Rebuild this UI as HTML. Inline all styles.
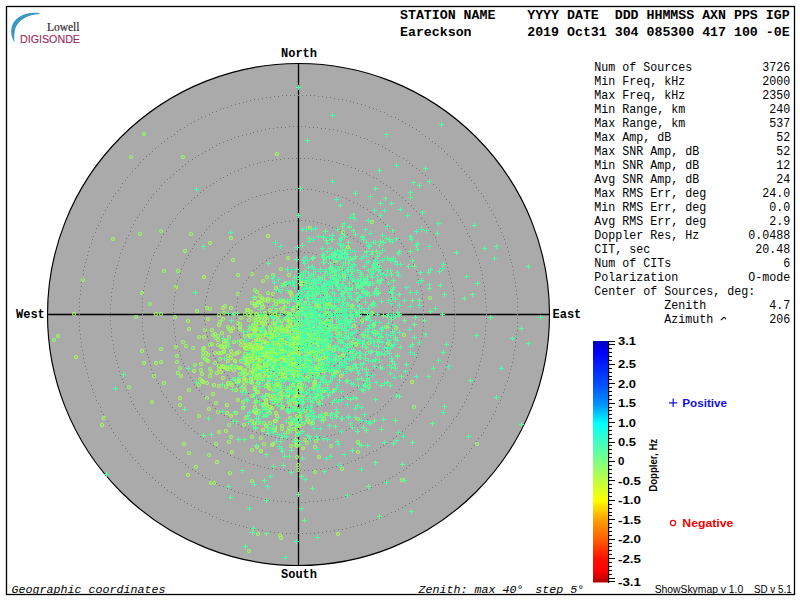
<!DOCTYPE html><html><head><meta charset="utf-8"><style>html,body{margin:0;padding:0;background:#fff;width:800px;height:600px;overflow:hidden}svg{display:block}</style></head><body><svg width="800" height="600" viewBox="0 0 800 600"><rect x="0" y="0" width="800" height="600" fill="#fff"/><rect x="6.5" y="6.5" width="788" height="588" fill="none" stroke="#000" stroke-width="1.3"/><path d="M39.5,13.2 C25,11 12,18 11.2,30 C11,35 12.5,39.5 14.5,42.5 C14,38 14.2,33 15.3,28.5 C18.5,19.5 28,14.5 39.5,13.9 Z" fill="#3a96c2"/><text x="79.5" y="30.5" text-anchor="end" font-family="Liberation Serif, serif" font-size="11.5" fill="#2a2228" stroke="#2a2228" stroke-width="0.15">Lowell</text><text x="20" y="42.6" font-family="Liberation Sans, sans-serif" font-size="10.2" fill="#9a2a62" stroke="#9a2a62" stroke-width="0.1" textLength="60" lengthAdjust="spacingAndGlyphs">DIGISONDE</text><text x="400" y="19.3" font-family="Liberation Mono, monospace" font-weight="bold" font-size="13.25" fill="#000" xml:space="preserve">STATION NAME    YYYY DATE  DDD HHMMSS AXN PPS IGP</text><text x="400" y="36.3" font-family="Liberation Mono, monospace" font-weight="bold" font-size="13.25" fill="#000" xml:space="preserve">Eareckson       2019 Oct31 304 085300 417 100 -0E</text><circle cx="298.5" cy="314.5" r="251" fill="#aaaaaa" stroke="#000" stroke-width="1.15"/><line x1="47.5" y1="314.5" x2="549.5" y2="314.5" stroke="#000" stroke-width="1.3"/><line x1="298.5" y1="63.5" x2="298.5" y2="565.5" stroke="#000" stroke-width="1.3"/><path d="M329,314h1v1h-1zM329,318h1v1h-1zM328,322h1v1h-1zM327,326h1v1h-1zM325,329h1v1h-1zM323,333h1v1h-1zM320,336h1v1h-1zM318,338h1v1h-1zM314,341h1v1h-1zM311,343h1v1h-1zM307,344h1v1h-1zM303,345h1v1h-1zM299,345h1v1h-1zM295,345h1v1h-1zM291,345h1v1h-1zM287,343h1v1h-1zM284,342h1v1h-1zM280,340h1v1h-1zM277,337h1v1h-1zM274,334h1v1h-1zM272,331h1v1h-1zM270,328h1v1h-1zM268,324h1v1h-1zM267,320h1v1h-1zM267,316h1v1h-1zM267,312h1v1h-1zM267,308h1v1h-1zM268,304h1v1h-1zM270,300h1v1h-1zM272,297h1v1h-1zM274,294h1v1h-1zM277,291h1v1h-1zM280,288h1v1h-1zM284,286h1v1h-1zM287,285h1v1h-1zM291,283h1v1h-1zM295,283h1v1h-1zM299,283h1v1h-1zM303,283h1v1h-1zM307,284h1v1h-1zM311,285h1v1h-1zM314,287h1v1h-1zM318,290h1v1h-1zM320,292h1v1h-1zM323,295h1v1h-1zM325,299h1v1h-1zM327,302h1v1h-1zM328,306h1v1h-1zM329,310h1v1h-1zM361,314h1v1h-1zM360,318h1v1h-1zM360,322h1v1h-1zM359,326h1v1h-1zM359,330h1v1h-1zM357,334h1v1h-1zM356,337h1v1h-1zM354,341h1v1h-1zM353,345h1v1h-1zM350,348h1v1h-1zM348,351h1v1h-1zM346,355h1v1h-1zM343,358h1v1h-1zM340,360h1v1h-1zM337,363h1v1h-1zM334,365h1v1h-1zM330,368h1v1h-1zM327,370h1v1h-1zM323,371h1v1h-1zM320,373h1v1h-1zM316,374h1v1h-1zM312,375h1v1h-1zM308,376h1v1h-1zM304,376h1v1h-1zM300,377h1v1h-1zM296,377h1v1h-1zM292,376h1v1h-1zM288,376h1v1h-1zM284,375h1v1h-1zM280,374h1v1h-1zM276,373h1v1h-1zM273,371h1v1h-1zM269,370h1v1h-1zM266,368h1v1h-1zM262,365h1v1h-1zM259,363h1v1h-1zM256,360h1v1h-1zM253,358h1v1h-1zM250,355h1v1h-1zM248,351h1v1h-1zM246,348h1v1h-1zM243,345h1v1h-1zM242,341h1v1h-1zM240,337h1v1h-1zM239,334h1v1h-1zM237,330h1v1h-1zM237,326h1v1h-1zM236,322h1v1h-1zM236,318h1v1h-1zM235,314h1v1h-1zM236,310h1v1h-1zM236,306h1v1h-1zM237,302h1v1h-1zM237,298h1v1h-1zM239,294h1v1h-1zM240,291h1v1h-1zM242,287h1v1h-1zM243,283h1v1h-1zM246,280h1v1h-1zM248,277h1v1h-1zM250,273h1v1h-1zM253,270h1v1h-1zM256,268h1v1h-1zM259,265h1v1h-1zM262,263h1v1h-1zM266,260h1v1h-1zM269,258h1v1h-1zM273,257h1v1h-1zM276,255h1v1h-1zM280,254h1v1h-1zM284,253h1v1h-1zM288,252h1v1h-1zM292,252h1v1h-1zM296,251h1v1h-1zM300,251h1v1h-1zM304,252h1v1h-1zM308,252h1v1h-1zM312,253h1v1h-1zM316,254h1v1h-1zM320,255h1v1h-1zM323,257h1v1h-1zM327,258h1v1h-1zM330,260h1v1h-1zM334,263h1v1h-1zM337,265h1v1h-1zM340,268h1v1h-1zM343,270h1v1h-1zM346,273h1v1h-1zM348,277h1v1h-1zM350,280h1v1h-1zM353,283h1v1h-1zM354,287h1v1h-1zM356,291h1v1h-1zM357,294h1v1h-1zM359,298h1v1h-1zM359,302h1v1h-1zM360,306h1v1h-1zM360,310h1v1h-1zM392,314h1v1h-1zM392,318h1v1h-1zM392,322h1v1h-1zM391,326h1v1h-1zM391,330h1v1h-1zM390,334h1v1h-1zM389,338h1v1h-1zM388,342h1v1h-1zM386,345h1v1h-1zM385,349h1v1h-1zM383,353h1v1h-1zM382,357h1v1h-1zM380,360h1v1h-1zM378,364h1v1h-1zM376,367h1v1h-1zM373,370h1v1h-1zM371,373h1v1h-1zM368,376h1v1h-1zM365,379h1v1h-1zM363,382h1v1h-1zM360,385h1v1h-1zM357,387h1v1h-1zM353,390h1v1h-1zM350,392h1v1h-1zM347,394h1v1h-1zM343,396h1v1h-1zM340,398h1v1h-1zM336,400h1v1h-1zM332,401h1v1h-1zM329,403h1v1h-1zM325,404h1v1h-1zM321,405h1v1h-1zM317,406h1v1h-1zM313,407h1v1h-1zM309,407h1v1h-1zM305,408h1v1h-1zM301,408h1v1h-1zM297,408h1v1h-1zM293,408h1v1h-1zM289,407h1v1h-1zM285,407h1v1h-1zM281,406h1v1h-1zM277,406h1v1h-1zM273,405h1v1h-1zM269,403h1v1h-1zM266,402h1v1h-1zM262,401h1v1h-1zM258,399h1v1h-1zM255,397h1v1h-1zM251,395h1v1h-1zM248,393h1v1h-1zM244,391h1v1h-1zM241,389h1v1h-1zM238,386h1v1h-1zM235,384h1v1h-1zM232,381h1v1h-1zM229,378h1v1h-1zM227,375h1v1h-1zM224,372h1v1h-1zM222,369h1v1h-1zM219,365h1v1h-1zM217,362h1v1h-1zM215,358h1v1h-1zM213,355h1v1h-1zM212,351h1v1h-1zM210,347h1v1h-1zM209,344h1v1h-1zM208,340h1v1h-1zM207,336h1v1h-1zM206,332h1v1h-1zM205,328h1v1h-1zM205,324h1v1h-1zM204,320h1v1h-1zM204,316h1v1h-1zM204,312h1v1h-1zM204,308h1v1h-1zM205,304h1v1h-1zM205,300h1v1h-1zM206,296h1v1h-1zM207,292h1v1h-1zM208,288h1v1h-1zM209,284h1v1h-1zM210,281h1v1h-1zM212,277h1v1h-1zM213,273h1v1h-1zM215,270h1v1h-1zM217,266h1v1h-1zM219,263h1v1h-1zM222,259h1v1h-1zM224,256h1v1h-1zM227,253h1v1h-1zM229,250h1v1h-1zM232,247h1v1h-1zM235,244h1v1h-1zM238,242h1v1h-1zM241,239h1v1h-1zM244,237h1v1h-1zM248,235h1v1h-1zM251,233h1v1h-1zM255,231h1v1h-1zM258,229h1v1h-1zM262,227h1v1h-1zM266,226h1v1h-1zM269,225h1v1h-1zM273,223h1v1h-1zM277,222h1v1h-1zM281,222h1v1h-1zM285,221h1v1h-1zM289,221h1v1h-1zM293,220h1v1h-1zM297,220h1v1h-1zM301,220h1v1h-1zM305,220h1v1h-1zM309,221h1v1h-1zM313,221h1v1h-1zM317,222h1v1h-1zM321,223h1v1h-1zM325,224h1v1h-1zM329,225h1v1h-1zM332,227h1v1h-1zM336,228h1v1h-1zM340,230h1v1h-1zM343,232h1v1h-1zM347,234h1v1h-1zM350,236h1v1h-1zM353,238h1v1h-1zM357,241h1v1h-1zM360,243h1v1h-1zM363,246h1v1h-1zM365,249h1v1h-1zM368,252h1v1h-1zM371,255h1v1h-1zM373,258h1v1h-1zM376,261h1v1h-1zM378,264h1v1h-1zM380,268h1v1h-1zM382,271h1v1h-1zM383,275h1v1h-1zM385,279h1v1h-1zM386,283h1v1h-1zM388,286h1v1h-1zM389,290h1v1h-1zM390,294h1v1h-1zM391,298h1v1h-1zM391,302h1v1h-1zM392,306h1v1h-1zM392,310h1v1h-1zM423,314h1v1h-1zM423,318h1v1h-1zM423,322h1v1h-1zM423,326h1v1h-1zM422,330h1v1h-1zM422,334h1v1h-1zM421,338h1v1h-1zM420,342h1v1h-1zM419,346h1v1h-1zM418,349h1v1h-1zM417,353h1v1h-1zM416,357h1v1h-1zM414,361h1v1h-1zM413,364h1v1h-1zM411,368h1v1h-1zM409,372h1v1h-1zM407,375h1v1h-1zM405,379h1v1h-1zM403,382h1v1h-1zM401,385h1v1h-1zM399,389h1v1h-1zM396,392h1v1h-1zM394,395h1v1h-1zM391,398h1v1h-1zM388,401h1v1h-1zM385,404h1v1h-1zM383,406h1v1h-1zM380,409h1v1h-1zM377,412h1v1h-1zM373,414h1v1h-1zM370,416h1v1h-1zM367,419h1v1h-1zM363,421h1v1h-1zM360,423h1v1h-1zM357,425h1v1h-1zM353,426h1v1h-1zM349,428h1v1h-1zM346,430h1v1h-1zM342,431h1v1h-1zM338,433h1v1h-1zM334,434h1v1h-1zM331,435h1v1h-1zM327,436h1v1h-1zM323,437h1v1h-1zM319,437h1v1h-1zM315,438h1v1h-1zM311,439h1v1h-1zM307,439h1v1h-1zM303,439h1v1h-1zM299,439h1v1h-1zM295,439h1v1h-1zM291,439h1v1h-1zM287,439h1v1h-1zM283,438h1v1h-1zM279,438h1v1h-1zM275,437h1v1h-1zM271,436h1v1h-1zM267,435h1v1h-1zM264,434h1v1h-1zM260,433h1v1h-1zM256,432h1v1h-1zM252,431h1v1h-1zM248,429h1v1h-1zM245,427h1v1h-1zM241,426h1v1h-1zM238,424h1v1h-1zM234,422h1v1h-1zM231,420h1v1h-1zM228,417h1v1h-1zM224,415h1v1h-1zM221,413h1v1h-1zM218,410h1v1h-1zM215,408h1v1h-1zM212,405h1v1h-1zM209,402h1v1h-1zM206,399h1v1h-1zM204,396h1v1h-1zM201,393h1v1h-1zM199,390h1v1h-1zM196,387h1v1h-1zM194,384h1v1h-1zM192,380h1v1h-1zM190,377h1v1h-1zM188,373h1v1h-1zM186,370h1v1h-1zM184,366h1v1h-1zM183,363h1v1h-1zM181,359h1v1h-1zM180,355h1v1h-1zM179,351h1v1h-1zM177,348h1v1h-1zM176,344h1v1h-1zM175,340h1v1h-1zM175,336h1v1h-1zM174,332h1v1h-1zM174,328h1v1h-1zM173,324h1v1h-1zM173,320h1v1h-1zM173,316h1v1h-1zM173,312h1v1h-1zM173,308h1v1h-1zM173,304h1v1h-1zM174,300h1v1h-1zM174,296h1v1h-1zM175,292h1v1h-1zM175,288h1v1h-1zM176,284h1v1h-1zM177,280h1v1h-1zM179,277h1v1h-1zM180,273h1v1h-1zM181,269h1v1h-1zM183,265h1v1h-1zM184,262h1v1h-1zM186,258h1v1h-1zM188,255h1v1h-1zM190,251h1v1h-1zM192,248h1v1h-1zM194,244h1v1h-1zM196,241h1v1h-1zM199,238h1v1h-1zM201,235h1v1h-1zM204,232h1v1h-1zM206,229h1v1h-1zM209,226h1v1h-1zM212,223h1v1h-1zM215,220h1v1h-1zM218,218h1v1h-1zM221,215h1v1h-1zM224,213h1v1h-1zM228,211h1v1h-1zM231,208h1v1h-1zM234,206h1v1h-1zM238,204h1v1h-1zM241,202h1v1h-1zM245,201h1v1h-1zM248,199h1v1h-1zM252,197h1v1h-1zM256,196h1v1h-1zM260,195h1v1h-1zM264,194h1v1h-1zM267,193h1v1h-1zM271,192h1v1h-1zM275,191h1v1h-1zM279,190h1v1h-1zM283,190h1v1h-1zM287,189h1v1h-1zM291,189h1v1h-1zM295,189h1v1h-1zM299,189h1v1h-1zM303,189h1v1h-1zM307,189h1v1h-1zM311,189h1v1h-1zM315,190h1v1h-1zM319,191h1v1h-1zM323,191h1v1h-1zM327,192h1v1h-1zM331,193h1v1h-1zM334,194h1v1h-1zM338,195h1v1h-1zM342,197h1v1h-1zM346,198h1v1h-1zM349,200h1v1h-1zM353,202h1v1h-1zM357,203h1v1h-1zM360,205h1v1h-1zM363,207h1v1h-1zM367,209h1v1h-1zM370,212h1v1h-1zM373,214h1v1h-1zM377,216h1v1h-1zM380,219h1v1h-1zM383,222h1v1h-1zM385,224h1v1h-1zM388,227h1v1h-1zM391,230h1v1h-1zM394,233h1v1h-1zM396,236h1v1h-1zM399,239h1v1h-1zM401,243h1v1h-1zM403,246h1v1h-1zM405,249h1v1h-1zM407,253h1v1h-1zM409,256h1v1h-1zM411,260h1v1h-1zM413,264h1v1h-1zM414,267h1v1h-1zM416,271h1v1h-1zM417,275h1v1h-1zM418,279h1v1h-1zM419,282h1v1h-1zM420,286h1v1h-1zM421,290h1v1h-1zM422,294h1v1h-1zM422,298h1v1h-1zM423,302h1v1h-1zM423,306h1v1h-1zM423,310h1v1h-1zM455,314h1v1h-1zM454,318h1v1h-1zM454,322h1v1h-1zM454,326h1v1h-1zM454,330h1v1h-1zM453,334h1v1h-1zM453,338h1v1h-1zM452,342h1v1h-1zM451,346h1v1h-1zM450,350h1v1h-1zM449,354h1v1h-1zM448,357h1v1h-1zM447,361h1v1h-1zM446,365h1v1h-1zM445,369h1v1h-1zM443,373h1v1h-1zM442,376h1v1h-1zM440,380h1v1h-1zM438,383h1v1h-1zM436,387h1v1h-1zM435,391h1v1h-1zM433,394h1v1h-1zM430,397h1v1h-1zM428,401h1v1h-1zM426,404h1v1h-1zM424,407h1v1h-1zM421,410h1v1h-1zM419,414h1v1h-1zM416,417h1v1h-1zM413,420h1v1h-1zM411,423h1v1h-1zM408,425h1v1h-1zM405,428h1v1h-1zM402,431h1v1h-1zM399,433h1v1h-1zM396,436h1v1h-1zM393,438h1v1h-1zM390,441h1v1h-1zM386,443h1v1h-1zM383,445h1v1h-1zM380,447h1v1h-1zM376,450h1v1h-1zM373,451h1v1h-1zM369,453h1v1h-1zM366,455h1v1h-1zM362,457h1v1h-1zM358,458h1v1h-1zM355,460h1v1h-1zM351,461h1v1h-1zM347,463h1v1h-1zM343,464h1v1h-1zM339,465h1v1h-1zM336,466h1v1h-1zM332,467h1v1h-1zM328,468h1v1h-1zM324,468h1v1h-1zM320,469h1v1h-1zM316,469h1v1h-1zM312,470h1v1h-1zM308,470h1v1h-1zM304,470h1v1h-1zM300,470h1v1h-1zM296,470h1v1h-1zM292,470h1v1h-1zM288,470h1v1h-1zM284,470h1v1h-1zM280,469h1v1h-1zM276,469h1v1h-1zM272,468h1v1h-1zM268,468h1v1h-1zM264,467h1v1h-1zM260,466h1v1h-1zM257,465h1v1h-1zM253,464h1v1h-1zM249,463h1v1h-1zM245,461h1v1h-1zM241,460h1v1h-1zM238,458h1v1h-1zM234,457h1v1h-1zM230,455h1v1h-1zM227,453h1v1h-1zM223,451h1v1h-1zM220,450h1v1h-1zM216,447h1v1h-1zM213,445h1v1h-1zM210,443h1v1h-1zM206,441h1v1h-1zM203,438h1v1h-1zM200,436h1v1h-1zM197,433h1v1h-1zM194,431h1v1h-1zM191,428h1v1h-1zM188,425h1v1h-1zM185,423h1v1h-1zM183,420h1v1h-1zM180,417h1v1h-1zM177,414h1v1h-1zM175,410h1v1h-1zM172,407h1v1h-1zM170,404h1v1h-1zM168,401h1v1h-1zM166,397h1v1h-1zM163,394h1v1h-1zM161,391h1v1h-1zM160,387h1v1h-1zM158,383h1v1h-1zM156,380h1v1h-1zM154,376h1v1h-1zM153,373h1v1h-1zM151,369h1v1h-1zM150,365h1v1h-1zM149,361h1v1h-1zM148,357h1v1h-1zM147,354h1v1h-1zM146,350h1v1h-1zM145,346h1v1h-1zM144,342h1v1h-1zM143,338h1v1h-1zM143,334h1v1h-1zM142,330h1v1h-1zM142,326h1v1h-1zM142,322h1v1h-1zM142,318h1v1h-1zM142,314h1v1h-1zM142,310h1v1h-1zM142,306h1v1h-1zM142,302h1v1h-1zM142,298h1v1h-1zM143,294h1v1h-1zM143,290h1v1h-1zM144,286h1v1h-1zM145,282h1v1h-1zM146,278h1v1h-1zM147,274h1v1h-1zM148,271h1v1h-1zM149,267h1v1h-1zM150,263h1v1h-1zM151,259h1v1h-1zM153,255h1v1h-1zM154,252h1v1h-1zM156,248h1v1h-1zM158,245h1v1h-1zM160,241h1v1h-1zM161,237h1v1h-1zM163,234h1v1h-1zM166,231h1v1h-1zM168,227h1v1h-1zM170,224h1v1h-1zM172,221h1v1h-1zM175,218h1v1h-1zM177,214h1v1h-1zM180,211h1v1h-1zM183,208h1v1h-1zM185,205h1v1h-1zM188,203h1v1h-1zM191,200h1v1h-1zM194,197h1v1h-1zM197,195h1v1h-1zM200,192h1v1h-1zM203,190h1v1h-1zM206,187h1v1h-1zM210,185h1v1h-1zM213,183h1v1h-1zM216,181h1v1h-1zM220,178h1v1h-1zM223,177h1v1h-1zM227,175h1v1h-1zM230,173h1v1h-1zM234,171h1v1h-1zM238,170h1v1h-1zM241,168h1v1h-1zM245,167h1v1h-1zM249,165h1v1h-1zM253,164h1v1h-1zM257,163h1v1h-1zM260,162h1v1h-1zM264,161h1v1h-1zM268,160h1v1h-1zM272,160h1v1h-1zM276,159h1v1h-1zM280,159h1v1h-1zM284,158h1v1h-1zM288,158h1v1h-1zM292,158h1v1h-1zM296,158h1v1h-1zM300,158h1v1h-1zM304,158h1v1h-1zM308,158h1v1h-1zM312,158h1v1h-1zM316,159h1v1h-1zM320,159h1v1h-1zM324,160h1v1h-1zM328,160h1v1h-1zM332,161h1v1h-1zM336,162h1v1h-1zM339,163h1v1h-1zM343,164h1v1h-1zM347,165h1v1h-1zM351,167h1v1h-1zM355,168h1v1h-1zM358,170h1v1h-1zM362,171h1v1h-1zM366,173h1v1h-1zM369,175h1v1h-1zM373,177h1v1h-1zM376,178h1v1h-1zM380,181h1v1h-1zM383,183h1v1h-1zM386,185h1v1h-1zM390,187h1v1h-1zM393,190h1v1h-1zM396,192h1v1h-1zM399,195h1v1h-1zM402,197h1v1h-1zM405,200h1v1h-1zM408,203h1v1h-1zM411,205h1v1h-1zM413,208h1v1h-1zM416,211h1v1h-1zM419,214h1v1h-1zM421,218h1v1h-1zM424,221h1v1h-1zM426,224h1v1h-1zM428,227h1v1h-1zM430,231h1v1h-1zM433,234h1v1h-1zM435,237h1v1h-1zM436,241h1v1h-1zM438,245h1v1h-1zM440,248h1v1h-1zM442,252h1v1h-1zM443,255h1v1h-1zM445,259h1v1h-1zM446,263h1v1h-1zM447,267h1v1h-1zM448,271h1v1h-1zM449,274h1v1h-1zM450,278h1v1h-1zM451,282h1v1h-1zM452,286h1v1h-1zM453,290h1v1h-1zM453,294h1v1h-1zM454,298h1v1h-1zM454,302h1v1h-1zM454,306h1v1h-1zM454,310h1v1h-1zM486,314h1v1h-1zM486,318h1v1h-1zM486,322h1v1h-1zM485,326h1v1h-1zM485,330h1v1h-1zM485,334h1v1h-1zM484,338h1v1h-1zM484,342h1v1h-1zM483,346h1v1h-1zM482,350h1v1h-1zM482,354h1v1h-1zM481,358h1v1h-1zM480,361h1v1h-1zM479,365h1v1h-1zM478,369h1v1h-1zM476,373h1v1h-1zM475,377h1v1h-1zM474,381h1v1h-1zM472,384h1v1h-1zM471,388h1v1h-1zM469,392h1v1h-1zM467,395h1v1h-1zM466,399h1v1h-1zM464,402h1v1h-1zM462,406h1v1h-1zM460,409h1v1h-1zM458,413h1v1h-1zM456,416h1v1h-1zM453,419h1v1h-1zM451,423h1v1h-1zM449,426h1v1h-1zM446,429h1v1h-1zM444,432h1v1h-1zM441,435h1v1h-1zM439,438h1v1h-1zM436,441h1v1h-1zM433,444h1v1h-1zM430,447h1v1h-1zM428,450h1v1h-1zM425,453h1v1h-1zM422,455h1v1h-1zM419,458h1v1h-1zM416,460h1v1h-1zM412,463h1v1h-1zM409,465h1v1h-1zM406,468h1v1h-1zM403,470h1v1h-1zM399,472h1v1h-1zM396,474h1v1h-1zM392,476h1v1h-1zM389,478h1v1h-1zM385,480h1v1h-1zM382,482h1v1h-1zM378,484h1v1h-1zM375,485h1v1h-1zM371,487h1v1h-1zM367,489h1v1h-1zM364,490h1v1h-1zM360,491h1v1h-1zM356,493h1v1h-1zM352,494h1v1h-1zM348,495h1v1h-1zM345,496h1v1h-1zM341,497h1v1h-1zM337,498h1v1h-1zM333,499h1v1h-1zM329,499h1v1h-1zM325,500h1v1h-1zM321,500h1v1h-1zM317,501h1v1h-1zM313,501h1v1h-1zM309,501h1v1h-1zM305,502h1v1h-1zM301,502h1v1h-1zM297,502h1v1h-1zM293,502h1v1h-1zM289,502h1v1h-1zM285,501h1v1h-1zM281,501h1v1h-1zM277,501h1v1h-1zM273,500h1v1h-1zM269,500h1v1h-1zM265,499h1v1h-1zM261,498h1v1h-1zM257,497h1v1h-1zM253,496h1v1h-1zM250,495h1v1h-1zM246,494h1v1h-1zM242,493h1v1h-1zM238,492h1v1h-1zM234,491h1v1h-1zM231,489h1v1h-1zM227,488h1v1h-1zM223,486h1v1h-1zM219,485h1v1h-1zM216,483h1v1h-1zM212,481h1v1h-1zM209,479h1v1h-1zM205,477h1v1h-1zM202,475h1v1h-1zM198,473h1v1h-1zM195,471h1v1h-1zM192,469h1v1h-1zM188,467h1v1h-1zM185,464h1v1h-1zM182,462h1v1h-1zM179,459h1v1h-1zM176,457h1v1h-1zM173,454h1v1h-1zM170,451h1v1h-1zM167,449h1v1h-1zM164,446h1v1h-1zM161,443h1v1h-1zM159,440h1v1h-1zM156,437h1v1h-1zM153,434h1v1h-1zM151,431h1v1h-1zM148,428h1v1h-1zM146,424h1v1h-1zM144,421h1v1h-1zM142,418h1v1h-1zM139,414h1v1h-1zM137,411h1v1h-1zM135,408h1v1h-1zM133,404h1v1h-1zM131,401h1v1h-1zM130,397h1v1h-1zM128,393h1v1h-1zM126,390h1v1h-1zM125,386h1v1h-1zM123,382h1v1h-1zM122,379h1v1h-1zM120,375h1v1h-1zM119,371h1v1h-1zM118,367h1v1h-1zM117,363h1v1h-1zM116,360h1v1h-1zM115,356h1v1h-1zM114,352h1v1h-1zM113,348h1v1h-1zM113,344h1v1h-1zM112,340h1v1h-1zM111,336h1v1h-1zM111,332h1v1h-1zM111,328h1v1h-1zM110,324h1v1h-1zM110,320h1v1h-1zM110,316h1v1h-1zM110,312h1v1h-1zM110,308h1v1h-1zM110,304h1v1h-1zM111,300h1v1h-1zM111,296h1v1h-1zM111,292h1v1h-1zM112,288h1v1h-1zM113,284h1v1h-1zM113,280h1v1h-1zM114,276h1v1h-1zM115,272h1v1h-1zM116,268h1v1h-1zM117,265h1v1h-1zM118,261h1v1h-1zM119,257h1v1h-1zM120,253h1v1h-1zM122,249h1v1h-1zM123,246h1v1h-1zM125,242h1v1h-1zM126,238h1v1h-1zM128,235h1v1h-1zM130,231h1v1h-1zM131,227h1v1h-1zM133,224h1v1h-1zM135,220h1v1h-1zM137,217h1v1h-1zM139,214h1v1h-1zM142,210h1v1h-1zM144,207h1v1h-1zM146,204h1v1h-1zM148,200h1v1h-1zM151,197h1v1h-1zM153,194h1v1h-1zM156,191h1v1h-1zM159,188h1v1h-1zM161,185h1v1h-1zM164,182h1v1h-1zM167,179h1v1h-1zM170,177h1v1h-1zM173,174h1v1h-1zM176,171h1v1h-1zM179,169h1v1h-1zM182,166h1v1h-1zM185,164h1v1h-1zM188,161h1v1h-1zM192,159h1v1h-1zM195,157h1v1h-1zM198,155h1v1h-1zM202,153h1v1h-1zM205,151h1v1h-1zM209,149h1v1h-1zM212,147h1v1h-1zM216,145h1v1h-1zM219,143h1v1h-1zM223,142h1v1h-1zM227,140h1v1h-1zM231,139h1v1h-1zM234,137h1v1h-1zM238,136h1v1h-1zM242,135h1v1h-1zM246,134h1v1h-1zM250,133h1v1h-1zM253,132h1v1h-1zM257,131h1v1h-1zM261,130h1v1h-1zM265,129h1v1h-1zM269,128h1v1h-1zM273,128h1v1h-1zM277,127h1v1h-1zM281,127h1v1h-1zM285,127h1v1h-1zM289,126h1v1h-1zM293,126h1v1h-1zM297,126h1v1h-1zM301,126h1v1h-1zM305,126h1v1h-1zM309,127h1v1h-1zM313,127h1v1h-1zM317,127h1v1h-1zM321,128h1v1h-1zM325,128h1v1h-1zM329,129h1v1h-1zM333,129h1v1h-1zM337,130h1v1h-1zM341,131h1v1h-1zM345,132h1v1h-1zM348,133h1v1h-1zM352,134h1v1h-1zM356,135h1v1h-1zM360,137h1v1h-1zM364,138h1v1h-1zM367,139h1v1h-1zM371,141h1v1h-1zM375,143h1v1h-1zM378,144h1v1h-1zM382,146h1v1h-1zM385,148h1v1h-1zM389,150h1v1h-1zM392,152h1v1h-1zM396,154h1v1h-1zM399,156h1v1h-1zM403,158h1v1h-1zM406,160h1v1h-1zM409,163h1v1h-1zM412,165h1v1h-1zM416,168h1v1h-1zM419,170h1v1h-1zM422,173h1v1h-1zM425,175h1v1h-1zM428,178h1v1h-1zM430,181h1v1h-1zM433,184h1v1h-1zM436,187h1v1h-1zM439,190h1v1h-1zM441,193h1v1h-1zM444,196h1v1h-1zM446,199h1v1h-1zM449,202h1v1h-1zM451,205h1v1h-1zM453,209h1v1h-1zM456,212h1v1h-1zM458,215h1v1h-1zM460,219h1v1h-1zM462,222h1v1h-1zM464,226h1v1h-1zM466,229h1v1h-1zM467,233h1v1h-1zM469,236h1v1h-1zM471,240h1v1h-1zM472,244h1v1h-1zM474,247h1v1h-1zM475,251h1v1h-1zM476,255h1v1h-1zM478,259h1v1h-1zM479,263h1v1h-1zM480,267h1v1h-1zM481,270h1v1h-1zM482,274h1v1h-1zM482,278h1v1h-1zM483,282h1v1h-1zM484,286h1v1h-1zM484,290h1v1h-1zM485,294h1v1h-1zM485,298h1v1h-1zM485,302h1v1h-1zM486,306h1v1h-1zM486,310h1v1h-1zM517,314h1v1h-1zM517,318h1v1h-1zM517,322h1v1h-1zM517,326h1v1h-1zM517,330h1v1h-1zM516,334h1v1h-1zM516,338h1v1h-1zM515,342h1v1h-1zM515,346h1v1h-1zM514,350h1v1h-1zM513,354h1v1h-1zM513,358h1v1h-1zM512,362h1v1h-1zM511,366h1v1h-1zM510,369h1v1h-1zM509,373h1v1h-1zM508,377h1v1h-1zM507,381h1v1h-1zM505,385h1v1h-1zM504,389h1v1h-1zM503,392h1v1h-1zM501,396h1v1h-1zM500,400h1v1h-1zM498,403h1v1h-1zM496,407h1v1h-1zM495,411h1v1h-1zM493,414h1v1h-1zM491,418h1v1h-1zM489,421h1v1h-1zM487,425h1v1h-1zM485,428h1v1h-1zM483,432h1v1h-1zM481,435h1v1h-1zM478,438h1v1h-1zM476,441h1v1h-1zM474,445h1v1h-1zM471,448h1v1h-1zM469,451h1v1h-1zM466,454h1v1h-1zM464,457h1v1h-1zM461,460h1v1h-1zM458,463h1v1h-1zM456,466h1v1h-1zM453,469h1v1h-1zM450,472h1v1h-1zM447,474h1v1h-1zM444,477h1v1h-1zM441,480h1v1h-1zM438,482h1v1h-1zM435,485h1v1h-1zM432,487h1v1h-1zM429,490h1v1h-1zM425,492h1v1h-1zM422,494h1v1h-1zM419,497h1v1h-1zM416,499h1v1h-1zM412,501h1v1h-1zM409,503h1v1h-1zM405,505h1v1h-1zM402,507h1v1h-1zM398,509h1v1h-1zM395,511h1v1h-1zM391,512h1v1h-1zM387,514h1v1h-1zM384,516h1v1h-1zM380,517h1v1h-1zM376,519h1v1h-1zM373,520h1v1h-1zM369,521h1v1h-1zM365,523h1v1h-1zM361,524h1v1h-1zM357,525h1v1h-1zM353,526h1v1h-1zM350,527h1v1h-1zM346,528h1v1h-1zM342,529h1v1h-1zM338,529h1v1h-1zM334,530h1v1h-1zM330,531h1v1h-1zM326,531h1v1h-1zM322,532h1v1h-1zM318,532h1v1h-1zM314,533h1v1h-1zM310,533h1v1h-1zM306,533h1v1h-1zM302,533h1v1h-1zM298,533h1v1h-1zM294,533h1v1h-1zM290,533h1v1h-1zM286,533h1v1h-1zM282,533h1v1h-1zM278,532h1v1h-1zM274,532h1v1h-1zM270,531h1v1h-1zM266,531h1v1h-1zM262,530h1v1h-1zM258,529h1v1h-1zM254,529h1v1h-1zM250,528h1v1h-1zM246,527h1v1h-1zM243,526h1v1h-1zM239,525h1v1h-1zM235,524h1v1h-1zM231,523h1v1h-1zM227,521h1v1h-1zM223,520h1v1h-1zM220,519h1v1h-1zM216,517h1v1h-1zM212,516h1v1h-1zM209,514h1v1h-1zM205,512h1v1h-1zM201,511h1v1h-1zM198,509h1v1h-1zM194,507h1v1h-1zM191,505h1v1h-1zM187,503h1v1h-1zM184,501h1v1h-1zM180,499h1v1h-1zM177,497h1v1h-1zM174,494h1v1h-1zM171,492h1v1h-1zM167,490h1v1h-1zM164,487h1v1h-1zM161,485h1v1h-1zM158,482h1v1h-1zM155,480h1v1h-1zM152,477h1v1h-1zM149,474h1v1h-1zM146,472h1v1h-1zM143,469h1v1h-1zM140,466h1v1h-1zM138,463h1v1h-1zM135,460h1v1h-1zM132,457h1v1h-1zM130,454h1v1h-1zM127,451h1v1h-1zM125,448h1v1h-1zM122,445h1v1h-1zM120,441h1v1h-1zM118,438h1v1h-1zM115,435h1v1h-1zM113,432h1v1h-1zM111,428h1v1h-1zM109,425h1v1h-1zM107,421h1v1h-1zM105,418h1v1h-1zM103,414h1v1h-1zM101,411h1v1h-1zM100,407h1v1h-1zM98,403h1v1h-1zM96,400h1v1h-1zM95,396h1v1h-1zM93,392h1v1h-1zM92,389h1v1h-1zM91,385h1v1h-1zM89,381h1v1h-1zM88,377h1v1h-1zM87,373h1v1h-1zM86,369h1v1h-1zM85,366h1v1h-1zM84,362h1v1h-1zM83,358h1v1h-1zM83,354h1v1h-1zM82,350h1v1h-1zM81,346h1v1h-1zM81,342h1v1h-1zM80,338h1v1h-1zM80,334h1v1h-1zM79,330h1v1h-1zM79,326h1v1h-1zM79,322h1v1h-1zM79,318h1v1h-1zM79,314h1v1h-1zM79,310h1v1h-1zM79,306h1v1h-1zM79,302h1v1h-1zM79,298h1v1h-1zM80,294h1v1h-1zM80,290h1v1h-1zM81,286h1v1h-1zM81,282h1v1h-1zM82,278h1v1h-1zM83,274h1v1h-1zM83,270h1v1h-1zM84,266h1v1h-1zM85,262h1v1h-1zM86,259h1v1h-1zM87,255h1v1h-1zM88,251h1v1h-1zM89,247h1v1h-1zM91,243h1v1h-1zM92,239h1v1h-1zM93,236h1v1h-1zM95,232h1v1h-1zM96,228h1v1h-1zM98,225h1v1h-1zM100,221h1v1h-1zM101,217h1v1h-1zM103,214h1v1h-1zM105,210h1v1h-1zM107,207h1v1h-1zM109,203h1v1h-1zM111,200h1v1h-1zM113,196h1v1h-1zM115,193h1v1h-1zM118,190h1v1h-1zM120,187h1v1h-1zM122,183h1v1h-1zM125,180h1v1h-1zM127,177h1v1h-1zM130,174h1v1h-1zM132,171h1v1h-1zM135,168h1v1h-1zM138,165h1v1h-1zM140,162h1v1h-1zM143,159h1v1h-1zM146,156h1v1h-1zM149,154h1v1h-1zM152,151h1v1h-1zM155,148h1v1h-1zM158,146h1v1h-1zM161,143h1v1h-1zM164,141h1v1h-1zM167,138h1v1h-1zM171,136h1v1h-1zM174,134h1v1h-1zM177,131h1v1h-1zM180,129h1v1h-1zM184,127h1v1h-1zM187,125h1v1h-1zM191,123h1v1h-1zM194,121h1v1h-1zM198,119h1v1h-1zM201,117h1v1h-1zM205,116h1v1h-1zM209,114h1v1h-1zM212,112h1v1h-1zM216,111h1v1h-1zM220,109h1v1h-1zM223,108h1v1h-1zM227,107h1v1h-1zM231,105h1v1h-1zM235,104h1v1h-1zM239,103h1v1h-1zM243,102h1v1h-1zM246,101h1v1h-1zM250,100h1v1h-1zM254,99h1v1h-1zM258,99h1v1h-1zM262,98h1v1h-1zM266,97h1v1h-1zM270,97h1v1h-1zM274,96h1v1h-1zM278,96h1v1h-1zM282,95h1v1h-1zM286,95h1v1h-1zM290,95h1v1h-1zM294,95h1v1h-1zM298,95h1v1h-1zM302,95h1v1h-1zM306,95h1v1h-1zM310,95h1v1h-1zM314,95h1v1h-1zM318,96h1v1h-1zM322,96h1v1h-1zM326,97h1v1h-1zM330,97h1v1h-1zM334,98h1v1h-1zM338,99h1v1h-1zM342,99h1v1h-1zM346,100h1v1h-1zM350,101h1v1h-1zM353,102h1v1h-1zM357,103h1v1h-1zM361,104h1v1h-1zM365,105h1v1h-1zM369,107h1v1h-1zM373,108h1v1h-1zM376,109h1v1h-1zM380,111h1v1h-1zM384,112h1v1h-1zM387,114h1v1h-1zM391,116h1v1h-1zM395,117h1v1h-1zM398,119h1v1h-1zM402,121h1v1h-1zM405,123h1v1h-1zM409,125h1v1h-1zM412,127h1v1h-1zM416,129h1v1h-1zM419,131h1v1h-1zM422,134h1v1h-1zM425,136h1v1h-1zM429,138h1v1h-1zM432,141h1v1h-1zM435,143h1v1h-1zM438,146h1v1h-1zM441,148h1v1h-1zM444,151h1v1h-1zM447,154h1v1h-1zM450,156h1v1h-1zM453,159h1v1h-1zM456,162h1v1h-1zM458,165h1v1h-1zM461,168h1v1h-1zM464,171h1v1h-1zM466,174h1v1h-1zM469,177h1v1h-1zM471,180h1v1h-1zM474,183h1v1h-1zM476,187h1v1h-1zM478,190h1v1h-1zM481,193h1v1h-1zM483,196h1v1h-1zM485,200h1v1h-1zM487,203h1v1h-1zM489,207h1v1h-1zM491,210h1v1h-1zM493,214h1v1h-1zM495,217h1v1h-1zM496,221h1v1h-1zM498,225h1v1h-1zM500,228h1v1h-1zM501,232h1v1h-1zM503,236h1v1h-1zM504,239h1v1h-1zM505,243h1v1h-1zM507,247h1v1h-1zM508,251h1v1h-1zM509,255h1v1h-1zM510,259h1v1h-1zM511,262h1v1h-1zM512,266h1v1h-1zM513,270h1v1h-1zM513,274h1v1h-1zM514,278h1v1h-1zM515,282h1v1h-1zM515,286h1v1h-1zM516,290h1v1h-1zM516,294h1v1h-1zM517,298h1v1h-1zM517,302h1v1h-1zM517,306h1v1h-1zM517,310h1v1h-1z" fill="#7c7c7c" shape-rendering="crispEdges"/><path d="M203.5,330a1.5,1.5 0 1,0 3,0a1.5,1.5 0 1,0-3,0M300.5,312a1.5,1.5 0 1,0 3,0a1.5,1.5 0 1,0-3,0M262.5,347a1.5,1.5 0 1,0 3,0a1.5,1.5 0 1,0-3,0M259.5,343a1.5,1.5 0 1,0 3,0a1.5,1.5 0 1,0-3,0M232.5,379a1.5,1.5 0 1,0 3,0a1.5,1.5 0 1,0-3,0M246.5,364a1.5,1.5 0 1,0 3,0a1.5,1.5 0 1,0-3,0M278.5,350a1.5,1.5 0 1,0 3,0a1.5,1.5 0 1,0-3,0M291.5,375a1.5,1.5 0 1,0 3,0a1.5,1.5 0 1,0-3,0M320.5,365a1.5,1.5 0 1,0 3,0a1.5,1.5 0 1,0-3,0M315.5,367a1.5,1.5 0 1,0 3,0a1.5,1.5 0 1,0-3,0M241.5,402a1.5,1.5 0 1,0 3,0a1.5,1.5 0 1,0-3,0M250.5,383a1.5,1.5 0 1,0 3,0a1.5,1.5 0 1,0-3,0M367.5,386a1.5,1.5 0 1,0 3,0a1.5,1.5 0 1,0-3,0M275.5,398a1.5,1.5 0 1,0 3,0a1.5,1.5 0 1,0-3,0M264.5,416a1.5,1.5 0 1,0 3,0a1.5,1.5 0 1,0-3,0M305.5,443a1.5,1.5 0 1,0 3,0a1.5,1.5 0 1,0-3,0M159.5,231a1.5,1.5 0 1,0 3,0a1.5,1.5 0 1,0-3,0M127.5,387a1.5,1.5 0 1,0 3,0a1.5,1.5 0 1,0-3,0" stroke="#8cff60" stroke-width="1.1" fill="none"/><path d="M284.5,283a1.5,1.5 0 1,0 3,0a1.5,1.5 0 1,0-3,0M208.5,309a1.5,1.5 0 1,0 3,0a1.5,1.5 0 1,0-3,0M265.5,321a1.5,1.5 0 1,0 3,0a1.5,1.5 0 1,0-3,0M216.5,336a1.5,1.5 0 1,0 3,0a1.5,1.5 0 1,0-3,0M227.5,337a1.5,1.5 0 1,0 3,0a1.5,1.5 0 1,0-3,0M256.5,350a1.5,1.5 0 1,0 3,0a1.5,1.5 0 1,0-3,0M250.5,328a1.5,1.5 0 1,0 3,0a1.5,1.5 0 1,0-3,0M320.5,338a1.5,1.5 0 1,0 3,0a1.5,1.5 0 1,0-3,0M318.5,351a1.5,1.5 0 1,0 3,0a1.5,1.5 0 1,0-3,0M307.5,324a1.5,1.5 0 1,0 3,0a1.5,1.5 0 1,0-3,0M208.5,345a1.5,1.5 0 1,0 3,0a1.5,1.5 0 1,0-3,0M203.5,359a1.5,1.5 0 1,0 3,0a1.5,1.5 0 1,0-3,0M266.5,365a1.5,1.5 0 1,0 3,0a1.5,1.5 0 1,0-3,0M280.5,364a1.5,1.5 0 1,0 3,0a1.5,1.5 0 1,0-3,0M271.5,355a1.5,1.5 0 1,0 3,0a1.5,1.5 0 1,0-3,0M292.5,359a1.5,1.5 0 1,0 3,0a1.5,1.5 0 1,0-3,0M281.5,374a1.5,1.5 0 1,0 3,0a1.5,1.5 0 1,0-3,0M304.5,356a1.5,1.5 0 1,0 3,0a1.5,1.5 0 1,0-3,0M226.5,384a1.5,1.5 0 1,0 3,0a1.5,1.5 0 1,0-3,0M296.5,377a1.5,1.5 0 1,0 3,0a1.5,1.5 0 1,0-3,0M276.5,381a1.5,1.5 0 1,0 3,0a1.5,1.5 0 1,0-3,0M326.5,383a1.5,1.5 0 1,0 3,0a1.5,1.5 0 1,0-3,0M288.5,402a1.5,1.5 0 1,0 3,0a1.5,1.5 0 1,0-3,0M322.5,415a1.5,1.5 0 1,0 3,0a1.5,1.5 0 1,0-3,0M214.5,444a1.5,1.5 0 1,0 3,0a1.5,1.5 0 1,0-3,0M228.5,473a1.5,1.5 0 1,0 3,0a1.5,1.5 0 1,0-3,0M134.5,317a1.5,1.5 0 1,0 3,0a1.5,1.5 0 1,0-3,0M309.5,314a1.5,1.5 0 1,0 3,0a1.5,1.5 0 1,0-3,0M249.5,316a1.5,1.5 0 1,0 3,0a1.5,1.5 0 1,0-3,0" stroke="#93ff5c" stroke-width="1.1" fill="none"/><path d="M265.5,277a1.5,1.5 0 1,0 3,0a1.5,1.5 0 1,0-3,0M286.5,302a1.5,1.5 0 1,0 3,0a1.5,1.5 0 1,0-3,0M299.5,324a1.5,1.5 0 1,0 3,0a1.5,1.5 0 1,0-3,0M274.5,310a1.5,1.5 0 1,0 3,0a1.5,1.5 0 1,0-3,0M298.5,304a1.5,1.5 0 1,0 3,0a1.5,1.5 0 1,0-3,0M344.5,317a1.5,1.5 0 1,0 3,0a1.5,1.5 0 1,0-3,0M363.5,312a1.5,1.5 0 1,0 3,0a1.5,1.5 0 1,0-3,0M260.5,329a1.5,1.5 0 1,0 3,0a1.5,1.5 0 1,0-3,0M252.5,330a1.5,1.5 0 1,0 3,0a1.5,1.5 0 1,0-3,0M265.5,344a1.5,1.5 0 1,0 3,0a1.5,1.5 0 1,0-3,0M326.5,347a1.5,1.5 0 1,0 3,0a1.5,1.5 0 1,0-3,0M333.5,326a1.5,1.5 0 1,0 3,0a1.5,1.5 0 1,0-3,0M307.5,330a1.5,1.5 0 1,0 3,0a1.5,1.5 0 1,0-3,0M303.5,329a1.5,1.5 0 1,0 3,0a1.5,1.5 0 1,0-3,0M310.5,344a1.5,1.5 0 1,0 3,0a1.5,1.5 0 1,0-3,0M311.5,340a1.5,1.5 0 1,0 3,0a1.5,1.5 0 1,0-3,0M201.5,349a1.5,1.5 0 1,0 3,0a1.5,1.5 0 1,0-3,0M239.5,368a1.5,1.5 0 1,0 3,0a1.5,1.5 0 1,0-3,0M253.5,374a1.5,1.5 0 1,0 3,0a1.5,1.5 0 1,0-3,0M264.5,369a1.5,1.5 0 1,0 3,0a1.5,1.5 0 1,0-3,0M270.5,352a1.5,1.5 0 1,0 3,0a1.5,1.5 0 1,0-3,0M294.5,360a1.5,1.5 0 1,0 3,0a1.5,1.5 0 1,0-3,0M289.5,369a1.5,1.5 0 1,0 3,0a1.5,1.5 0 1,0-3,0M282.5,365a1.5,1.5 0 1,0 3,0a1.5,1.5 0 1,0-3,0M313.5,353a1.5,1.5 0 1,0 3,0a1.5,1.5 0 1,0-3,0M266.5,384a1.5,1.5 0 1,0 3,0a1.5,1.5 0 1,0-3,0M277.5,386a1.5,1.5 0 1,0 3,0a1.5,1.5 0 1,0-3,0M294.5,392a1.5,1.5 0 1,0 3,0a1.5,1.5 0 1,0-3,0M280.5,426a1.5,1.5 0 1,0 3,0a1.5,1.5 0 1,0-3,0M297.5,401a1.5,1.5 0 1,0 3,0a1.5,1.5 0 1,0-3,0M301.5,424a1.5,1.5 0 1,0 3,0a1.5,1.5 0 1,0-3,0M318.5,416a1.5,1.5 0 1,0 3,0a1.5,1.5 0 1,0-3,0M271.5,444a1.5,1.5 0 1,0 3,0a1.5,1.5 0 1,0-3,0M294.5,445a1.5,1.5 0 1,0 3,0a1.5,1.5 0 1,0-3,0M174.5,347a1.5,1.5 0 1,0 3,0a1.5,1.5 0 1,0-3,0M198.5,379a1.5,1.5 0 1,0 3,0a1.5,1.5 0 1,0-3,0M254.5,314a1.5,1.5 0 1,0 3,0a1.5,1.5 0 1,0-3,0M297.5,331a1.5,1.5 0 1,0 3,0a1.5,1.5 0 1,0-3,0" stroke="#9aff58" stroke-width="1.1" fill="none"/><path d="M253.5,298a1.5,1.5 0 1,0 3,0a1.5,1.5 0 1,0-3,0M318.5,308a1.5,1.5 0 1,0 3,0a1.5,1.5 0 1,0-3,0M225.5,341a1.5,1.5 0 1,0 3,0a1.5,1.5 0 1,0-3,0M256.5,346a1.5,1.5 0 1,0 3,0a1.5,1.5 0 1,0-3,0M259.5,339a1.5,1.5 0 1,0 3,0a1.5,1.5 0 1,0-3,0M247.5,335a1.5,1.5 0 1,0 3,0a1.5,1.5 0 1,0-3,0M290.5,329a1.5,1.5 0 1,0 3,0a1.5,1.5 0 1,0-3,0M280.5,345a1.5,1.5 0 1,0 3,0a1.5,1.5 0 1,0-3,0M276.5,343a1.5,1.5 0 1,0 3,0a1.5,1.5 0 1,0-3,0M299.5,344a1.5,1.5 0 1,0 3,0a1.5,1.5 0 1,0-3,0M307.5,347a1.5,1.5 0 1,0 3,0a1.5,1.5 0 1,0-3,0M352.5,326a1.5,1.5 0 1,0 3,0a1.5,1.5 0 1,0-3,0M327.5,336a1.5,1.5 0 1,0 3,0a1.5,1.5 0 1,0-3,0M200.5,374a1.5,1.5 0 1,0 3,0a1.5,1.5 0 1,0-3,0M217.5,369a1.5,1.5 0 1,0 3,0a1.5,1.5 0 1,0-3,0M250.5,358a1.5,1.5 0 1,0 3,0a1.5,1.5 0 1,0-3,0M252.5,354a1.5,1.5 0 1,0 3,0a1.5,1.5 0 1,0-3,0M270.5,358a1.5,1.5 0 1,0 3,0a1.5,1.5 0 1,0-3,0M264.5,367a1.5,1.5 0 1,0 3,0a1.5,1.5 0 1,0-3,0M264.5,358a1.5,1.5 0 1,0 3,0a1.5,1.5 0 1,0-3,0M284.5,363a1.5,1.5 0 1,0 3,0a1.5,1.5 0 1,0-3,0M283.5,358a1.5,1.5 0 1,0 3,0a1.5,1.5 0 1,0-3,0M286.5,366a1.5,1.5 0 1,0 3,0a1.5,1.5 0 1,0-3,0M211.5,394a1.5,1.5 0 1,0 3,0a1.5,1.5 0 1,0-3,0M237.5,380a1.5,1.5 0 1,0 3,0a1.5,1.5 0 1,0-3,0M288.5,391a1.5,1.5 0 1,0 3,0a1.5,1.5 0 1,0-3,0M290.5,377a1.5,1.5 0 1,0 3,0a1.5,1.5 0 1,0-3,0M319.5,396a1.5,1.5 0 1,0 3,0a1.5,1.5 0 1,0-3,0M339.5,376a1.5,1.5 0 1,0 3,0a1.5,1.5 0 1,0-3,0M257.5,411a1.5,1.5 0 1,0 3,0a1.5,1.5 0 1,0-3,0M253.5,407a1.5,1.5 0 1,0 3,0a1.5,1.5 0 1,0-3,0M227.5,442a1.5,1.5 0 1,0 3,0a1.5,1.5 0 1,0-3,0M255.5,447a1.5,1.5 0 1,0 3,0a1.5,1.5 0 1,0-3,0M356.5,452a1.5,1.5 0 1,0 3,0a1.5,1.5 0 1,0-3,0M186.5,475a1.5,1.5 0 1,0 3,0a1.5,1.5 0 1,0-3,0M209.5,483a1.5,1.5 0 1,0 3,0a1.5,1.5 0 1,0-3,0M178.5,398a1.5,1.5 0 1,0 3,0a1.5,1.5 0 1,0-3,0" stroke="#a1ff54" stroke-width="1.1" fill="none"/><path d="M308.5,228a1.5,1.5 0 1,0 3,0a1.5,1.5 0 1,0-3,0M263.5,324a1.5,1.5 0 1,0 3,0a1.5,1.5 0 1,0-3,0M254.5,327a1.5,1.5 0 1,0 3,0a1.5,1.5 0 1,0-3,0M301.5,323a1.5,1.5 0 1,0 3,0a1.5,1.5 0 1,0-3,0M243.5,342a1.5,1.5 0 1,0 3,0a1.5,1.5 0 1,0-3,0M252.5,352a1.5,1.5 0 1,0 3,0a1.5,1.5 0 1,0-3,0M254.5,341a1.5,1.5 0 1,0 3,0a1.5,1.5 0 1,0-3,0M394.5,328a1.5,1.5 0 1,0 3,0a1.5,1.5 0 1,0-3,0M219.5,372a1.5,1.5 0 1,0 3,0a1.5,1.5 0 1,0-3,0M233.5,361a1.5,1.5 0 1,0 3,0a1.5,1.5 0 1,0-3,0M226.5,361a1.5,1.5 0 1,0 3,0a1.5,1.5 0 1,0-3,0M257.5,355a1.5,1.5 0 1,0 3,0a1.5,1.5 0 1,0-3,0M289.5,370a1.5,1.5 0 1,0 3,0a1.5,1.5 0 1,0-3,0M296.5,370a1.5,1.5 0 1,0 3,0a1.5,1.5 0 1,0-3,0M304.5,351a1.5,1.5 0 1,0 3,0a1.5,1.5 0 1,0-3,0M316.5,372a1.5,1.5 0 1,0 3,0a1.5,1.5 0 1,0-3,0M266.5,375a1.5,1.5 0 1,0 3,0a1.5,1.5 0 1,0-3,0M267.5,384a1.5,1.5 0 1,0 3,0a1.5,1.5 0 1,0-3,0M217.5,432a1.5,1.5 0 1,0 3,0a1.5,1.5 0 1,0-3,0M296.5,317a1.5,1.5 0 1,0 3,0a1.5,1.5 0 1,0-3,0M296.5,420a1.5,1.5 0 1,0 3,0a1.5,1.5 0 1,0-3,0" stroke="#a8ff50" stroke-width="1.1" fill="none"/><path d="M307,241.5h5M309.5,239v5M327,237.5h5M329.5,235v5M346,242.5h5M348.5,240v5M338,251.5h5M340.5,249v5M370,272.5h5M372.5,270v5M276,279.5h5M278.5,277v5M296,293.5h5M298.5,291v5M303,288.5h5M305.5,286v5M310,286.5h5M312.5,284v5M317,322.5h5M319.5,320v5M328,306.5h5M330.5,304v5M318,303.5h5M320.5,301v5M342,315.5h5M344.5,313v5M332,302.5h5M334.5,300v5M289,347.5h5M291.5,345v5M286,342.5h5M288.5,340v5M320,334.5h5M322.5,332v5M303,335.5h5M305.5,333v5M349,333.5h5M351.5,331v5M366,338.5h5M368.5,336v5M372,345.5h5M374.5,343v5M273,367.5h5M275.5,365v5M259,360.5h5M261.5,358v5M324,365.5h5M326.5,363v5M304,347.5h5M306.5,345v5M322,369.5h5M324.5,367v5M349,370.5h5M351.5,368v5M276,398.5h5M278.5,396v5M314,394.5h5M316.5,392v5M335,385.5h5M337.5,383v5M274,401.5h5M276.5,399v5M284,410.5h5M286.5,408v5M279,435.5h5M281.5,433v5M394,165.5h5M396.5,163v5M289,269.5h5M291.5,267v5M304,315.5h5M306.5,313v5M307,314.5h5M309.5,312v5" stroke="#40ffb0" stroke-width="1" fill="none" shape-rendering="crispEdges"/><path d="M348,250.5h5M350.5,248v5M328,248.5h5M330.5,246v5M363,229.5h5M365.5,227v5M310,266.5h5M312.5,264v5M340,272.5h5M342.5,270v5M343,278.5h5M345.5,276v5M338,277.5h5M340.5,275v5M320,248.5h5M322.5,246v5M330,267.5h5M332.5,265v5M333,258.5h5M335.5,256v5M393,261.5h5M395.5,259v5M375,276.5h5M377.5,274v5M279,299.5h5M281.5,297v5M308,285.5h5M310.5,283v5M305,280.5h5M307.5,278v5M302,287.5h5M304.5,285v5M313,287.5h5M315.5,285v5M313,292.5h5M315.5,290v5M336,278.5h5M338.5,276v5M356,285.5h5M358.5,283v5M354,287.5h5M356.5,285v5M296,315.5h5M298.5,313v5M297,305.5h5M299.5,303v5M326,321.5h5M328.5,319v5M324,320.5h5M326.5,318v5M310,317.5h5M312.5,315v5M299,315.5h5M301.5,313v5M346,321.5h5M348.5,319v5M253,333.5h5M255.5,331v5M268,328.5h5M270.5,326v5M277,344.5h5M279.5,342v5M326,331.5h5M328.5,329v5M307,342.5h5M309.5,340v5M310,326.5h5M312.5,324v5M247,356.5h5M249.5,354v5M275,357.5h5M277.5,355v5M320,361.5h5M322.5,359v5M322,353.5h5M324.5,351v5M315,349.5h5M317.5,347v5M337,360.5h5M339.5,358v5M322,354.5h5M324.5,352v5M329,367.5h5M331.5,365v5M330,350.5h5M332.5,348v5M377,353.5h5M379.5,351v5M320,396.5h5M322.5,394v5M310,400.5h5M312.5,398v5M314,395.5h5M316.5,393v5M332,400.5h5M334.5,398v5M344,381.5h5M346.5,379v5M334,389.5h5M336.5,387v5M351,384.5h5M353.5,382v5M292,408.5h5M294.5,406v5M364,421.5h5M366.5,419v5M368,422.5h5M370.5,420v5M381,419.5h5M383.5,417v5M265,430.5h5M267.5,428v5M228,232.5h5M230.5,230v5M414,292.5h5M416.5,290v5M407,329.5h5M409.5,327v5M337,465.5h5M339.5,463v5" stroke="#48ffa8" stroke-width="1" fill="none" shape-rendering="crispEdges"/><path d="M330,235.5h5M332.5,233v5M334,275.5h5M336.5,273v5M329,256.5h5M331.5,254v5M339,257.5h5M341.5,255v5M398,264.5h5M400.5,262v5M287,282.5h5M289.5,280v5M292,277.5h5M294.5,275v5M307,281.5h5M309.5,279v5M300,280.5h5M302.5,278v5M311,274.5h5M313.5,272v5M366,285.5h5M368.5,283v5M350,280.5h5M352.5,278v5M379,301.5h5M381.5,299v5M397,294.5h5M399.5,292v5M322,322.5h5M324.5,320v5M317,315.5h5M319.5,313v5M337,312.5h5M339.5,310v5M343,313.5h5M345.5,311v5M364,318.5h5M366.5,316v5M359,323.5h5M361.5,321v5M268,351.5h5M270.5,349v5M255,336.5h5M257.5,334v5M276,327.5h5M278.5,325v5M312,340.5h5M314.5,338v5M305,336.5h5M307.5,334v5M300,326.5h5M302.5,324v5M324,322.5h5M326.5,320v5M326,332.5h5M328.5,330v5M334,336.5h5M336.5,334v5M322,337.5h5M324.5,335v5M349,327.5h5M351.5,325v5M388,335.5h5M390.5,333v5M395,355.5h5M397.5,353v5M379,331.5h5M381.5,329v5M224,365.5h5M226.5,363v5M241,357.5h5M243.5,355v5M254,368.5h5M256.5,366v5M271,348.5h5M273.5,346v5M260,381.5h5M262.5,379v5M253,374.5h5M255.5,372v5M290,349.5h5M292.5,347v5M298,363.5h5M300.5,361v5M341,373.5h5M343.5,371v5M358,364.5h5M360.5,362v5M387,353.5h5M389.5,351v5M261,397.5h5M263.5,395v5M262,386.5h5M264.5,384v5M263,395.5h5M265.5,393v5M293,393.5h5M295.5,391v5M300,389.5h5M302.5,387v5M314,393.5h5M316.5,391v5M300,401.5h5M302.5,399v5M328,380.5h5M330.5,378v5M254,418.5h5M256.5,416v5M264,425.5h5M266.5,423v5M286,410.5h5M288.5,408v5M290,422.5h5M292.5,420v5M299,413.5h5M301.5,411v5M318,392.5h5M320.5,390v5M305,407.5h5M307.5,405v5M333,414.5h5M335.5,412v5M318,404.5h5M320.5,402v5M417,342.5h5M419.5,340v5M404,364.5h5M406.5,362v5M300,458.5h5M302.5,456v5M264,500.5h5M266.5,498v5M228,497.5h5M230.5,495v5" stroke="#50ffa0" stroke-width="1" fill="none" shape-rendering="crispEdges"/><path d="M381,242.5h5M383.5,240v5M348,269.5h5M350.5,267v5M327,256.5h5M329.5,254v5M337,254.5h5M339.5,252v5M366,270.5h5M368.5,268v5M385,270.5h5M387.5,268v5M388,270.5h5M390.5,268v5M293,297.5h5M295.5,295v5M312,287.5h5M314.5,285v5M304,282.5h5M306.5,280v5M316,280.5h5M318.5,278v5M326,287.5h5M328.5,285v5M324,283.5h5M326.5,281v5M354,287.5h5M356.5,285v5M364,293.5h5M366.5,291v5M361,292.5h5M363.5,290v5M374,288.5h5M376.5,286v5M282,306.5h5M284.5,304v5M308,312.5h5M310.5,310v5M301,309.5h5M303.5,307v5M312,308.5h5M314.5,306v5M331,307.5h5M333.5,305v5M334,328.5h5M336.5,326v5M349,319.5h5M351.5,317v5M324,302.5h5M326.5,300v5M363,318.5h5M365.5,316v5M235,341.5h5M237.5,339v5M286,349.5h5M288.5,347v5M287,338.5h5M289.5,336v5M294,355.5h5M296.5,353v5M280,349.5h5M282.5,347v5M305,331.5h5M307.5,329v5M302,348.5h5M304.5,346v5M308,339.5h5M310.5,337v5M302,344.5h5M304.5,342v5M312,335.5h5M314.5,333v5M303,328.5h5M305.5,326v5M307,341.5h5M309.5,339v5M314,351.5h5M316.5,349v5M306,323.5h5M308.5,321v5M320,341.5h5M322.5,339v5M350,351.5h5M352.5,349v5M365,331.5h5M367.5,329v5M354,353.5h5M356.5,351v5M368,338.5h5M370.5,336v5M398,347.5h5M400.5,345v5M274,350.5h5M276.5,348v5M254,370.5h5M256.5,368v5M273,367.5h5M275.5,365v5M258,367.5h5M260.5,365v5M261,361.5h5M263.5,359v5M259,350.5h5M261.5,348v5M295,369.5h5M297.5,367v5M300,348.5h5M302.5,346v5M318,367.5h5M320.5,365v5M321,377.5h5M323.5,375v5M351,358.5h5M353.5,356v5M373,359.5h5M375.5,357v5M390,361.5h5M392.5,359v5M235,383.5h5M237.5,381v5M220,384.5h5M222.5,382v5M260,396.5h5M262.5,394v5M303,386.5h5M305.5,384v5M279,402.5h5M281.5,400v5M330,392.5h5M332.5,390v5M363,380.5h5M365.5,378v5M256,414.5h5M258.5,412v5M253,427.5h5M255.5,425v5M274,398.5h5M276.5,396v5M330,402.5h5M332.5,400v5M391,443.5h5M393.5,441v5M417,300.5h5M419.5,298v5M422,320.5h5M424.5,318v5M423,334.5h5M425.5,332v5M468,380.5h5M470.5,378v5M430,423.5h5M432.5,421v5M281,465.5h5M283.5,463v5M393,316.5h5M395.5,314v5M296,368.5h5M298.5,366v5" stroke="#58ff98" stroke-width="1" fill="none" shape-rendering="crispEdges"/><path d="M307,238.5h5M309.5,236v5M328,268.5h5M330.5,266v5M351,264.5h5M353.5,262v5M321,285.5h5M323.5,283v5M284,317.5h5M286.5,315v5M295,305.5h5M297.5,303v5M310,321.5h5M312.5,319v5M303,304.5h5M305.5,302v5M345,321.5h5M347.5,319v5M324,324.5h5M326.5,322v5M268,331.5h5M270.5,329v5M274,325.5h5M276.5,323v5M319,339.5h5M321.5,337v5M318,337.5h5M320.5,335v5M315,353.5h5M317.5,351v5M337,332.5h5M339.5,330v5M393,339.5h5M395.5,337v5M376,339.5h5M378.5,337v5M285,389.5h5M287.5,387v5M345,380.5h5M347.5,378v5M322,390.5h5M324.5,388v5M231,421.5h5M233.5,419v5M201,435.5h5M203.5,433v5M293,439.5h5M295.5,437v5M412,266.5h5M414.5,264v5M373,462.5h5M375.5,460v5M264,533.5h5M266.5,531v5" stroke="#60ff90" stroke-width="1" fill="none" shape-rendering="crispEdges"/><path d="M329.5,283a1.5,1.5 0 1,0 3,0a1.5,1.5 0 1,0-3,0M256.5,348a1.5,1.5 0 1,0 3,0a1.5,1.5 0 1,0-3,0M254.5,322a1.5,1.5 0 1,0 3,0a1.5,1.5 0 1,0-3,0M298.5,340a1.5,1.5 0 1,0 3,0a1.5,1.5 0 1,0-3,0M313.5,333a1.5,1.5 0 1,0 3,0a1.5,1.5 0 1,0-3,0M255.5,351a1.5,1.5 0 1,0 3,0a1.5,1.5 0 1,0-3,0M269.5,359a1.5,1.5 0 1,0 3,0a1.5,1.5 0 1,0-3,0M262.5,354a1.5,1.5 0 1,0 3,0a1.5,1.5 0 1,0-3,0M264.5,346a1.5,1.5 0 1,0 3,0a1.5,1.5 0 1,0-3,0M294.5,369a1.5,1.5 0 1,0 3,0a1.5,1.5 0 1,0-3,0M278.5,374a1.5,1.5 0 1,0 3,0a1.5,1.5 0 1,0-3,0M268.5,413a1.5,1.5 0 1,0 3,0a1.5,1.5 0 1,0-3,0M313.5,447a1.5,1.5 0 1,0 3,0a1.5,1.5 0 1,0-3,0M329.5,446a1.5,1.5 0 1,0 3,0a1.5,1.5 0 1,0-3,0M148.5,304a1.5,1.5 0 1,0 3,0a1.5,1.5 0 1,0-3,0" stroke="#8cff60" stroke-width="1.1" fill="none"/><path d="M260.5,298a1.5,1.5 0 1,0 3,0a1.5,1.5 0 1,0-3,0M266.5,293a1.5,1.5 0 1,0 3,0a1.5,1.5 0 1,0-3,0M289.5,293a1.5,1.5 0 1,0 3,0a1.5,1.5 0 1,0-3,0M282.5,301a1.5,1.5 0 1,0 3,0a1.5,1.5 0 1,0-3,0M279.5,309a1.5,1.5 0 1,0 3,0a1.5,1.5 0 1,0-3,0M279.5,325a1.5,1.5 0 1,0 3,0a1.5,1.5 0 1,0-3,0M340.5,305a1.5,1.5 0 1,0 3,0a1.5,1.5 0 1,0-3,0M226.5,327a1.5,1.5 0 1,0 3,0a1.5,1.5 0 1,0-3,0M249.5,349a1.5,1.5 0 1,0 3,0a1.5,1.5 0 1,0-3,0M222.5,344a1.5,1.5 0 1,0 3,0a1.5,1.5 0 1,0-3,0M261.5,328a1.5,1.5 0 1,0 3,0a1.5,1.5 0 1,0-3,0M258.5,337a1.5,1.5 0 1,0 3,0a1.5,1.5 0 1,0-3,0M276.5,320a1.5,1.5 0 1,0 3,0a1.5,1.5 0 1,0-3,0M290.5,335a1.5,1.5 0 1,0 3,0a1.5,1.5 0 1,0-3,0M282.5,351a1.5,1.5 0 1,0 3,0a1.5,1.5 0 1,0-3,0M290.5,346a1.5,1.5 0 1,0 3,0a1.5,1.5 0 1,0-3,0M364.5,336a1.5,1.5 0 1,0 3,0a1.5,1.5 0 1,0-3,0M199.5,370a1.5,1.5 0 1,0 3,0a1.5,1.5 0 1,0-3,0M237.5,352a1.5,1.5 0 1,0 3,0a1.5,1.5 0 1,0-3,0M243.5,370a1.5,1.5 0 1,0 3,0a1.5,1.5 0 1,0-3,0M242.5,362a1.5,1.5 0 1,0 3,0a1.5,1.5 0 1,0-3,0M274.5,358a1.5,1.5 0 1,0 3,0a1.5,1.5 0 1,0-3,0M251.5,350a1.5,1.5 0 1,0 3,0a1.5,1.5 0 1,0-3,0M274.5,359a1.5,1.5 0 1,0 3,0a1.5,1.5 0 1,0-3,0M268.5,362a1.5,1.5 0 1,0 3,0a1.5,1.5 0 1,0-3,0M275.5,365a1.5,1.5 0 1,0 3,0a1.5,1.5 0 1,0-3,0M297.5,354a1.5,1.5 0 1,0 3,0a1.5,1.5 0 1,0-3,0M292.5,374a1.5,1.5 0 1,0 3,0a1.5,1.5 0 1,0-3,0M279.5,363a1.5,1.5 0 1,0 3,0a1.5,1.5 0 1,0-3,0M279.5,379a1.5,1.5 0 1,0 3,0a1.5,1.5 0 1,0-3,0M306.5,377a1.5,1.5 0 1,0 3,0a1.5,1.5 0 1,0-3,0M304.5,365a1.5,1.5 0 1,0 3,0a1.5,1.5 0 1,0-3,0M299.5,368a1.5,1.5 0 1,0 3,0a1.5,1.5 0 1,0-3,0M284.5,371a1.5,1.5 0 1,0 3,0a1.5,1.5 0 1,0-3,0M289.5,446a1.5,1.5 0 1,0 3,0a1.5,1.5 0 1,0-3,0M313.5,472a1.5,1.5 0 1,0 3,0a1.5,1.5 0 1,0-3,0M176.5,271a1.5,1.5 0 1,0 3,0a1.5,1.5 0 1,0-3,0M162.5,383a1.5,1.5 0 1,0 3,0a1.5,1.5 0 1,0-3,0M297.5,385a1.5,1.5 0 1,0 3,0a1.5,1.5 0 1,0-3,0" stroke="#93ff5c" stroke-width="1.1" fill="none"/><path d="M288.5,292a1.5,1.5 0 1,0 3,0a1.5,1.5 0 1,0-3,0M317.5,306a1.5,1.5 0 1,0 3,0a1.5,1.5 0 1,0-3,0M238.5,327a1.5,1.5 0 1,0 3,0a1.5,1.5 0 1,0-3,0M239.5,318a1.5,1.5 0 1,0 3,0a1.5,1.5 0 1,0-3,0M229.5,351a1.5,1.5 0 1,0 3,0a1.5,1.5 0 1,0-3,0M266.5,347a1.5,1.5 0 1,0 3,0a1.5,1.5 0 1,0-3,0M261.5,324a1.5,1.5 0 1,0 3,0a1.5,1.5 0 1,0-3,0M254.5,339a1.5,1.5 0 1,0 3,0a1.5,1.5 0 1,0-3,0M267.5,345a1.5,1.5 0 1,0 3,0a1.5,1.5 0 1,0-3,0M270.5,339a1.5,1.5 0 1,0 3,0a1.5,1.5 0 1,0-3,0M263.5,341a1.5,1.5 0 1,0 3,0a1.5,1.5 0 1,0-3,0M299.5,337a1.5,1.5 0 1,0 3,0a1.5,1.5 0 1,0-3,0M289.5,344a1.5,1.5 0 1,0 3,0a1.5,1.5 0 1,0-3,0M291.5,344a1.5,1.5 0 1,0 3,0a1.5,1.5 0 1,0-3,0M323.5,350a1.5,1.5 0 1,0 3,0a1.5,1.5 0 1,0-3,0M335.5,333a1.5,1.5 0 1,0 3,0a1.5,1.5 0 1,0-3,0M245.5,348a1.5,1.5 0 1,0 3,0a1.5,1.5 0 1,0-3,0M243.5,348a1.5,1.5 0 1,0 3,0a1.5,1.5 0 1,0-3,0M243.5,357a1.5,1.5 0 1,0 3,0a1.5,1.5 0 1,0-3,0M230.5,366a1.5,1.5 0 1,0 3,0a1.5,1.5 0 1,0-3,0M225.5,369a1.5,1.5 0 1,0 3,0a1.5,1.5 0 1,0-3,0M239.5,361a1.5,1.5 0 1,0 3,0a1.5,1.5 0 1,0-3,0M264.5,374a1.5,1.5 0 1,0 3,0a1.5,1.5 0 1,0-3,0M247.5,354a1.5,1.5 0 1,0 3,0a1.5,1.5 0 1,0-3,0M270.5,359a1.5,1.5 0 1,0 3,0a1.5,1.5 0 1,0-3,0M243.5,360a1.5,1.5 0 1,0 3,0a1.5,1.5 0 1,0-3,0M250.5,360a1.5,1.5 0 1,0 3,0a1.5,1.5 0 1,0-3,0M271.5,360a1.5,1.5 0 1,0 3,0a1.5,1.5 0 1,0-3,0M296.5,355a1.5,1.5 0 1,0 3,0a1.5,1.5 0 1,0-3,0M282.5,369a1.5,1.5 0 1,0 3,0a1.5,1.5 0 1,0-3,0M291.5,373a1.5,1.5 0 1,0 3,0a1.5,1.5 0 1,0-3,0M277.5,355a1.5,1.5 0 1,0 3,0a1.5,1.5 0 1,0-3,0M318.5,370a1.5,1.5 0 1,0 3,0a1.5,1.5 0 1,0-3,0M294.5,351a1.5,1.5 0 1,0 3,0a1.5,1.5 0 1,0-3,0M315.5,371a1.5,1.5 0 1,0 3,0a1.5,1.5 0 1,0-3,0M326.5,363a1.5,1.5 0 1,0 3,0a1.5,1.5 0 1,0-3,0M212.5,385a1.5,1.5 0 1,0 3,0a1.5,1.5 0 1,0-3,0M230.5,385a1.5,1.5 0 1,0 3,0a1.5,1.5 0 1,0-3,0M256.5,379a1.5,1.5 0 1,0 3,0a1.5,1.5 0 1,0-3,0M272.5,402a1.5,1.5 0 1,0 3,0a1.5,1.5 0 1,0-3,0M280.5,408a1.5,1.5 0 1,0 3,0a1.5,1.5 0 1,0-3,0M295.5,403a1.5,1.5 0 1,0 3,0a1.5,1.5 0 1,0-3,0M289.5,424a1.5,1.5 0 1,0 3,0a1.5,1.5 0 1,0-3,0M400.5,480a1.5,1.5 0 1,0 3,0a1.5,1.5 0 1,0-3,0M340.5,469a1.5,1.5 0 1,0 3,0a1.5,1.5 0 1,0-3,0M296.5,465a1.5,1.5 0 1,0 3,0a1.5,1.5 0 1,0-3,0M195.5,311a1.5,1.5 0 1,0 3,0a1.5,1.5 0 1,0-3,0M184.5,346a1.5,1.5 0 1,0 3,0a1.5,1.5 0 1,0-3,0M250.5,274a1.5,1.5 0 1,0 3,0a1.5,1.5 0 1,0-3,0M247.5,315a1.5,1.5 0 1,0 3,0a1.5,1.5 0 1,0-3,0" stroke="#9aff58" stroke-width="1.1" fill="none"/><path d="M338.5,268a1.5,1.5 0 1,0 3,0a1.5,1.5 0 1,0-3,0M238.5,329a1.5,1.5 0 1,0 3,0a1.5,1.5 0 1,0-3,0M255.5,305a1.5,1.5 0 1,0 3,0a1.5,1.5 0 1,0-3,0M233.5,354a1.5,1.5 0 1,0 3,0a1.5,1.5 0 1,0-3,0M269.5,338a1.5,1.5 0 1,0 3,0a1.5,1.5 0 1,0-3,0M257.5,348a1.5,1.5 0 1,0 3,0a1.5,1.5 0 1,0-3,0M254.5,326a1.5,1.5 0 1,0 3,0a1.5,1.5 0 1,0-3,0M294.5,349a1.5,1.5 0 1,0 3,0a1.5,1.5 0 1,0-3,0M299.5,346a1.5,1.5 0 1,0 3,0a1.5,1.5 0 1,0-3,0M283.5,342a1.5,1.5 0 1,0 3,0a1.5,1.5 0 1,0-3,0M326.5,349a1.5,1.5 0 1,0 3,0a1.5,1.5 0 1,0-3,0M297.5,342a1.5,1.5 0 1,0 3,0a1.5,1.5 0 1,0-3,0M319.5,351a1.5,1.5 0 1,0 3,0a1.5,1.5 0 1,0-3,0M307.5,325a1.5,1.5 0 1,0 3,0a1.5,1.5 0 1,0-3,0M307.5,330a1.5,1.5 0 1,0 3,0a1.5,1.5 0 1,0-3,0M219.5,367a1.5,1.5 0 1,0 3,0a1.5,1.5 0 1,0-3,0M264.5,367a1.5,1.5 0 1,0 3,0a1.5,1.5 0 1,0-3,0M251.5,372a1.5,1.5 0 1,0 3,0a1.5,1.5 0 1,0-3,0M252.5,373a1.5,1.5 0 1,0 3,0a1.5,1.5 0 1,0-3,0M274.5,359a1.5,1.5 0 1,0 3,0a1.5,1.5 0 1,0-3,0M205.5,383a1.5,1.5 0 1,0 3,0a1.5,1.5 0 1,0-3,0M229.5,383a1.5,1.5 0 1,0 3,0a1.5,1.5 0 1,0-3,0M269.5,398a1.5,1.5 0 1,0 3,0a1.5,1.5 0 1,0-3,0M282.5,378a1.5,1.5 0 1,0 3,0a1.5,1.5 0 1,0-3,0M319.5,389a1.5,1.5 0 1,0 3,0a1.5,1.5 0 1,0-3,0M332.5,390a1.5,1.5 0 1,0 3,0a1.5,1.5 0 1,0-3,0M244.5,418a1.5,1.5 0 1,0 3,0a1.5,1.5 0 1,0-3,0M274.5,413a1.5,1.5 0 1,0 3,0a1.5,1.5 0 1,0-3,0M287.5,412a1.5,1.5 0 1,0 3,0a1.5,1.5 0 1,0-3,0M370.5,222a1.5,1.5 0 1,0 3,0a1.5,1.5 0 1,0-3,0M187.5,453a1.5,1.5 0 1,0 3,0a1.5,1.5 0 1,0-3,0M215.5,462a1.5,1.5 0 1,0 3,0a1.5,1.5 0 1,0-3,0M295.5,341a1.5,1.5 0 1,0 3,0a1.5,1.5 0 1,0-3,0" stroke="#a1ff54" stroke-width="1.1" fill="none"/><path d="M205.5,308a1.5,1.5 0 1,0 3,0a1.5,1.5 0 1,0-3,0M229.5,331a1.5,1.5 0 1,0 3,0a1.5,1.5 0 1,0-3,0M265.5,335a1.5,1.5 0 1,0 3,0a1.5,1.5 0 1,0-3,0M221.5,378a1.5,1.5 0 1,0 3,0a1.5,1.5 0 1,0-3,0M221.5,366a1.5,1.5 0 1,0 3,0a1.5,1.5 0 1,0-3,0M243.5,390a1.5,1.5 0 1,0 3,0a1.5,1.5 0 1,0-3,0M251.5,396a1.5,1.5 0 1,0 3,0a1.5,1.5 0 1,0-3,0M272.5,390a1.5,1.5 0 1,0 3,0a1.5,1.5 0 1,0-3,0M253.5,411a1.5,1.5 0 1,0 3,0a1.5,1.5 0 1,0-3,0M273.5,427a1.5,1.5 0 1,0 3,0a1.5,1.5 0 1,0-3,0M307.5,422a1.5,1.5 0 1,0 3,0a1.5,1.5 0 1,0-3,0M295.5,441a1.5,1.5 0 1,0 3,0a1.5,1.5 0 1,0-3,0M111.5,239a1.5,1.5 0 1,0 3,0a1.5,1.5 0 1,0-3,0M266.5,236a1.5,1.5 0 1,0 3,0a1.5,1.5 0 1,0-3,0" stroke="#a8ff50" stroke-width="1.1" fill="none"/><path d="M345,253.5h5M347.5,251v5M361,256.5h5M363.5,254v5M395,264.5h5M397.5,262v5M298,290.5h5M300.5,288v5M328,284.5h5M330.5,282v5M297,308.5h5M299.5,306v5M301,311.5h5M303.5,309v5M318,314.5h5M320.5,312v5M339,320.5h5M341.5,318v5M270,329.5h5M272.5,327v5M290,350.5h5M292.5,348v5M312,333.5h5M314.5,331v5M314,350.5h5M316.5,348v5M316,335.5h5M318.5,333v5M329,353.5h5M331.5,351v5M263,343.5h5M265.5,341v5M282,361.5h5M284.5,359v5M298,357.5h5M300.5,355v5M315,374.5h5M317.5,372v5M319,370.5h5M321.5,368v5M343,364.5h5M345.5,362v5M273,385.5h5M275.5,383v5M281,378.5h5M283.5,376v5M365,375.5h5M367.5,373v5M298,418.5h5M300.5,416v5M309,406.5h5M311.5,404v5M312,428.5h5M314.5,426v5M345,404.5h5M347.5,402v5M359,420.5h5M361.5,418v5M318,428.5h5M320.5,426v5M315,449.5h5M317.5,447v5M265,486.5h5M267.5,484v5M283,557.5h5M285.5,555v5" stroke="#40ffb0" stroke-width="1" fill="none" shape-rendering="crispEdges"/><path d="M321,236.5h5M323.5,234v5M339,245.5h5M341.5,243v5M390,241.5h5M392.5,239v5M303,257.5h5M305.5,255v5M325,273.5h5M327.5,271v5M336,270.5h5M338.5,268v5M322,258.5h5M324.5,256v5M350,266.5h5M352.5,264v5M350,271.5h5M352.5,269v5M389,259.5h5M391.5,257v5M283,284.5h5M285.5,282v5M322,293.5h5M324.5,291v5M322,284.5h5M324.5,282v5M297,301.5h5M299.5,299v5M314,282.5h5M316.5,280v5M316,287.5h5M318.5,285v5M327,301.5h5M329.5,299v5M339,293.5h5M341.5,291v5M324,288.5h5M326.5,286v5M363,296.5h5M365.5,294v5M351,278.5h5M353.5,276v5M386,283.5h5M388.5,281v5M389,303.5h5M391.5,301v5M309,311.5h5M311.5,309v5M298,310.5h5M300.5,308v5M307,313.5h5M309.5,311v5M308,313.5h5M310.5,311v5M307,304.5h5M309.5,302v5M345,315.5h5M347.5,313v5M269,343.5h5M271.5,341v5M242,340.5h5M244.5,338v5M277,323.5h5M279.5,321v5M285,352.5h5M287.5,350v5M294,337.5h5M296.5,335v5M297,340.5h5M299.5,338v5M298,343.5h5M300.5,341v5M311,330.5h5M313.5,328v5M335,330.5h5M337.5,328v5M355,339.5h5M357.5,337v5M357,342.5h5M359.5,340v5M397,332.5h5M399.5,330v5M268,364.5h5M270.5,362v5M269,348.5h5M271.5,346v5M290,369.5h5M292.5,367v5M298,357.5h5M300.5,355v5M312,359.5h5M314.5,357v5M308,368.5h5M310.5,366v5M313,369.5h5M315.5,367v5M308,371.5h5M310.5,369v5M302,358.5h5M304.5,356v5M321,365.5h5M323.5,363v5M309,352.5h5M311.5,350v5M372,366.5h5M374.5,364v5M267,394.5h5M269.5,392v5M257,377.5h5M259.5,375v5M293,393.5h5M295.5,391v5M290,399.5h5M292.5,397v5M283,387.5h5M285.5,385v5M307,390.5h5M309.5,388v5M305,379.5h5M307.5,377v5M339,391.5h5M341.5,389v5M349,383.5h5M351.5,381v5M276,417.5h5M278.5,415v5M334,400.5h5M336.5,398v5M359,407.5h5M361.5,405v5M253,428.5h5M255.5,426v5M338,205.5h5M340.5,203v5M342,223.5h5M344.5,221v5M464,276.5h5M466.5,274v5M402,300.5h5M404.5,298v5M441,352.5h5M443.5,350v5M328,456.5h5M330.5,454v5M268,476.5h5M270.5,474v5" stroke="#48ffa8" stroke-width="1" fill="none" shape-rendering="crispEdges"/><path d="M360,236.5h5M362.5,234v5M310,258.5h5M312.5,256v5M332,271.5h5M334.5,269v5M353,256.5h5M355.5,254v5M371,271.5h5M373.5,269v5M347,260.5h5M349.5,258v5M372,265.5h5M374.5,263v5M292,286.5h5M294.5,284v5M313,289.5h5M315.5,287v5M315,290.5h5M317.5,288v5M312,279.5h5M314.5,277v5M336,280.5h5M338.5,278v5M374,294.5h5M376.5,292v5M354,299.5h5M356.5,297v5M379,279.5h5M381.5,277v5M317,326.5h5M319.5,324v5M316,303.5h5M318.5,301v5M316,303.5h5M318.5,301v5M344,319.5h5M346.5,317v5M348,322.5h5M350.5,320v5M268,346.5h5M270.5,344v5M293,346.5h5M295.5,344v5M299,326.5h5M301.5,324v5M300,340.5h5M302.5,338v5M293,328.5h5M295.5,326v5M316,343.5h5M318.5,341v5M300,332.5h5M302.5,330v5M295,338.5h5M297.5,336v5M305,338.5h5M307.5,336v5M320,344.5h5M322.5,342v5M324,327.5h5M326.5,325v5M316,357.5h5M318.5,355v5M345,347.5h5M347.5,345v5M370,325.5h5M372.5,323v5M350,333.5h5M352.5,331v5M363,331.5h5M365.5,329v5M376,353.5h5M378.5,351v5M372,331.5h5M374.5,329v5M239,372.5h5M241.5,370v5M270,358.5h5M272.5,356v5M267,359.5h5M269.5,357v5M254,356.5h5M256.5,354v5M285,368.5h5M287.5,366v5M302,366.5h5M304.5,364v5M306,368.5h5M308.5,366v5M302,366.5h5M304.5,364v5M363,358.5h5M365.5,356v5M357,357.5h5M359.5,355v5M274,399.5h5M276.5,397v5M297,380.5h5M299.5,378v5M316,395.5h5M318.5,393v5M312,374.5h5M314.5,372v5M363,386.5h5M365.5,384v5M348,423.5h5M350.5,421v5M269,430.5h5M271.5,428v5M350,427.5h5M352.5,425v5M327,425.5h5M329.5,423v5M355,431.5h5M357.5,429v5M352,218.5h5M354.5,216v5M419,229.5h5M421.5,227v5M424,230.5h5M426.5,228v5M435,233.5h5M437.5,231v5M454,252.5h5M456.5,250v5M441,264.5h5M443.5,262v5M289,472.5h5M291.5,470v5M226,486.5h5M228.5,484v5M243,546.5h5M245.5,544v5M288,314.5h5M290.5,312v5M326,315.5h5M328.5,313v5M297,372.5h5M299.5,370v5" stroke="#50ffa0" stroke-width="1" fill="none" shape-rendering="crispEdges"/><path d="M387,239.5h5M389.5,237v5M342,273.5h5M344.5,271v5M362,266.5h5M364.5,264v5M344,257.5h5M346.5,255v5M297,279.5h5M299.5,277v5M298,293.5h5M300.5,291v5M299,285.5h5M301.5,283v5M323,271.5h5M325.5,269v5M310,298.5h5M312.5,296v5M344,288.5h5M346.5,286v5M332,297.5h5M334.5,295v5M370,283.5h5M372.5,281v5M364,281.5h5M366.5,279v5M354,292.5h5M356.5,290v5M365,276.5h5M367.5,274v5M364,284.5h5M366.5,282v5M226,313.5h5M228.5,311v5M285,300.5h5M287.5,298v5M286,313.5h5M288.5,311v5M305,311.5h5M307.5,309v5M310,317.5h5M312.5,315v5M321,298.5h5M323.5,296v5M340,325.5h5M342.5,323v5M326,311.5h5M328.5,309v5M333,308.5h5M335.5,306v5M366,308.5h5M368.5,306v5M268,329.5h5M270.5,327v5M266,347.5h5M268.5,345v5M292,338.5h5M294.5,336v5M307,331.5h5M309.5,329v5M322,341.5h5M324.5,339v5M300,328.5h5M302.5,326v5M316,343.5h5M318.5,341v5M301,340.5h5M303.5,338v5M320,339.5h5M322.5,337v5M302,330.5h5M304.5,328v5M315,343.5h5M317.5,341v5M331,326.5h5M333.5,324v5M323,327.5h5M325.5,325v5M343,346.5h5M345.5,344v5M332,347.5h5M334.5,345v5M366,334.5h5M368.5,332v5M272,349.5h5M274.5,347v5M258,359.5h5M260.5,357v5M269,359.5h5M271.5,357v5M265,371.5h5M267.5,369v5M283,369.5h5M285.5,367v5M311,371.5h5M313.5,369v5M309,359.5h5M311.5,357v5M307,362.5h5M309.5,360v5M311,369.5h5M313.5,367v5M300,378.5h5M302.5,376v5M321,369.5h5M323.5,367v5M327,355.5h5M329.5,353v5M325,357.5h5M327.5,355v5M387,365.5h5M389.5,363v5M272,393.5h5M274.5,391v5M283,389.5h5M285.5,387v5M287,386.5h5M289.5,384v5M304,392.5h5M306.5,390v5M313,398.5h5M315.5,396v5M314,389.5h5M316.5,387v5M367,382.5h5M369.5,380v5M321,420.5h5M323.5,418v5M319,420.5h5M321.5,418v5M355,405.5h5M357.5,403v5M242,439.5h5M244.5,437v5M289,450.5h5M291.5,448v5M282,433.5h5M284.5,431v5M270,429.5h5M272.5,427v5M315,439.5h5M317.5,437v5M426,272.5h5M428.5,270v5M406,266.5h5M408.5,264v5M300,314.5h5M302.5,312v5M308,314.5h5M310.5,312v5" stroke="#58ff98" stroke-width="1" fill="none" shape-rendering="crispEdges"/><path d="M324,240.5h5M326.5,238v5M311,257.5h5M313.5,255v5M322,275.5h5M324.5,273v5M334,274.5h5M336.5,272v5M360,285.5h5M362.5,283v5M350,287.5h5M352.5,285v5M271,318.5h5M273.5,316v5M303,323.5h5M305.5,321v5M309,316.5h5M311.5,314v5M348,308.5h5M350.5,306v5M328,325.5h5M330.5,323v5M269,347.5h5M271.5,345v5M318,336.5h5M320.5,334v5M303,339.5h5M305.5,337v5M345,338.5h5M347.5,336v5M379,337.5h5M381.5,335v5M254,348.5h5M256.5,346v5M333,360.5h5M335.5,358v5M334,371.5h5M336.5,369v5M293,396.5h5M295.5,394v5M385,382.5h5M387.5,380v5M285,410.5h5M287.5,408v5M293,427.5h5M295.5,425v5M462,298.5h5M464.5,296v5M410,300.5h5M412.5,298v5M402,320.5h5M404.5,318v5M296,494.5h5M298.5,492v5M377,516.5h5M379.5,514v5M349,315.5h5M351.5,313v5M297,444.5h5M299.5,442v5" stroke="#60ff90" stroke-width="1" fill="none" shape-rendering="crispEdges"/><path d="M253.5,290a1.5,1.5 0 1,0 3,0a1.5,1.5 0 1,0-3,0M223.5,306a1.5,1.5 0 1,0 3,0a1.5,1.5 0 1,0-3,0M251.5,325a1.5,1.5 0 1,0 3,0a1.5,1.5 0 1,0-3,0M294.5,323a1.5,1.5 0 1,0 3,0a1.5,1.5 0 1,0-3,0M309.5,309a1.5,1.5 0 1,0 3,0a1.5,1.5 0 1,0-3,0M329.5,321a1.5,1.5 0 1,0 3,0a1.5,1.5 0 1,0-3,0M213.5,334a1.5,1.5 0 1,0 3,0a1.5,1.5 0 1,0-3,0M252.5,348a1.5,1.5 0 1,0 3,0a1.5,1.5 0 1,0-3,0M281.5,336a1.5,1.5 0 1,0 3,0a1.5,1.5 0 1,0-3,0M316.5,342a1.5,1.5 0 1,0 3,0a1.5,1.5 0 1,0-3,0M201.5,357a1.5,1.5 0 1,0 3,0a1.5,1.5 0 1,0-3,0M273.5,351a1.5,1.5 0 1,0 3,0a1.5,1.5 0 1,0-3,0M297.5,381a1.5,1.5 0 1,0 3,0a1.5,1.5 0 1,0-3,0M294.5,366a1.5,1.5 0 1,0 3,0a1.5,1.5 0 1,0-3,0M276.5,385a1.5,1.5 0 1,0 3,0a1.5,1.5 0 1,0-3,0M292.5,400a1.5,1.5 0 1,0 3,0a1.5,1.5 0 1,0-3,0M268.5,423a1.5,1.5 0 1,0 3,0a1.5,1.5 0 1,0-3,0M259.5,438a1.5,1.5 0 1,0 3,0a1.5,1.5 0 1,0-3,0M178.5,368a1.5,1.5 0 1,0 3,0a1.5,1.5 0 1,0-3,0" stroke="#8cff60" stroke-width="1.1" fill="none"/><path d="M268.5,310a1.5,1.5 0 1,0 3,0a1.5,1.5 0 1,0-3,0M250.5,303a1.5,1.5 0 1,0 3,0a1.5,1.5 0 1,0-3,0M296.5,314a1.5,1.5 0 1,0 3,0a1.5,1.5 0 1,0-3,0M288.5,323a1.5,1.5 0 1,0 3,0a1.5,1.5 0 1,0-3,0M249.5,347a1.5,1.5 0 1,0 3,0a1.5,1.5 0 1,0-3,0M252.5,334a1.5,1.5 0 1,0 3,0a1.5,1.5 0 1,0-3,0M273.5,338a1.5,1.5 0 1,0 3,0a1.5,1.5 0 1,0-3,0M263.5,333a1.5,1.5 0 1,0 3,0a1.5,1.5 0 1,0-3,0M272.5,341a1.5,1.5 0 1,0 3,0a1.5,1.5 0 1,0-3,0M273.5,326a1.5,1.5 0 1,0 3,0a1.5,1.5 0 1,0-3,0M266.5,350a1.5,1.5 0 1,0 3,0a1.5,1.5 0 1,0-3,0M246.5,358a1.5,1.5 0 1,0 3,0a1.5,1.5 0 1,0-3,0M261.5,336a1.5,1.5 0 1,0 3,0a1.5,1.5 0 1,0-3,0M297.5,338a1.5,1.5 0 1,0 3,0a1.5,1.5 0 1,0-3,0M289.5,318a1.5,1.5 0 1,0 3,0a1.5,1.5 0 1,0-3,0M328.5,325a1.5,1.5 0 1,0 3,0a1.5,1.5 0 1,0-3,0M360.5,321a1.5,1.5 0 1,0 3,0a1.5,1.5 0 1,0-3,0M213.5,363a1.5,1.5 0 1,0 3,0a1.5,1.5 0 1,0-3,0M259.5,367a1.5,1.5 0 1,0 3,0a1.5,1.5 0 1,0-3,0M257.5,374a1.5,1.5 0 1,0 3,0a1.5,1.5 0 1,0-3,0M267.5,359a1.5,1.5 0 1,0 3,0a1.5,1.5 0 1,0-3,0M277.5,355a1.5,1.5 0 1,0 3,0a1.5,1.5 0 1,0-3,0M264.5,365a1.5,1.5 0 1,0 3,0a1.5,1.5 0 1,0-3,0M270.5,353a1.5,1.5 0 1,0 3,0a1.5,1.5 0 1,0-3,0M267.5,359a1.5,1.5 0 1,0 3,0a1.5,1.5 0 1,0-3,0M269.5,362a1.5,1.5 0 1,0 3,0a1.5,1.5 0 1,0-3,0M294.5,374a1.5,1.5 0 1,0 3,0a1.5,1.5 0 1,0-3,0M286.5,351a1.5,1.5 0 1,0 3,0a1.5,1.5 0 1,0-3,0M285.5,371a1.5,1.5 0 1,0 3,0a1.5,1.5 0 1,0-3,0M292.5,364a1.5,1.5 0 1,0 3,0a1.5,1.5 0 1,0-3,0M308.5,372a1.5,1.5 0 1,0 3,0a1.5,1.5 0 1,0-3,0M328.5,348a1.5,1.5 0 1,0 3,0a1.5,1.5 0 1,0-3,0M252.5,378a1.5,1.5 0 1,0 3,0a1.5,1.5 0 1,0-3,0M292.5,380a1.5,1.5 0 1,0 3,0a1.5,1.5 0 1,0-3,0M264.5,386a1.5,1.5 0 1,0 3,0a1.5,1.5 0 1,0-3,0M280.5,374a1.5,1.5 0 1,0 3,0a1.5,1.5 0 1,0-3,0M216.5,412a1.5,1.5 0 1,0 3,0a1.5,1.5 0 1,0-3,0M250.5,450a1.5,1.5 0 1,0 3,0a1.5,1.5 0 1,0-3,0M194.5,467a1.5,1.5 0 1,0 3,0a1.5,1.5 0 1,0-3,0M212.5,483a1.5,1.5 0 1,0 3,0a1.5,1.5 0 1,0-3,0M247.5,551a1.5,1.5 0 1,0 3,0a1.5,1.5 0 1,0-3,0M197.5,385a1.5,1.5 0 1,0 3,0a1.5,1.5 0 1,0-3,0M279.5,269a1.5,1.5 0 1,0 3,0a1.5,1.5 0 1,0-3,0M293.5,314a1.5,1.5 0 1,0 3,0a1.5,1.5 0 1,0-3,0M297.5,312a1.5,1.5 0 1,0 3,0a1.5,1.5 0 1,0-3,0M294.5,377a1.5,1.5 0 1,0 3,0a1.5,1.5 0 1,0-3,0" stroke="#93ff5c" stroke-width="1.1" fill="none"/><path d="M258.5,296a1.5,1.5 0 1,0 3,0a1.5,1.5 0 1,0-3,0M221.5,319a1.5,1.5 0 1,0 3,0a1.5,1.5 0 1,0-3,0M268.5,327a1.5,1.5 0 1,0 3,0a1.5,1.5 0 1,0-3,0M274.5,304a1.5,1.5 0 1,0 3,0a1.5,1.5 0 1,0-3,0M202.5,348a1.5,1.5 0 1,0 3,0a1.5,1.5 0 1,0-3,0M264.5,348a1.5,1.5 0 1,0 3,0a1.5,1.5 0 1,0-3,0M268.5,333a1.5,1.5 0 1,0 3,0a1.5,1.5 0 1,0-3,0M264.5,343a1.5,1.5 0 1,0 3,0a1.5,1.5 0 1,0-3,0M260.5,353a1.5,1.5 0 1,0 3,0a1.5,1.5 0 1,0-3,0M286.5,346a1.5,1.5 0 1,0 3,0a1.5,1.5 0 1,0-3,0M321.5,328a1.5,1.5 0 1,0 3,0a1.5,1.5 0 1,0-3,0M372.5,325a1.5,1.5 0 1,0 3,0a1.5,1.5 0 1,0-3,0M208.5,376a1.5,1.5 0 1,0 3,0a1.5,1.5 0 1,0-3,0M255.5,358a1.5,1.5 0 1,0 3,0a1.5,1.5 0 1,0-3,0M284.5,373a1.5,1.5 0 1,0 3,0a1.5,1.5 0 1,0-3,0M289.5,369a1.5,1.5 0 1,0 3,0a1.5,1.5 0 1,0-3,0M281.5,369a1.5,1.5 0 1,0 3,0a1.5,1.5 0 1,0-3,0M333.5,371a1.5,1.5 0 1,0 3,0a1.5,1.5 0 1,0-3,0M214.5,403a1.5,1.5 0 1,0 3,0a1.5,1.5 0 1,0-3,0M242.5,386a1.5,1.5 0 1,0 3,0a1.5,1.5 0 1,0-3,0M278.5,386a1.5,1.5 0 1,0 3,0a1.5,1.5 0 1,0-3,0M291.5,393a1.5,1.5 0 1,0 3,0a1.5,1.5 0 1,0-3,0M264.5,407a1.5,1.5 0 1,0 3,0a1.5,1.5 0 1,0-3,0M183.5,251a1.5,1.5 0 1,0 3,0a1.5,1.5 0 1,0-3,0M275.5,154a1.5,1.5 0 1,0 3,0a1.5,1.5 0 1,0-3,0M279.5,538a1.5,1.5 0 1,0 3,0a1.5,1.5 0 1,0-3,0M142.5,363a1.5,1.5 0 1,0 3,0a1.5,1.5 0 1,0-3,0M150.5,402a1.5,1.5 0 1,0 3,0a1.5,1.5 0 1,0-3,0M236.5,275a1.5,1.5 0 1,0 3,0a1.5,1.5 0 1,0-3,0" stroke="#9aff58" stroke-width="1.1" fill="none"/><path d="M271.5,275a1.5,1.5 0 1,0 3,0a1.5,1.5 0 1,0-3,0M341.5,293a1.5,1.5 0 1,0 3,0a1.5,1.5 0 1,0-3,0M246.5,310a1.5,1.5 0 1,0 3,0a1.5,1.5 0 1,0-3,0M315.5,303a1.5,1.5 0 1,0 3,0a1.5,1.5 0 1,0-3,0M206.5,319a1.5,1.5 0 1,0 3,0a1.5,1.5 0 1,0-3,0M256.5,340a1.5,1.5 0 1,0 3,0a1.5,1.5 0 1,0-3,0M275.5,328a1.5,1.5 0 1,0 3,0a1.5,1.5 0 1,0-3,0M258.5,346a1.5,1.5 0 1,0 3,0a1.5,1.5 0 1,0-3,0M295.5,325a1.5,1.5 0 1,0 3,0a1.5,1.5 0 1,0-3,0M280.5,330a1.5,1.5 0 1,0 3,0a1.5,1.5 0 1,0-3,0M290.5,339a1.5,1.5 0 1,0 3,0a1.5,1.5 0 1,0-3,0M296.5,348a1.5,1.5 0 1,0 3,0a1.5,1.5 0 1,0-3,0M321.5,339a1.5,1.5 0 1,0 3,0a1.5,1.5 0 1,0-3,0M222.5,347a1.5,1.5 0 1,0 3,0a1.5,1.5 0 1,0-3,0M215.5,373a1.5,1.5 0 1,0 3,0a1.5,1.5 0 1,0-3,0M229.5,355a1.5,1.5 0 1,0 3,0a1.5,1.5 0 1,0-3,0M248.5,362a1.5,1.5 0 1,0 3,0a1.5,1.5 0 1,0-3,0M229.5,358a1.5,1.5 0 1,0 3,0a1.5,1.5 0 1,0-3,0M257.5,354a1.5,1.5 0 1,0 3,0a1.5,1.5 0 1,0-3,0M277.5,372a1.5,1.5 0 1,0 3,0a1.5,1.5 0 1,0-3,0M245.5,362a1.5,1.5 0 1,0 3,0a1.5,1.5 0 1,0-3,0M256.5,355a1.5,1.5 0 1,0 3,0a1.5,1.5 0 1,0-3,0M290.5,370a1.5,1.5 0 1,0 3,0a1.5,1.5 0 1,0-3,0M291.5,353a1.5,1.5 0 1,0 3,0a1.5,1.5 0 1,0-3,0M275.5,353a1.5,1.5 0 1,0 3,0a1.5,1.5 0 1,0-3,0M308.5,375a1.5,1.5 0 1,0 3,0a1.5,1.5 0 1,0-3,0M304.5,362a1.5,1.5 0 1,0 3,0a1.5,1.5 0 1,0-3,0M307.5,360a1.5,1.5 0 1,0 3,0a1.5,1.5 0 1,0-3,0M319.5,362a1.5,1.5 0 1,0 3,0a1.5,1.5 0 1,0-3,0M253.5,387a1.5,1.5 0 1,0 3,0a1.5,1.5 0 1,0-3,0M288.5,389a1.5,1.5 0 1,0 3,0a1.5,1.5 0 1,0-3,0M225.5,413a1.5,1.5 0 1,0 3,0a1.5,1.5 0 1,0-3,0M286.5,258a1.5,1.5 0 1,0 3,0a1.5,1.5 0 1,0-3,0" stroke="#a1ff54" stroke-width="1.1" fill="none"/><path d="M217.5,315a1.5,1.5 0 1,0 3,0a1.5,1.5 0 1,0-3,0M310.5,311a1.5,1.5 0 1,0 3,0a1.5,1.5 0 1,0-3,0M243.5,346a1.5,1.5 0 1,0 3,0a1.5,1.5 0 1,0-3,0M251.5,335a1.5,1.5 0 1,0 3,0a1.5,1.5 0 1,0-3,0M257.5,350a1.5,1.5 0 1,0 3,0a1.5,1.5 0 1,0-3,0M266.5,335a1.5,1.5 0 1,0 3,0a1.5,1.5 0 1,0-3,0M200.5,381a1.5,1.5 0 1,0 3,0a1.5,1.5 0 1,0-3,0M269.5,361a1.5,1.5 0 1,0 3,0a1.5,1.5 0 1,0-3,0M286.5,396a1.5,1.5 0 1,0 3,0a1.5,1.5 0 1,0-3,0M229.5,416a1.5,1.5 0 1,0 3,0a1.5,1.5 0 1,0-3,0M303.5,411a1.5,1.5 0 1,0 3,0a1.5,1.5 0 1,0-3,0M292.5,423a1.5,1.5 0 1,0 3,0a1.5,1.5 0 1,0-3,0M100.5,425a1.5,1.5 0 1,0 3,0a1.5,1.5 0 1,0-3,0" stroke="#a8ff50" stroke-width="1.1" fill="none"/><path d="M311,239.5h5M313.5,237v5M330,257.5h5M332.5,255v5M290,282.5h5M292.5,280v5M291,299.5h5M293.5,297v5M325,283.5h5M327.5,281v5M305,287.5h5M307.5,285v5M327,283.5h5M329.5,281v5M339,290.5h5M341.5,288v5M333,279.5h5M335.5,277v5M356,280.5h5M358.5,278v5M366,284.5h5M368.5,282v5M306,301.5h5M308.5,299v5M340,311.5h5M342.5,309v5M338,305.5h5M340.5,303v5M356,313.5h5M358.5,311v5M368,320.5h5M370.5,318v5M362,310.5h5M364.5,308v5M272,340.5h5M274.5,338v5M314,325.5h5M316.5,323v5M297,335.5h5M299.5,333v5M300,324.5h5M302.5,322v5M306,338.5h5M308.5,336v5M322,343.5h5M324.5,341v5M337,327.5h5M339.5,325v5M350,333.5h5M352.5,331v5M366,328.5h5M368.5,326v5M384,334.5h5M386.5,332v5M288,359.5h5M290.5,357v5M277,361.5h5M279.5,359v5M300,349.5h5M302.5,347v5M320,367.5h5M322.5,365v5M380,368.5h5M382.5,366v5M271,375.5h5M273.5,373v5M278,380.5h5M280.5,378v5M316,376.5h5M318.5,374v5M330,377.5h5M332.5,375v5M334,199.5h5M336.5,197v5M404,287.5h5M406.5,285v5" stroke="#40ffb0" stroke-width="1" fill="none" shape-rendering="crispEdges"/><path d="M338,238.5h5M340.5,236v5M340,234.5h5M342.5,232v5M301,260.5h5M303.5,258v5M335,268.5h5M337.5,266v5M338,259.5h5M340.5,257v5M364,256.5h5M366.5,254v5M380,260.5h5M382.5,258v5M331,282.5h5M333.5,280v5M340,284.5h5M342.5,282v5M348,293.5h5M350.5,291v5M361,290.5h5M363.5,288v5M302,303.5h5M304.5,301v5M350,316.5h5M352.5,314v5M342,314.5h5M344.5,312v5M365,313.5h5M367.5,311v5M357,312.5h5M359.5,310v5M357,305.5h5M359.5,303v5M291,333.5h5M293.5,331v5M274,338.5h5M276.5,336v5M275,328.5h5M277.5,326v5M279,348.5h5M281.5,346v5M287,351.5h5M289.5,349v5M303,339.5h5M305.5,337v5M313,349.5h5M315.5,347v5M321,340.5h5M323.5,338v5M300,330.5h5M302.5,328v5M273,359.5h5M275.5,357v5M252,376.5h5M254.5,374v5M289,364.5h5M291.5,362v5M297,367.5h5M299.5,365v5M294,362.5h5M296.5,360v5M311,369.5h5M313.5,367v5M349,383.5h5M351.5,381v5M327,382.5h5M329.5,380v5M343,367.5h5M345.5,365v5M344,366.5h5M346.5,364v5M366,360.5h5M368.5,358v5M355,370.5h5M357.5,368v5M389,358.5h5M391.5,356v5M375,354.5h5M377.5,352v5M273,384.5h5M275.5,382v5M253,393.5h5M255.5,391v5M297,400.5h5M299.5,398v5M299,395.5h5M301.5,393v5M289,379.5h5M291.5,377v5M273,387.5h5M275.5,385v5M316,391.5h5M318.5,389v5M306,380.5h5M308.5,378v5M317,403.5h5M319.5,401v5M394,395.5h5M396.5,393v5M254,413.5h5M256.5,411v5M295,403.5h5M297.5,401v5M291,400.5h5M293.5,398v5M294,424.5h5M296.5,422v5M300,408.5h5M302.5,406v5M299,421.5h5M301.5,419v5M365,445.5h5M367.5,443v5M396,432.5h5M398.5,430v5M389,203.5h5M391.5,201v5M436,223.5h5M438.5,221v5M427,284.5h5M429.5,282v5M359,469.5h5M361.5,467v5M194,382.5h5M196.5,380v5M259,316.5h5M261.5,314v5M296,360.5h5M298.5,358v5" stroke="#48ffa8" stroke-width="1" fill="none" shape-rendering="crispEdges"/><path d="M341,263.5h5M343.5,261v5M350,259.5h5M352.5,257v5M358,276.5h5M360.5,274v5M359,258.5h5M361.5,256v5M395,272.5h5M397.5,270v5M397,251.5h5M399.5,249v5M278,291.5h5M280.5,289v5M271,276.5h5M273.5,274v5M314,291.5h5M316.5,289v5M306,273.5h5M308.5,271v5M309,284.5h5M311.5,282v5M309,294.5h5M311.5,292v5M317,289.5h5M319.5,287v5M315,300.5h5M317.5,298v5M312,296.5h5M314.5,294v5M322,291.5h5M324.5,289v5M336,285.5h5M338.5,283v5M332,293.5h5M334.5,291v5M372,294.5h5M374.5,292v5M372,292.5h5M374.5,290v5M365,293.5h5M367.5,291v5M370,271.5h5M372.5,269v5M377,283.5h5M379.5,281v5M298,293.5h5M300.5,291v5M326,307.5h5M328.5,305v5M300,320.5h5M302.5,318v5M312,311.5h5M314.5,309v5M352,309.5h5M354.5,307v5M251,335.5h5M253.5,333v5M279,333.5h5M281.5,331v5M283,336.5h5M285.5,334v5M301,327.5h5M303.5,325v5M293,330.5h5M295.5,328v5M279,338.5h5M281.5,336v5M281,332.5h5M283.5,330v5M310,339.5h5M312.5,337v5M302,321.5h5M304.5,319v5M317,335.5h5M319.5,333v5M309,353.5h5M311.5,351v5M305,323.5h5M307.5,321v5M322,337.5h5M324.5,335v5M305,346.5h5M307.5,344v5M342,328.5h5M344.5,326v5M323,333.5h5M325.5,331v5M340,349.5h5M342.5,347v5M345,344.5h5M347.5,342v5M354,330.5h5M356.5,328v5M386,342.5h5M388.5,340v5M269,369.5h5M271.5,367v5M286,371.5h5M288.5,369v5M281,353.5h5M283.5,351v5M313,367.5h5M315.5,365v5M306,369.5h5M308.5,367v5M320,362.5h5M322.5,360v5M322,353.5h5M324.5,351v5M336,350.5h5M338.5,348v5M329,368.5h5M331.5,366v5M323,354.5h5M325.5,352v5M324,360.5h5M326.5,358v5M337,367.5h5M339.5,365v5M327,358.5h5M329.5,356v5M360,368.5h5M362.5,366v5M257,386.5h5M259.5,384v5M294,378.5h5M296.5,376v5M314,377.5h5M316.5,375v5M299,392.5h5M301.5,390v5M325,389.5h5M327.5,387v5M370,375.5h5M372.5,373v5M365,378.5h5M367.5,376v5M356,373.5h5M358.5,371v5M373,399.5h5M375.5,397v5M220,411.5h5M222.5,409v5M246,422.5h5M248.5,420v5M287,411.5h5M289.5,409v5M300,403.5h5M302.5,401v5M254,445.5h5M256.5,443v5M439,124.5h5M441.5,122v5M472,225.5h5M474.5,223v5M440,314.5h5M442.5,312v5M538,317.5h5M540.5,315v5M412,337.5h5M414.5,335v5M350,450.5h5M352.5,448v5M294,259.5h5M296.5,257v5" stroke="#50ffa0" stroke-width="1" fill="none" shape-rendering="crispEdges"/><path d="M304,229.5h5M306.5,227v5M384,238.5h5M386.5,236v5M333,271.5h5M335.5,269v5M342,253.5h5M344.5,251v5M334,281.5h5M336.5,279v5M346,248.5h5M348.5,246v5M369,254.5h5M371.5,252v5M377,245.5h5M379.5,243v5M278,289.5h5M280.5,287v5M310,295.5h5M312.5,293v5M306,294.5h5M308.5,292v5M343,290.5h5M345.5,288v5M347,296.5h5M349.5,294v5M345,290.5h5M347.5,288v5M375,281.5h5M377.5,279v5M292,321.5h5M294.5,319v5M297,298.5h5M299.5,296v5M312,322.5h5M314.5,320v5M300,324.5h5M302.5,322v5M328,301.5h5M330.5,299v5M366,317.5h5M368.5,315v5M254,335.5h5M256.5,333v5M267,352.5h5M269.5,350v5M263,348.5h5M265.5,346v5M289,339.5h5M291.5,337v5M292,330.5h5M294.5,328v5M276,351.5h5M278.5,349v5M275,340.5h5M277.5,338v5M296,332.5h5M298.5,330v5M321,348.5h5M323.5,346v5M323,345.5h5M325.5,343v5M322,339.5h5M324.5,337v5M304,330.5h5M306.5,328v5M326,336.5h5M328.5,334v5M337,335.5h5M339.5,333v5M385,351.5h5M387.5,349v5M229,367.5h5M231.5,365v5M245,359.5h5M247.5,357v5M240,373.5h5M242.5,371v5M276,372.5h5M278.5,370v5M251,350.5h5M253.5,348v5M269,344.5h5M271.5,342v5M282,368.5h5M284.5,366v5M284,360.5h5M286.5,358v5M333,374.5h5M335.5,372v5M334,356.5h5M336.5,354v5M377,360.5h5M379.5,358v5M388,373.5h5M390.5,371v5M249,380.5h5M251.5,378v5M288,381.5h5M290.5,379v5M302,380.5h5M304.5,378v5M320,398.5h5M322.5,396v5M319,392.5h5M321.5,390v5M313,384.5h5M315.5,382v5M234,421.5h5M236.5,419v5M311,415.5h5M313.5,413v5M280,437.5h5M282.5,435v5M351,214.5h5M353.5,212v5M442,294.5h5M444.5,292v5M519,328.5h5M521.5,326v5M519,424.5h5M521.5,422v5M409,511.5h5M411.5,509v5M296,329.5h5M298.5,327v5M296,356.5h5M298.5,354v5" stroke="#58ff98" stroke-width="1" fill="none" shape-rendering="crispEdges"/><path d="M335,250.5h5M337.5,248v5M370,251.5h5M372.5,249v5M327,269.5h5M329.5,267v5M374,251.5h5M376.5,249v5M340,294.5h5M342.5,292v5M325,296.5h5M327.5,294v5M355,284.5h5M357.5,282v5M295,302.5h5M297.5,300v5M313,307.5h5M315.5,305v5M309,318.5h5M311.5,316v5M334,318.5h5M336.5,316v5M370,313.5h5M372.5,311v5M385,316.5h5M387.5,314v5M275,337.5h5M277.5,335v5M285,344.5h5M287.5,342v5M281,335.5h5M283.5,333v5M302,338.5h5M304.5,336v5M305,340.5h5M307.5,338v5M310,342.5h5M312.5,340v5M318,331.5h5M320.5,329v5M300,343.5h5M302.5,341v5M361,335.5h5M363.5,333v5M355,343.5h5M357.5,341v5M268,351.5h5M270.5,349v5M256,356.5h5M258.5,354v5M255,364.5h5M257.5,362v5M284,347.5h5M286.5,345v5M289,371.5h5M291.5,369v5M304,348.5h5M306.5,346v5M301,372.5h5M303.5,370v5M324,366.5h5M326.5,364v5M322,367.5h5M324.5,365v5M350,368.5h5M352.5,366v5M357,357.5h5M359.5,355v5M286,379.5h5M288.5,377v5M312,387.5h5M314.5,385v5M308,397.5h5M310.5,395v5M316,385.5h5M318.5,383v5M348,399.5h5M350.5,397v5M275,405.5h5M277.5,403v5M334,416.5h5M336.5,414v5M379,429.5h5M381.5,427v5M299,476.5h5M301.5,474v5M310,488.5h5M312.5,486v5M381,315.5h5M383.5,313v5" stroke="#60ff90" stroke-width="1" fill="none" shape-rendering="crispEdges"/><path d="M256.5,329a1.5,1.5 0 1,0 3,0a1.5,1.5 0 1,0-3,0M265.5,353a1.5,1.5 0 1,0 3,0a1.5,1.5 0 1,0-3,0M266.5,345a1.5,1.5 0 1,0 3,0a1.5,1.5 0 1,0-3,0M272.5,339a1.5,1.5 0 1,0 3,0a1.5,1.5 0 1,0-3,0M313.5,342a1.5,1.5 0 1,0 3,0a1.5,1.5 0 1,0-3,0M258.5,354a1.5,1.5 0 1,0 3,0a1.5,1.5 0 1,0-3,0M243.5,354a1.5,1.5 0 1,0 3,0a1.5,1.5 0 1,0-3,0M274.5,363a1.5,1.5 0 1,0 3,0a1.5,1.5 0 1,0-3,0M306.5,355a1.5,1.5 0 1,0 3,0a1.5,1.5 0 1,0-3,0M227.5,425a1.5,1.5 0 1,0 3,0a1.5,1.5 0 1,0-3,0M250.5,437a1.5,1.5 0 1,0 3,0a1.5,1.5 0 1,0-3,0M162.5,271a1.5,1.5 0 1,0 3,0a1.5,1.5 0 1,0-3,0" stroke="#8cff60" stroke-width="1.1" fill="none"/><path d="M269.5,314a1.5,1.5 0 1,0 3,0a1.5,1.5 0 1,0-3,0M220.5,333a1.5,1.5 0 1,0 3,0a1.5,1.5 0 1,0-3,0M218.5,322a1.5,1.5 0 1,0 3,0a1.5,1.5 0 1,0-3,0M224.5,342a1.5,1.5 0 1,0 3,0a1.5,1.5 0 1,0-3,0M227.5,329a1.5,1.5 0 1,0 3,0a1.5,1.5 0 1,0-3,0M238.5,324a1.5,1.5 0 1,0 3,0a1.5,1.5 0 1,0-3,0M226.5,344a1.5,1.5 0 1,0 3,0a1.5,1.5 0 1,0-3,0M267.5,345a1.5,1.5 0 1,0 3,0a1.5,1.5 0 1,0-3,0M301.5,344a1.5,1.5 0 1,0 3,0a1.5,1.5 0 1,0-3,0M285.5,336a1.5,1.5 0 1,0 3,0a1.5,1.5 0 1,0-3,0M287.5,333a1.5,1.5 0 1,0 3,0a1.5,1.5 0 1,0-3,0M281.5,353a1.5,1.5 0 1,0 3,0a1.5,1.5 0 1,0-3,0M307.5,334a1.5,1.5 0 1,0 3,0a1.5,1.5 0 1,0-3,0M319.5,329a1.5,1.5 0 1,0 3,0a1.5,1.5 0 1,0-3,0M267.5,361a1.5,1.5 0 1,0 3,0a1.5,1.5 0 1,0-3,0M260.5,377a1.5,1.5 0 1,0 3,0a1.5,1.5 0 1,0-3,0M267.5,370a1.5,1.5 0 1,0 3,0a1.5,1.5 0 1,0-3,0M269.5,365a1.5,1.5 0 1,0 3,0a1.5,1.5 0 1,0-3,0M257.5,351a1.5,1.5 0 1,0 3,0a1.5,1.5 0 1,0-3,0M268.5,377a1.5,1.5 0 1,0 3,0a1.5,1.5 0 1,0-3,0M274.5,374a1.5,1.5 0 1,0 3,0a1.5,1.5 0 1,0-3,0M303.5,358a1.5,1.5 0 1,0 3,0a1.5,1.5 0 1,0-3,0M292.5,353a1.5,1.5 0 1,0 3,0a1.5,1.5 0 1,0-3,0M321.5,348a1.5,1.5 0 1,0 3,0a1.5,1.5 0 1,0-3,0M354.5,344a1.5,1.5 0 1,0 3,0a1.5,1.5 0 1,0-3,0M244.5,374a1.5,1.5 0 1,0 3,0a1.5,1.5 0 1,0-3,0M294.5,394a1.5,1.5 0 1,0 3,0a1.5,1.5 0 1,0-3,0M205.5,398a1.5,1.5 0 1,0 3,0a1.5,1.5 0 1,0-3,0M324.5,414a1.5,1.5 0 1,0 3,0a1.5,1.5 0 1,0-3,0M273.5,430a1.5,1.5 0 1,0 3,0a1.5,1.5 0 1,0-3,0M314.5,441a1.5,1.5 0 1,0 3,0a1.5,1.5 0 1,0-3,0M303.5,440a1.5,1.5 0 1,0 3,0a1.5,1.5 0 1,0-3,0M475.5,444a1.5,1.5 0 1,0 3,0a1.5,1.5 0 1,0-3,0M173.5,317a1.5,1.5 0 1,0 3,0a1.5,1.5 0 1,0-3,0M176.5,373a1.5,1.5 0 1,0 3,0a1.5,1.5 0 1,0-3,0M296.5,303a1.5,1.5 0 1,0 3,0a1.5,1.5 0 1,0-3,0M297.5,342a1.5,1.5 0 1,0 3,0a1.5,1.5 0 1,0-3,0" stroke="#93ff5c" stroke-width="1.1" fill="none"/><path d="M302.5,281a1.5,1.5 0 1,0 3,0a1.5,1.5 0 1,0-3,0M265.5,318a1.5,1.5 0 1,0 3,0a1.5,1.5 0 1,0-3,0M255.5,329a1.5,1.5 0 1,0 3,0a1.5,1.5 0 1,0-3,0M263.5,313a1.5,1.5 0 1,0 3,0a1.5,1.5 0 1,0-3,0M280.5,321a1.5,1.5 0 1,0 3,0a1.5,1.5 0 1,0-3,0M288.5,322a1.5,1.5 0 1,0 3,0a1.5,1.5 0 1,0-3,0M281.5,311a1.5,1.5 0 1,0 3,0a1.5,1.5 0 1,0-3,0M324.5,313a1.5,1.5 0 1,0 3,0a1.5,1.5 0 1,0-3,0M210.5,330a1.5,1.5 0 1,0 3,0a1.5,1.5 0 1,0-3,0M276.5,335a1.5,1.5 0 1,0 3,0a1.5,1.5 0 1,0-3,0M279.5,329a1.5,1.5 0 1,0 3,0a1.5,1.5 0 1,0-3,0M289.5,349a1.5,1.5 0 1,0 3,0a1.5,1.5 0 1,0-3,0M293.5,339a1.5,1.5 0 1,0 3,0a1.5,1.5 0 1,0-3,0M288.5,326a1.5,1.5 0 1,0 3,0a1.5,1.5 0 1,0-3,0M299.5,334a1.5,1.5 0 1,0 3,0a1.5,1.5 0 1,0-3,0M319.5,322a1.5,1.5 0 1,0 3,0a1.5,1.5 0 1,0-3,0M338.5,323a1.5,1.5 0 1,0 3,0a1.5,1.5 0 1,0-3,0M222.5,352a1.5,1.5 0 1,0 3,0a1.5,1.5 0 1,0-3,0M247.5,361a1.5,1.5 0 1,0 3,0a1.5,1.5 0 1,0-3,0M246.5,366a1.5,1.5 0 1,0 3,0a1.5,1.5 0 1,0-3,0M256.5,374a1.5,1.5 0 1,0 3,0a1.5,1.5 0 1,0-3,0M275.5,369a1.5,1.5 0 1,0 3,0a1.5,1.5 0 1,0-3,0M288.5,377a1.5,1.5 0 1,0 3,0a1.5,1.5 0 1,0-3,0M296.5,372a1.5,1.5 0 1,0 3,0a1.5,1.5 0 1,0-3,0M288.5,355a1.5,1.5 0 1,0 3,0a1.5,1.5 0 1,0-3,0M296.5,364a1.5,1.5 0 1,0 3,0a1.5,1.5 0 1,0-3,0M255.5,378a1.5,1.5 0 1,0 3,0a1.5,1.5 0 1,0-3,0M255.5,392a1.5,1.5 0 1,0 3,0a1.5,1.5 0 1,0-3,0M300.5,390a1.5,1.5 0 1,0 3,0a1.5,1.5 0 1,0-3,0M273.5,388a1.5,1.5 0 1,0 3,0a1.5,1.5 0 1,0-3,0M286.5,391a1.5,1.5 0 1,0 3,0a1.5,1.5 0 1,0-3,0M312.5,384a1.5,1.5 0 1,0 3,0a1.5,1.5 0 1,0-3,0M303.5,378a1.5,1.5 0 1,0 3,0a1.5,1.5 0 1,0-3,0M292.5,399a1.5,1.5 0 1,0 3,0a1.5,1.5 0 1,0-3,0M277.5,401a1.5,1.5 0 1,0 3,0a1.5,1.5 0 1,0-3,0M294.5,441a1.5,1.5 0 1,0 3,0a1.5,1.5 0 1,0-3,0M231.5,260a1.5,1.5 0 1,0 3,0a1.5,1.5 0 1,0-3,0M295.5,457a1.5,1.5 0 1,0 3,0a1.5,1.5 0 1,0-3,0M178.5,405a1.5,1.5 0 1,0 3,0a1.5,1.5 0 1,0-3,0M258.5,316a1.5,1.5 0 1,0 3,0a1.5,1.5 0 1,0-3,0M299.5,327a1.5,1.5 0 1,0 3,0a1.5,1.5 0 1,0-3,0" stroke="#9aff58" stroke-width="1.1" fill="none"/><path d="M336.5,310a1.5,1.5 0 1,0 3,0a1.5,1.5 0 1,0-3,0M231.5,328a1.5,1.5 0 1,0 3,0a1.5,1.5 0 1,0-3,0M222.5,341a1.5,1.5 0 1,0 3,0a1.5,1.5 0 1,0-3,0M272.5,336a1.5,1.5 0 1,0 3,0a1.5,1.5 0 1,0-3,0M249.5,346a1.5,1.5 0 1,0 3,0a1.5,1.5 0 1,0-3,0M264.5,335a1.5,1.5 0 1,0 3,0a1.5,1.5 0 1,0-3,0M252.5,325a1.5,1.5 0 1,0 3,0a1.5,1.5 0 1,0-3,0M282.5,329a1.5,1.5 0 1,0 3,0a1.5,1.5 0 1,0-3,0M296.5,350a1.5,1.5 0 1,0 3,0a1.5,1.5 0 1,0-3,0M351.5,342a1.5,1.5 0 1,0 3,0a1.5,1.5 0 1,0-3,0M219.5,353a1.5,1.5 0 1,0 3,0a1.5,1.5 0 1,0-3,0M238.5,368a1.5,1.5 0 1,0 3,0a1.5,1.5 0 1,0-3,0M244.5,358a1.5,1.5 0 1,0 3,0a1.5,1.5 0 1,0-3,0M274.5,378a1.5,1.5 0 1,0 3,0a1.5,1.5 0 1,0-3,0M266.5,354a1.5,1.5 0 1,0 3,0a1.5,1.5 0 1,0-3,0M261.5,361a1.5,1.5 0 1,0 3,0a1.5,1.5 0 1,0-3,0M268.5,376a1.5,1.5 0 1,0 3,0a1.5,1.5 0 1,0-3,0M253.5,372a1.5,1.5 0 1,0 3,0a1.5,1.5 0 1,0-3,0M261.5,350a1.5,1.5 0 1,0 3,0a1.5,1.5 0 1,0-3,0M259.5,367a1.5,1.5 0 1,0 3,0a1.5,1.5 0 1,0-3,0M283.5,376a1.5,1.5 0 1,0 3,0a1.5,1.5 0 1,0-3,0M285.5,365a1.5,1.5 0 1,0 3,0a1.5,1.5 0 1,0-3,0M274.5,353a1.5,1.5 0 1,0 3,0a1.5,1.5 0 1,0-3,0M291.5,365a1.5,1.5 0 1,0 3,0a1.5,1.5 0 1,0-3,0M317.5,367a1.5,1.5 0 1,0 3,0a1.5,1.5 0 1,0-3,0M318.5,359a1.5,1.5 0 1,0 3,0a1.5,1.5 0 1,0-3,0M324.5,357a1.5,1.5 0 1,0 3,0a1.5,1.5 0 1,0-3,0M349.5,353a1.5,1.5 0 1,0 3,0a1.5,1.5 0 1,0-3,0M341.5,356a1.5,1.5 0 1,0 3,0a1.5,1.5 0 1,0-3,0M333.5,372a1.5,1.5 0 1,0 3,0a1.5,1.5 0 1,0-3,0M201.5,382a1.5,1.5 0 1,0 3,0a1.5,1.5 0 1,0-3,0M209.5,372a1.5,1.5 0 1,0 3,0a1.5,1.5 0 1,0-3,0M260.5,379a1.5,1.5 0 1,0 3,0a1.5,1.5 0 1,0-3,0M256.5,392a1.5,1.5 0 1,0 3,0a1.5,1.5 0 1,0-3,0M268.5,396a1.5,1.5 0 1,0 3,0a1.5,1.5 0 1,0-3,0M270.5,408a1.5,1.5 0 1,0 3,0a1.5,1.5 0 1,0-3,0M298.5,413a1.5,1.5 0 1,0 3,0a1.5,1.5 0 1,0-3,0M402.5,335a1.5,1.5 0 1,0 3,0a1.5,1.5 0 1,0-3,0M102.5,418a1.5,1.5 0 1,0 3,0a1.5,1.5 0 1,0-3,0M197.5,416a1.5,1.5 0 1,0 3,0a1.5,1.5 0 1,0-3,0M230.5,452a1.5,1.5 0 1,0 3,0a1.5,1.5 0 1,0-3,0M187.5,329a1.5,1.5 0 1,0 3,0a1.5,1.5 0 1,0-3,0M74.5,357a1.5,1.5 0 1,0 3,0a1.5,1.5 0 1,0-3,0M192.5,371a1.5,1.5 0 1,0 3,0a1.5,1.5 0 1,0-3,0" stroke="#a1ff54" stroke-width="1.1" fill="none"/><path d="M274.5,288a1.5,1.5 0 1,0 3,0a1.5,1.5 0 1,0-3,0M258.5,317a1.5,1.5 0 1,0 3,0a1.5,1.5 0 1,0-3,0M261.5,307a1.5,1.5 0 1,0 3,0a1.5,1.5 0 1,0-3,0M276.5,335a1.5,1.5 0 1,0 3,0a1.5,1.5 0 1,0-3,0M325.5,332a1.5,1.5 0 1,0 3,0a1.5,1.5 0 1,0-3,0M204.5,353a1.5,1.5 0 1,0 3,0a1.5,1.5 0 1,0-3,0M258.5,362a1.5,1.5 0 1,0 3,0a1.5,1.5 0 1,0-3,0M252.5,349a1.5,1.5 0 1,0 3,0a1.5,1.5 0 1,0-3,0M267.5,362a1.5,1.5 0 1,0 3,0a1.5,1.5 0 1,0-3,0M234.5,390a1.5,1.5 0 1,0 3,0a1.5,1.5 0 1,0-3,0M236.5,400a1.5,1.5 0 1,0 3,0a1.5,1.5 0 1,0-3,0M225.5,405a1.5,1.5 0 1,0 3,0a1.5,1.5 0 1,0-3,0M265.5,395a1.5,1.5 0 1,0 3,0a1.5,1.5 0 1,0-3,0M256.5,383a1.5,1.5 0 1,0 3,0a1.5,1.5 0 1,0-3,0M315.5,395a1.5,1.5 0 1,0 3,0a1.5,1.5 0 1,0-3,0M261.5,430a1.5,1.5 0 1,0 3,0a1.5,1.5 0 1,0-3,0M254.5,410a1.5,1.5 0 1,0 3,0a1.5,1.5 0 1,0-3,0" stroke="#a8ff50" stroke-width="1.1" fill="none"/><path d="M309,229.5h5M311.5,227v5M352,265.5h5M354.5,263v5M352,251.5h5M354.5,249v5M294,297.5h5M296.5,295v5M313,271.5h5M315.5,269v5M318,271.5h5M320.5,269v5M320,298.5h5M322.5,296v5M324,299.5h5M326.5,297v5M390,293.5h5M392.5,291v5M285,316.5h5M287.5,314v5M303,314.5h5M305.5,312v5M290,347.5h5M292.5,345v5M283,334.5h5M285.5,332v5M286,341.5h5M288.5,339v5M270,354.5h5M272.5,352v5M358,340.5h5M360.5,338v5M385,339.5h5M387.5,337v5M233,365.5h5M235.5,363v5M248,376.5h5M250.5,374v5M280,352.5h5M282.5,350v5M294,357.5h5M296.5,355v5M326,360.5h5M328.5,358v5M329,367.5h5M331.5,365v5M351,365.5h5M353.5,363v5M392,377.5h5M394.5,375v5M258,381.5h5M260.5,379v5M295,387.5h5M297.5,385v5M314,390.5h5M316.5,388v5M382,383.5h5M384.5,381v5M330,418.5h5M332.5,416v5M510,338.5h5M512.5,336v5M294,541.5h5M296.5,539v5" stroke="#40ffb0" stroke-width="1" fill="none" shape-rendering="crispEdges"/><path d="M337,243.5h5M339.5,241v5M302,263.5h5M304.5,261v5M332,255.5h5M334.5,253v5M341,263.5h5M343.5,261v5M343,258.5h5M345.5,256v5M321,254.5h5M323.5,252v5M341,245.5h5M343.5,243v5M358,272.5h5M360.5,270v5M396,275.5h5M398.5,273v5M381,274.5h5M383.5,272v5M373,260.5h5M375.5,258v5M288,283.5h5M290.5,281v5M282,285.5h5M284.5,283v5M309,275.5h5M311.5,273v5M312,284.5h5M314.5,282v5M304,295.5h5M306.5,293v5M312,281.5h5M314.5,279v5M305,294.5h5M307.5,292v5M343,287.5h5M345.5,285v5M339,285.5h5M341.5,283v5M335,285.5h5M337.5,283v5M355,294.5h5M357.5,292v5M299,297.5h5M301.5,295v5M319,310.5h5M321.5,308v5M318,316.5h5M320.5,314v5M312,308.5h5M314.5,306v5M308,311.5h5M310.5,309v5M308,313.5h5M310.5,311v5M312,322.5h5M314.5,320v5M295,340.5h5M297.5,338v5M282,353.5h5M284.5,351v5M271,349.5h5M273.5,347v5M287,336.5h5M289.5,334v5M280,335.5h5M282.5,333v5M310,345.5h5M312.5,343v5M307,341.5h5M309.5,339v5M323,347.5h5M325.5,345v5M321,334.5h5M323.5,332v5M309,349.5h5M311.5,347v5M322,341.5h5M324.5,339v5M348,334.5h5M350.5,332v5M351,350.5h5M353.5,348v5M343,330.5h5M345.5,328v5M275,365.5h5M277.5,363v5M283,364.5h5M285.5,362v5M297,359.5h5M299.5,357v5M299,350.5h5M301.5,348v5M283,366.5h5M285.5,364v5M275,360.5h5M277.5,358v5M320,366.5h5M322.5,364v5M299,350.5h5M301.5,348v5M330,349.5h5M332.5,347v5M329,359.5h5M331.5,357v5M331,355.5h5M333.5,353v5M272,380.5h5M274.5,378v5M298,386.5h5M300.5,384v5M293,381.5h5M295.5,379v5M278,406.5h5M280.5,404v5M356,385.5h5M358.5,383v5M366,388.5h5M368.5,386v5M263,415.5h5M265.5,413v5M247,412.5h5M249.5,410v5M309,424.5h5M311.5,422v5M274,441.5h5M276.5,439v5M277,446.5h5M279.5,444v5M279,448.5h5M281.5,446v5M296,434.5h5M298.5,432v5M394,440.5h5M396.5,438v5M201,246.5h5M203.5,244v5M420,212.5h5M422.5,210v5M482,248.5h5M484.5,246v5M492,258.5h5M494.5,256v5M408,306.5h5M410.5,304v5M403,371.5h5M405.5,369v5M494,397.5h5M496.5,395v5M441,412.5h5M443.5,410v5M113,388.5h5M115.5,386v5" stroke="#48ffa8" stroke-width="1" fill="none" shape-rendering="crispEdges"/><path d="M329,239.5h5M331.5,237v5M347,226.5h5M349.5,224v5M353,234.5h5M355.5,232v5M385,226.5h5M387.5,224v5M338,255.5h5M340.5,253v5M324,269.5h5M326.5,267v5M355,270.5h5M357.5,268v5M371,264.5h5M373.5,262v5M285,290.5h5M287.5,288v5M319,287.5h5M321.5,285v5M320,287.5h5M322.5,285v5M301,275.5h5M303.5,273v5M305,295.5h5M307.5,293v5M315,292.5h5M317.5,290v5M316,301.5h5M318.5,299v5M335,284.5h5M337.5,282v5M333,283.5h5M335.5,281v5M327,296.5h5M329.5,294v5M328,285.5h5M330.5,283v5M365,282.5h5M367.5,280v5M348,276.5h5M350.5,274v5M364,279.5h5M366.5,277v5M357,297.5h5M359.5,295v5M393,299.5h5M395.5,297v5M318,319.5h5M320.5,317v5M318,293.5h5M320.5,291v5M314,320.5h5M316.5,318v5M332,314.5h5M334.5,312v5M323,328.5h5M325.5,326v5M340,308.5h5M342.5,306v5M349,313.5h5M351.5,311v5M365,318.5h5M367.5,316v5M259,332.5h5M261.5,330v5M292,338.5h5M294.5,336v5M285,345.5h5M287.5,343v5M285,331.5h5M287.5,329v5M285,324.5h5M287.5,322v5M300,334.5h5M302.5,332v5M315,355.5h5M317.5,353v5M309,329.5h5M311.5,327v5M329,316.5h5M331.5,314v5M309,350.5h5M311.5,348v5M301,330.5h5M303.5,328v5M299,340.5h5M301.5,338v5M333,356.5h5M335.5,354v5M337,328.5h5M339.5,326v5M349,359.5h5M351.5,357v5M379,329.5h5M381.5,327v5M380,327.5h5M382.5,325v5M275,370.5h5M277.5,368v5M244,364.5h5M246.5,362v5M266,349.5h5M268.5,347v5M269,372.5h5M271.5,370v5M270,384.5h5M272.5,382v5M244,355.5h5M246.5,353v5M257,375.5h5M259.5,373v5M256,374.5h5M258.5,372v5M299,374.5h5M301.5,372v5M282,365.5h5M284.5,363v5M292,372.5h5M294.5,370v5M297,369.5h5M299.5,367v5M308,355.5h5M310.5,353v5M322,348.5h5M324.5,346v5M342,360.5h5M344.5,358v5M327,364.5h5M329.5,362v5M231,379.5h5M233.5,377v5M274,375.5h5M276.5,373v5M307,380.5h5M309.5,378v5M299,386.5h5M301.5,384v5M326,395.5h5M328.5,393v5M262,407.5h5M264.5,405v5M260,411.5h5M262.5,409v5M261,416.5h5M263.5,414v5M290,409.5h5M292.5,407v5M319,414.5h5M321.5,412v5M266,433.5h5M268.5,431v5M305,435.5h5M307.5,433v5M335,441.5h5M337.5,439v5M382,442.5h5M384.5,440v5M384,134.5h5M386.5,132v5M296,215.5h5M298.5,213v5M273,242.5h5M275.5,240v5M410,260.5h5M412.5,258v5M408,292.5h5M410.5,290v5M433,308.5h5M435.5,306v5M412,354.5h5M414.5,352v5M431,368.5h5M433.5,366v5M400,464.5h5M402.5,462v5M280,451.5h5M282.5,449v5M104,474.5h5M106.5,472v5M337,314.5h5M339.5,312v5M367,315.5h5M369.5,313v5M342,316.5h5M344.5,314v5M297,433.5h5M299.5,431v5" stroke="#50ffa0" stroke-width="1" fill="none" shape-rendering="crispEdges"/><path d="M339,239.5h5M341.5,237v5M328,277.5h5M330.5,275v5M340,249.5h5M342.5,247v5M330,253.5h5M332.5,251v5M367,246.5h5M369.5,244v5M370,277.5h5M372.5,275v5M373,267.5h5M375.5,265v5M391,258.5h5M393.5,256v5M380,250.5h5M382.5,248v5M322,280.5h5M324.5,278v5M334,282.5h5M336.5,280v5M347,294.5h5M349.5,292v5M368,283.5h5M370.5,281v5M253,323.5h5M255.5,321v5M253,304.5h5M255.5,302v5M295,320.5h5M297.5,318v5M302,308.5h5M304.5,306v5M303,307.5h5M305.5,305v5M322,302.5h5M324.5,300v5M344,330.5h5M346.5,328v5M322,313.5h5M324.5,311v5M350,305.5h5M352.5,303v5M340,308.5h5M342.5,306v5M390,297.5h5M392.5,295v5M246,352.5h5M248.5,350v5M272,333.5h5M274.5,331v5M292,326.5h5M294.5,324v5M301,333.5h5M303.5,331v5M280,346.5h5M282.5,344v5M294,334.5h5M296.5,332v5M321,332.5h5M323.5,330v5M295,342.5h5M297.5,340v5M309,347.5h5M311.5,345v5M310,335.5h5M312.5,333v5M310,341.5h5M312.5,339v5M313,342.5h5M315.5,340v5M339,339.5h5M341.5,337v5M345,337.5h5M347.5,335v5M329,340.5h5M331.5,338v5M328,333.5h5M330.5,331v5M348,346.5h5M350.5,344v5M386,327.5h5M388.5,325v5M373,335.5h5M375.5,333v5M245,356.5h5M247.5,354v5M268,365.5h5M270.5,363v5M264,345.5h5M266.5,343v5M261,365.5h5M263.5,363v5M310,364.5h5M312.5,362v5M314,369.5h5M316.5,367v5M317,363.5h5M319.5,361v5M304,372.5h5M306.5,370v5M301,356.5h5M303.5,354v5M331,362.5h5M333.5,360v5M318,369.5h5M320.5,367v5M337,365.5h5M339.5,363v5M341,351.5h5M343.5,349v5M351,356.5h5M353.5,354v5M327,369.5h5M329.5,367v5M389,367.5h5M391.5,365v5M245,382.5h5M247.5,380v5M255,383.5h5M257.5,381v5M286,391.5h5M288.5,389v5M285,398.5h5M287.5,396v5M273,398.5h5M275.5,396v5M321,382.5h5M323.5,380v5M327,391.5h5M329.5,389v5M322,375.5h5M324.5,373v5M325,387.5h5M327.5,385v5M345,397.5h5M347.5,395v5M266,427.5h5M268.5,425v5M254,400.5h5M256.5,398v5M289,430.5h5M291.5,428v5M305,399.5h5M307.5,397v5M236,439.5h5M238.5,437v5M275,434.5h5M277.5,432v5M357,444.5h5M359.5,442v5M417,185.5h5M419.5,183v5M408,197.5h5M410.5,195v5M383,198.5h5M385.5,196v5M264,454.5h5M266.5,452v5M322,471.5h5M324.5,469v5M240,470.5h5M242.5,468v5M182,409.5h5M184.5,407v5M357,315.5h5M359.5,313v5M386,314.5h5M388.5,312v5" stroke="#58ff98" stroke-width="1" fill="none" shape-rendering="crispEdges"/><path d="M334,253.5h5M336.5,251v5M348,258.5h5M350.5,256v5M361,292.5h5M363.5,290v5M279,329.5h5M281.5,327v5M324,323.5h5M326.5,321v5M327,306.5h5M329.5,304v5M241,331.5h5M243.5,329v5M226,346.5h5M228.5,344v5M275,342.5h5M277.5,340v5M306,341.5h5M308.5,339v5M299,336.5h5M301.5,334v5M320,342.5h5M322.5,340v5M347,322.5h5M349.5,320v5M318,359.5h5M320.5,357v5M353,364.5h5M355.5,362v5M364,369.5h5M366.5,367v5M395,356.5h5M397.5,354v5M279,396.5h5M281.5,394v5M252,389.5h5M254.5,387v5M265,383.5h5M267.5,381v5M286,394.5h5M288.5,392v5M289,399.5h5M291.5,397v5M379,385.5h5M381.5,383v5M309,410.5h5M311.5,408v5M311,412.5h5M313.5,410v5M410,344.5h5M412.5,342v5M235,313.5h5M237.5,311v5M302,314.5h5M304.5,312v5M296,425.5h5M298.5,423v5" stroke="#60ff90" stroke-width="1" fill="none" shape-rendering="crispEdges"/><path d="M341.5,232a1.5,1.5 0 1,0 3,0a1.5,1.5 0 1,0-3,0M268.5,336a1.5,1.5 0 1,0 3,0a1.5,1.5 0 1,0-3,0M263.5,333a1.5,1.5 0 1,0 3,0a1.5,1.5 0 1,0-3,0M310.5,340a1.5,1.5 0 1,0 3,0a1.5,1.5 0 1,0-3,0M222.5,352a1.5,1.5 0 1,0 3,0a1.5,1.5 0 1,0-3,0M252.5,356a1.5,1.5 0 1,0 3,0a1.5,1.5 0 1,0-3,0M255.5,374a1.5,1.5 0 1,0 3,0a1.5,1.5 0 1,0-3,0M248.5,345a1.5,1.5 0 1,0 3,0a1.5,1.5 0 1,0-3,0M272.5,354a1.5,1.5 0 1,0 3,0a1.5,1.5 0 1,0-3,0M259.5,369a1.5,1.5 0 1,0 3,0a1.5,1.5 0 1,0-3,0M256.5,366a1.5,1.5 0 1,0 3,0a1.5,1.5 0 1,0-3,0M252.5,365a1.5,1.5 0 1,0 3,0a1.5,1.5 0 1,0-3,0M281.5,351a1.5,1.5 0 1,0 3,0a1.5,1.5 0 1,0-3,0M288.5,360a1.5,1.5 0 1,0 3,0a1.5,1.5 0 1,0-3,0M322.5,371a1.5,1.5 0 1,0 3,0a1.5,1.5 0 1,0-3,0M294.5,388a1.5,1.5 0 1,0 3,0a1.5,1.5 0 1,0-3,0M322.5,419a1.5,1.5 0 1,0 3,0a1.5,1.5 0 1,0-3,0M295.5,435a1.5,1.5 0 1,0 3,0a1.5,1.5 0 1,0-3,0" stroke="#8cff60" stroke-width="1.1" fill="none"/><path d="M270.5,300a1.5,1.5 0 1,0 3,0a1.5,1.5 0 1,0-3,0M255.5,292a1.5,1.5 0 1,0 3,0a1.5,1.5 0 1,0-3,0M260.5,300a1.5,1.5 0 1,0 3,0a1.5,1.5 0 1,0-3,0M252.5,320a1.5,1.5 0 1,0 3,0a1.5,1.5 0 1,0-3,0M284.5,313a1.5,1.5 0 1,0 3,0a1.5,1.5 0 1,0-3,0M275.5,346a1.5,1.5 0 1,0 3,0a1.5,1.5 0 1,0-3,0M277.5,338a1.5,1.5 0 1,0 3,0a1.5,1.5 0 1,0-3,0M306.5,333a1.5,1.5 0 1,0 3,0a1.5,1.5 0 1,0-3,0M297.5,340a1.5,1.5 0 1,0 3,0a1.5,1.5 0 1,0-3,0M367.5,343a1.5,1.5 0 1,0 3,0a1.5,1.5 0 1,0-3,0M354.5,345a1.5,1.5 0 1,0 3,0a1.5,1.5 0 1,0-3,0M232.5,370a1.5,1.5 0 1,0 3,0a1.5,1.5 0 1,0-3,0M276.5,345a1.5,1.5 0 1,0 3,0a1.5,1.5 0 1,0-3,0M250.5,357a1.5,1.5 0 1,0 3,0a1.5,1.5 0 1,0-3,0M246.5,356a1.5,1.5 0 1,0 3,0a1.5,1.5 0 1,0-3,0M258.5,375a1.5,1.5 0 1,0 3,0a1.5,1.5 0 1,0-3,0M256.5,375a1.5,1.5 0 1,0 3,0a1.5,1.5 0 1,0-3,0M259.5,372a1.5,1.5 0 1,0 3,0a1.5,1.5 0 1,0-3,0M264.5,356a1.5,1.5 0 1,0 3,0a1.5,1.5 0 1,0-3,0M291.5,362a1.5,1.5 0 1,0 3,0a1.5,1.5 0 1,0-3,0M292.5,359a1.5,1.5 0 1,0 3,0a1.5,1.5 0 1,0-3,0M276.5,355a1.5,1.5 0 1,0 3,0a1.5,1.5 0 1,0-3,0M283.5,378a1.5,1.5 0 1,0 3,0a1.5,1.5 0 1,0-3,0M286.5,356a1.5,1.5 0 1,0 3,0a1.5,1.5 0 1,0-3,0M318.5,361a1.5,1.5 0 1,0 3,0a1.5,1.5 0 1,0-3,0M299.5,352a1.5,1.5 0 1,0 3,0a1.5,1.5 0 1,0-3,0M244.5,380a1.5,1.5 0 1,0 3,0a1.5,1.5 0 1,0-3,0M224.5,387a1.5,1.5 0 1,0 3,0a1.5,1.5 0 1,0-3,0M263.5,410a1.5,1.5 0 1,0 3,0a1.5,1.5 0 1,0-3,0M280.5,429a1.5,1.5 0 1,0 3,0a1.5,1.5 0 1,0-3,0M138.5,234a1.5,1.5 0 1,0 3,0a1.5,1.5 0 1,0-3,0M250.5,481a1.5,1.5 0 1,0 3,0a1.5,1.5 0 1,0-3,0M81.5,280a1.5,1.5 0 1,0 3,0a1.5,1.5 0 1,0-3,0M159.5,314a1.5,1.5 0 1,0 3,0a1.5,1.5 0 1,0-3,0M296.5,327a1.5,1.5 0 1,0 3,0a1.5,1.5 0 1,0-3,0" stroke="#93ff5c" stroke-width="1.1" fill="none"/><path d="M261.5,281a1.5,1.5 0 1,0 3,0a1.5,1.5 0 1,0-3,0M274.5,301a1.5,1.5 0 1,0 3,0a1.5,1.5 0 1,0-3,0M314.5,307a1.5,1.5 0 1,0 3,0a1.5,1.5 0 1,0-3,0M325.5,314a1.5,1.5 0 1,0 3,0a1.5,1.5 0 1,0-3,0M291.5,308a1.5,1.5 0 1,0 3,0a1.5,1.5 0 1,0-3,0M329.5,306a1.5,1.5 0 1,0 3,0a1.5,1.5 0 1,0-3,0M259.5,334a1.5,1.5 0 1,0 3,0a1.5,1.5 0 1,0-3,0M261.5,332a1.5,1.5 0 1,0 3,0a1.5,1.5 0 1,0-3,0M287.5,320a1.5,1.5 0 1,0 3,0a1.5,1.5 0 1,0-3,0M287.5,341a1.5,1.5 0 1,0 3,0a1.5,1.5 0 1,0-3,0M283.5,331a1.5,1.5 0 1,0 3,0a1.5,1.5 0 1,0-3,0M374.5,332a1.5,1.5 0 1,0 3,0a1.5,1.5 0 1,0-3,0M249.5,370a1.5,1.5 0 1,0 3,0a1.5,1.5 0 1,0-3,0M258.5,355a1.5,1.5 0 1,0 3,0a1.5,1.5 0 1,0-3,0M274.5,362a1.5,1.5 0 1,0 3,0a1.5,1.5 0 1,0-3,0M263.5,364a1.5,1.5 0 1,0 3,0a1.5,1.5 0 1,0-3,0M269.5,363a1.5,1.5 0 1,0 3,0a1.5,1.5 0 1,0-3,0M250.5,356a1.5,1.5 0 1,0 3,0a1.5,1.5 0 1,0-3,0M260.5,370a1.5,1.5 0 1,0 3,0a1.5,1.5 0 1,0-3,0M265.5,371a1.5,1.5 0 1,0 3,0a1.5,1.5 0 1,0-3,0M263.5,373a1.5,1.5 0 1,0 3,0a1.5,1.5 0 1,0-3,0M280.5,368a1.5,1.5 0 1,0 3,0a1.5,1.5 0 1,0-3,0M284.5,360a1.5,1.5 0 1,0 3,0a1.5,1.5 0 1,0-3,0M284.5,372a1.5,1.5 0 1,0 3,0a1.5,1.5 0 1,0-3,0M293.5,354a1.5,1.5 0 1,0 3,0a1.5,1.5 0 1,0-3,0M274.5,367a1.5,1.5 0 1,0 3,0a1.5,1.5 0 1,0-3,0M272.5,355a1.5,1.5 0 1,0 3,0a1.5,1.5 0 1,0-3,0M308.5,353a1.5,1.5 0 1,0 3,0a1.5,1.5 0 1,0-3,0M314.5,367a1.5,1.5 0 1,0 3,0a1.5,1.5 0 1,0-3,0M262.5,404a1.5,1.5 0 1,0 3,0a1.5,1.5 0 1,0-3,0M267.5,411a1.5,1.5 0 1,0 3,0a1.5,1.5 0 1,0-3,0M264.5,426a1.5,1.5 0 1,0 3,0a1.5,1.5 0 1,0-3,0M278.5,535a1.5,1.5 0 1,0 3,0a1.5,1.5 0 1,0-3,0M140.5,293a1.5,1.5 0 1,0 3,0a1.5,1.5 0 1,0-3,0M175.5,356a1.5,1.5 0 1,0 3,0a1.5,1.5 0 1,0-3,0M187.5,390a1.5,1.5 0 1,0 3,0a1.5,1.5 0 1,0-3,0M297.5,426a1.5,1.5 0 1,0 3,0a1.5,1.5 0 1,0-3,0" stroke="#9aff58" stroke-width="1.1" fill="none"/><path d="M259.5,320a1.5,1.5 0 1,0 3,0a1.5,1.5 0 1,0-3,0M249.5,312a1.5,1.5 0 1,0 3,0a1.5,1.5 0 1,0-3,0M291.5,320a1.5,1.5 0 1,0 3,0a1.5,1.5 0 1,0-3,0M325.5,321a1.5,1.5 0 1,0 3,0a1.5,1.5 0 1,0-3,0M311.5,314a1.5,1.5 0 1,0 3,0a1.5,1.5 0 1,0-3,0M316.5,316a1.5,1.5 0 1,0 3,0a1.5,1.5 0 1,0-3,0M259.5,330a1.5,1.5 0 1,0 3,0a1.5,1.5 0 1,0-3,0M265.5,343a1.5,1.5 0 1,0 3,0a1.5,1.5 0 1,0-3,0M251.5,347a1.5,1.5 0 1,0 3,0a1.5,1.5 0 1,0-3,0M270.5,344a1.5,1.5 0 1,0 3,0a1.5,1.5 0 1,0-3,0M316.5,344a1.5,1.5 0 1,0 3,0a1.5,1.5 0 1,0-3,0M322.5,339a1.5,1.5 0 1,0 3,0a1.5,1.5 0 1,0-3,0M298.5,334a1.5,1.5 0 1,0 3,0a1.5,1.5 0 1,0-3,0M199.5,364a1.5,1.5 0 1,0 3,0a1.5,1.5 0 1,0-3,0M219.5,347a1.5,1.5 0 1,0 3,0a1.5,1.5 0 1,0-3,0M206.5,361a1.5,1.5 0 1,0 3,0a1.5,1.5 0 1,0-3,0M226.5,356a1.5,1.5 0 1,0 3,0a1.5,1.5 0 1,0-3,0M268.5,357a1.5,1.5 0 1,0 3,0a1.5,1.5 0 1,0-3,0M264.5,371a1.5,1.5 0 1,0 3,0a1.5,1.5 0 1,0-3,0M258.5,360a1.5,1.5 0 1,0 3,0a1.5,1.5 0 1,0-3,0M259.5,355a1.5,1.5 0 1,0 3,0a1.5,1.5 0 1,0-3,0M252.5,371a1.5,1.5 0 1,0 3,0a1.5,1.5 0 1,0-3,0M256.5,364a1.5,1.5 0 1,0 3,0a1.5,1.5 0 1,0-3,0M257.5,368a1.5,1.5 0 1,0 3,0a1.5,1.5 0 1,0-3,0M272.5,368a1.5,1.5 0 1,0 3,0a1.5,1.5 0 1,0-3,0M321.5,366a1.5,1.5 0 1,0 3,0a1.5,1.5 0 1,0-3,0M314.5,353a1.5,1.5 0 1,0 3,0a1.5,1.5 0 1,0-3,0M299.5,388a1.5,1.5 0 1,0 3,0a1.5,1.5 0 1,0-3,0M293.5,395a1.5,1.5 0 1,0 3,0a1.5,1.5 0 1,0-3,0M264.5,401a1.5,1.5 0 1,0 3,0a1.5,1.5 0 1,0-3,0M252.5,411a1.5,1.5 0 1,0 3,0a1.5,1.5 0 1,0-3,0M265.5,411a1.5,1.5 0 1,0 3,0a1.5,1.5 0 1,0-3,0M295.5,416a1.5,1.5 0 1,0 3,0a1.5,1.5 0 1,0-3,0M288.5,418a1.5,1.5 0 1,0 3,0a1.5,1.5 0 1,0-3,0M208.5,243a1.5,1.5 0 1,0 3,0a1.5,1.5 0 1,0-3,0M259.5,451a1.5,1.5 0 1,0 3,0a1.5,1.5 0 1,0-3,0M174.5,287a1.5,1.5 0 1,0 3,0a1.5,1.5 0 1,0-3,0M232.5,314a1.5,1.5 0 1,0 3,0a1.5,1.5 0 1,0-3,0M298.5,417a1.5,1.5 0 1,0 3,0a1.5,1.5 0 1,0-3,0M297.5,397a1.5,1.5 0 1,0 3,0a1.5,1.5 0 1,0-3,0M297.5,387a1.5,1.5 0 1,0 3,0a1.5,1.5 0 1,0-3,0" stroke="#a1ff54" stroke-width="1.1" fill="none"/><path d="M239.5,341a1.5,1.5 0 1,0 3,0a1.5,1.5 0 1,0-3,0M309.5,327a1.5,1.5 0 1,0 3,0a1.5,1.5 0 1,0-3,0M321.5,341a1.5,1.5 0 1,0 3,0a1.5,1.5 0 1,0-3,0M267.5,380a1.5,1.5 0 1,0 3,0a1.5,1.5 0 1,0-3,0M410.5,382a1.5,1.5 0 1,0 3,0a1.5,1.5 0 1,0-3,0" stroke="#a8ff50" stroke-width="1.1" fill="none"/><path d="M361,239.5h5M363.5,237v5M332,251.5h5M334.5,249v5M272,282.5h5M274.5,280v5M302,289.5h5M304.5,287v5M322,301.5h5M324.5,299v5M318,298.5h5M320.5,296v5M328,280.5h5M330.5,278v5M314,316.5h5M316.5,314v5M293,314.5h5M295.5,312v5M310,308.5h5M312.5,306v5M336,299.5h5M338.5,297v5M334,307.5h5M336.5,305v5M359,308.5h5M361.5,306v5M274,332.5h5M276.5,330v5M314,329.5h5M316.5,327v5M297,328.5h5M299.5,326v5M310,327.5h5M312.5,325v5M371,341.5h5M373.5,339v5M390,346.5h5M392.5,344v5M377,322.5h5M379.5,320v5M255,376.5h5M257.5,374v5M267,378.5h5M269.5,376v5M303,362.5h5M305.5,360v5M300,367.5h5M302.5,365v5M324,367.5h5M326.5,365v5M283,395.5h5M285.5,393v5M279,380.5h5M281.5,378v5M286,390.5h5M288.5,388v5M314,390.5h5M316.5,388v5M372,210.5h5M374.5,208v5M382,210.5h5M384.5,208v5M414,231.5h5M416.5,229v5M417,305.5h5M419.5,303v5" stroke="#40ffb0" stroke-width="1" fill="none" shape-rendering="crispEdges"/><path d="M373,242.5h5M375.5,240v5M341,273.5h5M343.5,271v5M382,258.5h5M384.5,256v5M305,293.5h5M307.5,291v5M317,289.5h5M319.5,287v5M313,298.5h5M315.5,296v5M348,290.5h5M350.5,288v5M323,287.5h5M325.5,285v5M349,298.5h5M351.5,296v5M337,288.5h5M339.5,286v5M336,297.5h5M338.5,295v5M272,317.5h5M274.5,315v5M321,306.5h5M323.5,304v5M309,308.5h5M311.5,306v5M299,308.5h5M301.5,306v5M328,313.5h5M330.5,311v5M349,313.5h5M351.5,311v5M299,336.5h5M301.5,334v5M288,349.5h5M290.5,347v5M289,338.5h5M291.5,336v5M307,350.5h5M309.5,348v5M305,341.5h5M307.5,339v5M324,335.5h5M326.5,333v5M326,333.5h5M328.5,331v5M329,336.5h5M331.5,334v5M343,348.5h5M345.5,346v5M367,325.5h5M369.5,323v5M370,331.5h5M372.5,329v5M388,348.5h5M390.5,346v5M387,340.5h5M389.5,338v5M262,362.5h5M264.5,360v5M264,363.5h5M266.5,361v5M289,373.5h5M291.5,371v5M312,353.5h5M314.5,351v5M323,354.5h5M325.5,352v5M324,353.5h5M326.5,351v5M332,362.5h5M334.5,360v5M344,358.5h5M346.5,356v5M364,372.5h5M366.5,370v5M252,397.5h5M254.5,395v5M243,392.5h5M245.5,390v5M290,384.5h5M292.5,382v5M286,375.5h5M288.5,373v5M330,376.5h5M332.5,374v5M307,390.5h5M309.5,388v5M232,412.5h5M234.5,410v5M251,424.5h5M253.5,422v5M246,418.5h5M248.5,416v5M312,417.5h5M314.5,415v5M308,413.5h5M310.5,411v5M362,414.5h5M364.5,412v5M405,215.5h5M407.5,213v5M415,243.5h5M417.5,241v5M409,239.5h5M411.5,237v5M526,343.5h5M528.5,341v5M408,346.5h5M410.5,344v5M342,454.5h5M344.5,452v5M247,508.5h5M249.5,506v5M262,315.5h5M264.5,313v5M297,399.5h5M299.5,397v5" stroke="#48ffa8" stroke-width="1" fill="none" shape-rendering="crispEdges"/><path d="M339,239.5h5M341.5,237v5M342,236.5h5M344.5,234v5M346,274.5h5M348.5,272v5M346,263.5h5M348.5,261v5M355,280.5h5M357.5,278v5M377,267.5h5M379.5,265v5M370,268.5h5M372.5,266v5M396,253.5h5M398.5,251v5M274,290.5h5M276.5,288v5M313,286.5h5M315.5,284v5M306,294.5h5M308.5,292v5M335,300.5h5M337.5,298v5M367,283.5h5M369.5,281v5M361,278.5h5M363.5,276v5M256,304.5h5M258.5,302v5M319,324.5h5M321.5,322v5M311,309.5h5M313.5,307v5M302,321.5h5M304.5,319v5M313,316.5h5M315.5,314v5M334,318.5h5M336.5,316v5M386,323.5h5M388.5,321v5M264,351.5h5M266.5,349v5M260,331.5h5M262.5,329v5M293,349.5h5M295.5,347v5M283,318.5h5M285.5,316v5M296,326.5h5M298.5,324v5M274,323.5h5M276.5,321v5M285,346.5h5M287.5,344v5M272,350.5h5M274.5,348v5M279,327.5h5M281.5,325v5M275,338.5h5M277.5,336v5M302,336.5h5M304.5,334v5M300,337.5h5M302.5,335v5M298,343.5h5M300.5,341v5M315,330.5h5M317.5,328v5M347,343.5h5M349.5,341v5M326,341.5h5M328.5,339v5M337,348.5h5M339.5,346v5M370,327.5h5M372.5,325v5M257,372.5h5M259.5,370v5M271,363.5h5M273.5,361v5M267,355.5h5M269.5,353v5M267,374.5h5M269.5,372v5M350,356.5h5M352.5,354v5M345,354.5h5M347.5,352v5M339,362.5h5M341.5,360v5M358,353.5h5M360.5,351v5M370,361.5h5M372.5,359v5M270,378.5h5M272.5,376v5M268,379.5h5M270.5,377v5M296,380.5h5M298.5,378v5M286,393.5h5M288.5,391v5M315,386.5h5M317.5,384v5M316,384.5h5M318.5,382v5M388,385.5h5M390.5,383v5M264,411.5h5M266.5,409v5M295,418.5h5M297.5,416v5M297,441.5h5M299.5,439v5M355,431.5h5M357.5,429v5M378,203.5h5M380.5,201v5M526,266.5h5M528.5,264v5M437,271.5h5M439.5,269v5M418,272.5h5M420.5,270v5M475,283.5h5M477.5,281v5M488,317.5h5M490.5,315v5M474,335.5h5M476.5,333v5M436,360.5h5M438.5,358v5M402,480.5h5M404.5,478v5M321,315.5h5M323.5,313v5M397,314.5h5M399.5,312v5M296,359.5h5M298.5,357v5" stroke="#50ffa0" stroke-width="1" fill="none" shape-rendering="crispEdges"/><path d="M335,229.5h5M337.5,227v5M351,230.5h5M353.5,228v5M394,238.5h5M396.5,236v5M390,230.5h5M392.5,228v5M251,297.5h5M253.5,295v5M307,281.5h5M309.5,279v5M318,299.5h5M320.5,297v5M329,270.5h5M331.5,268v5M342,298.5h5M344.5,296v5M376,292.5h5M378.5,290v5M391,287.5h5M393.5,285v5M229,320.5h5M231.5,318v5M286,316.5h5M288.5,314v5M277,300.5h5M279.5,298v5M295,323.5h5M297.5,321v5M318,323.5h5M320.5,321v5M306,312.5h5M308.5,310v5M306,320.5h5M308.5,318v5M310,299.5h5M312.5,297v5M302,315.5h5M304.5,313v5M346,304.5h5M348.5,302v5M336,321.5h5M338.5,319v5M354,316.5h5M356.5,314v5M295,334.5h5M297.5,332v5M296,333.5h5M298.5,331v5M296,334.5h5M298.5,332v5M302,330.5h5M304.5,328v5M321,345.5h5M323.5,343v5M294,335.5h5M296.5,333v5M318,330.5h5M320.5,328v5M309,330.5h5M311.5,328v5M299,339.5h5M301.5,337v5M302,351.5h5M304.5,349v5M321,344.5h5M323.5,342v5M323,333.5h5M325.5,331v5M333,347.5h5M335.5,345v5M376,346.5h5M378.5,344v5M371,332.5h5M373.5,330v5M254,351.5h5M256.5,349v5M254,372.5h5M256.5,370v5M280,356.5h5M282.5,354v5M281,356.5h5M283.5,354v5M299,372.5h5M301.5,370v5M296,375.5h5M298.5,373v5M310,367.5h5M312.5,365v5M311,355.5h5M313.5,353v5M319,353.5h5M321.5,351v5M353,355.5h5M355.5,353v5M359,378.5h5M361.5,376v5M363,354.5h5M365.5,352v5M374,351.5h5M376.5,349v5M392,364.5h5M394.5,362v5M319,397.5h5M321.5,395v5M309,376.5h5M311.5,374v5M256,418.5h5M258.5,416v5M245,415.5h5M247.5,413v5M257,402.5h5M259.5,400v5M284,421.5h5M286.5,419v5M310,421.5h5M312.5,419v5M209,434.5h5M211.5,432v5M292,441.5h5M294.5,439v5M284,436.5h5M286.5,434v5M413,317.5h5M415.5,315v5M426,376.5h5M428.5,374v5M442,406.5h5M444.5,404v5" stroke="#58ff98" stroke-width="1" fill="none" shape-rendering="crispEdges"/><path d="M346,269.5h5M348.5,267v5M359,274.5h5M361.5,272v5M385,258.5h5M387.5,256v5M306,304.5h5M308.5,302v5M311,292.5h5M313.5,290v5M321,302.5h5M323.5,300v5M298,276.5h5M300.5,274v5M376,293.5h5M378.5,291v5M389,274.5h5M391.5,272v5M258,309.5h5M260.5,307v5M301,311.5h5M303.5,309v5M306,306.5h5M308.5,304v5M292,307.5h5M294.5,305v5M306,325.5h5M308.5,323v5M336,318.5h5M338.5,316v5M257,329.5h5M259.5,327v5M315,337.5h5M317.5,335v5M348,346.5h5M350.5,344v5M290,355.5h5M292.5,353v5M285,363.5h5M287.5,361v5M305,357.5h5M307.5,355v5M304,359.5h5M306.5,357v5M378,367.5h5M380.5,365v5M253,402.5h5M255.5,400v5M297,376.5h5M299.5,374v5M318,403.5h5M320.5,401v5M278,441.5h5M280.5,439v5M335,441.5h5M337.5,439v5M427,288.5h5M429.5,286v5M287,456.5h5M289.5,454v5" stroke="#60ff90" stroke-width="1" fill="none" shape-rendering="crispEdges"/><path d="M325.5,304a1.5,1.5 0 1,0 3,0a1.5,1.5 0 1,0-3,0M327.5,304a1.5,1.5 0 1,0 3,0a1.5,1.5 0 1,0-3,0M276.5,331a1.5,1.5 0 1,0 3,0a1.5,1.5 0 1,0-3,0M286.5,319a1.5,1.5 0 1,0 3,0a1.5,1.5 0 1,0-3,0M228.5,369a1.5,1.5 0 1,0 3,0a1.5,1.5 0 1,0-3,0M257.5,368a1.5,1.5 0 1,0 3,0a1.5,1.5 0 1,0-3,0M263.5,367a1.5,1.5 0 1,0 3,0a1.5,1.5 0 1,0-3,0M276.5,357a1.5,1.5 0 1,0 3,0a1.5,1.5 0 1,0-3,0M252.5,375a1.5,1.5 0 1,0 3,0a1.5,1.5 0 1,0-3,0M240.5,391a1.5,1.5 0 1,0 3,0a1.5,1.5 0 1,0-3,0M278.5,401a1.5,1.5 0 1,0 3,0a1.5,1.5 0 1,0-3,0M293.5,408a1.5,1.5 0 1,0 3,0a1.5,1.5 0 1,0-3,0M316.5,401a1.5,1.5 0 1,0 3,0a1.5,1.5 0 1,0-3,0M356.5,419a1.5,1.5 0 1,0 3,0a1.5,1.5 0 1,0-3,0M288.5,423a1.5,1.5 0 1,0 3,0a1.5,1.5 0 1,0-3,0M52.5,340a1.5,1.5 0 1,0 3,0a1.5,1.5 0 1,0-3,0M181.5,342a1.5,1.5 0 1,0 3,0a1.5,1.5 0 1,0-3,0M193.5,365a1.5,1.5 0 1,0 3,0a1.5,1.5 0 1,0-3,0M243.5,314a1.5,1.5 0 1,0 3,0a1.5,1.5 0 1,0-3,0" stroke="#8cff60" stroke-width="1.1" fill="none"/><path d="M263.5,319a1.5,1.5 0 1,0 3,0a1.5,1.5 0 1,0-3,0M296.5,313a1.5,1.5 0 1,0 3,0a1.5,1.5 0 1,0-3,0M301.5,309a1.5,1.5 0 1,0 3,0a1.5,1.5 0 1,0-3,0M220.5,346a1.5,1.5 0 1,0 3,0a1.5,1.5 0 1,0-3,0M254.5,323a1.5,1.5 0 1,0 3,0a1.5,1.5 0 1,0-3,0M266.5,348a1.5,1.5 0 1,0 3,0a1.5,1.5 0 1,0-3,0M267.5,335a1.5,1.5 0 1,0 3,0a1.5,1.5 0 1,0-3,0M253.5,329a1.5,1.5 0 1,0 3,0a1.5,1.5 0 1,0-3,0M270.5,337a1.5,1.5 0 1,0 3,0a1.5,1.5 0 1,0-3,0M256.5,336a1.5,1.5 0 1,0 3,0a1.5,1.5 0 1,0-3,0M267.5,337a1.5,1.5 0 1,0 3,0a1.5,1.5 0 1,0-3,0M298.5,334a1.5,1.5 0 1,0 3,0a1.5,1.5 0 1,0-3,0M272.5,337a1.5,1.5 0 1,0 3,0a1.5,1.5 0 1,0-3,0M278.5,327a1.5,1.5 0 1,0 3,0a1.5,1.5 0 1,0-3,0M289.5,342a1.5,1.5 0 1,0 3,0a1.5,1.5 0 1,0-3,0M272.5,339a1.5,1.5 0 1,0 3,0a1.5,1.5 0 1,0-3,0M311.5,326a1.5,1.5 0 1,0 3,0a1.5,1.5 0 1,0-3,0M315.5,334a1.5,1.5 0 1,0 3,0a1.5,1.5 0 1,0-3,0M205.5,360a1.5,1.5 0 1,0 3,0a1.5,1.5 0 1,0-3,0M217.5,366a1.5,1.5 0 1,0 3,0a1.5,1.5 0 1,0-3,0M259.5,367a1.5,1.5 0 1,0 3,0a1.5,1.5 0 1,0-3,0M272.5,356a1.5,1.5 0 1,0 3,0a1.5,1.5 0 1,0-3,0M288.5,360a1.5,1.5 0 1,0 3,0a1.5,1.5 0 1,0-3,0M316.5,374a1.5,1.5 0 1,0 3,0a1.5,1.5 0 1,0-3,0M296.5,390a1.5,1.5 0 1,0 3,0a1.5,1.5 0 1,0-3,0M264.5,404a1.5,1.5 0 1,0 3,0a1.5,1.5 0 1,0-3,0M311.5,423a1.5,1.5 0 1,0 3,0a1.5,1.5 0 1,0-3,0M142.5,134a1.5,1.5 0 1,0 3,0a1.5,1.5 0 1,0-3,0M159.5,349a1.5,1.5 0 1,0 3,0a1.5,1.5 0 1,0-3,0" stroke="#93ff5c" stroke-width="1.1" fill="none"/><path d="M299.5,283a1.5,1.5 0 1,0 3,0a1.5,1.5 0 1,0-3,0M309.5,288a1.5,1.5 0 1,0 3,0a1.5,1.5 0 1,0-3,0M222.5,313a1.5,1.5 0 1,0 3,0a1.5,1.5 0 1,0-3,0M253.5,304a1.5,1.5 0 1,0 3,0a1.5,1.5 0 1,0-3,0M283.5,307a1.5,1.5 0 1,0 3,0a1.5,1.5 0 1,0-3,0M263.5,332a1.5,1.5 0 1,0 3,0a1.5,1.5 0 1,0-3,0M271.5,323a1.5,1.5 0 1,0 3,0a1.5,1.5 0 1,0-3,0M247.5,347a1.5,1.5 0 1,0 3,0a1.5,1.5 0 1,0-3,0M271.5,340a1.5,1.5 0 1,0 3,0a1.5,1.5 0 1,0-3,0M277.5,337a1.5,1.5 0 1,0 3,0a1.5,1.5 0 1,0-3,0M297.5,347a1.5,1.5 0 1,0 3,0a1.5,1.5 0 1,0-3,0M296.5,332a1.5,1.5 0 1,0 3,0a1.5,1.5 0 1,0-3,0M292.5,330a1.5,1.5 0 1,0 3,0a1.5,1.5 0 1,0-3,0M282.5,330a1.5,1.5 0 1,0 3,0a1.5,1.5 0 1,0-3,0M297.5,348a1.5,1.5 0 1,0 3,0a1.5,1.5 0 1,0-3,0M308.5,338a1.5,1.5 0 1,0 3,0a1.5,1.5 0 1,0-3,0M318.5,328a1.5,1.5 0 1,0 3,0a1.5,1.5 0 1,0-3,0M384.5,327a1.5,1.5 0 1,0 3,0a1.5,1.5 0 1,0-3,0M276.5,360a1.5,1.5 0 1,0 3,0a1.5,1.5 0 1,0-3,0M266.5,357a1.5,1.5 0 1,0 3,0a1.5,1.5 0 1,0-3,0M273.5,354a1.5,1.5 0 1,0 3,0a1.5,1.5 0 1,0-3,0M267.5,363a1.5,1.5 0 1,0 3,0a1.5,1.5 0 1,0-3,0M261.5,369a1.5,1.5 0 1,0 3,0a1.5,1.5 0 1,0-3,0M252.5,367a1.5,1.5 0 1,0 3,0a1.5,1.5 0 1,0-3,0M277.5,368a1.5,1.5 0 1,0 3,0a1.5,1.5 0 1,0-3,0M278.5,365a1.5,1.5 0 1,0 3,0a1.5,1.5 0 1,0-3,0M320.5,371a1.5,1.5 0 1,0 3,0a1.5,1.5 0 1,0-3,0M305.5,378a1.5,1.5 0 1,0 3,0a1.5,1.5 0 1,0-3,0M307.5,362a1.5,1.5 0 1,0 3,0a1.5,1.5 0 1,0-3,0M386.5,344a1.5,1.5 0 1,0 3,0a1.5,1.5 0 1,0-3,0M249.5,379a1.5,1.5 0 1,0 3,0a1.5,1.5 0 1,0-3,0M267.5,388a1.5,1.5 0 1,0 3,0a1.5,1.5 0 1,0-3,0M275.5,416a1.5,1.5 0 1,0 3,0a1.5,1.5 0 1,0-3,0M265.5,405a1.5,1.5 0 1,0 3,0a1.5,1.5 0 1,0-3,0M262.5,423a1.5,1.5 0 1,0 3,0a1.5,1.5 0 1,0-3,0M288.5,405a1.5,1.5 0 1,0 3,0a1.5,1.5 0 1,0-3,0M182.5,444a1.5,1.5 0 1,0 3,0a1.5,1.5 0 1,0-3,0" stroke="#9aff58" stroke-width="1.1" fill="none"/><path d="M291.5,310a1.5,1.5 0 1,0 3,0a1.5,1.5 0 1,0-3,0M303.5,303a1.5,1.5 0 1,0 3,0a1.5,1.5 0 1,0-3,0M202.5,337a1.5,1.5 0 1,0 3,0a1.5,1.5 0 1,0-3,0M239.5,345a1.5,1.5 0 1,0 3,0a1.5,1.5 0 1,0-3,0M270.5,335a1.5,1.5 0 1,0 3,0a1.5,1.5 0 1,0-3,0M269.5,329a1.5,1.5 0 1,0 3,0a1.5,1.5 0 1,0-3,0M293.5,349a1.5,1.5 0 1,0 3,0a1.5,1.5 0 1,0-3,0M291.5,338a1.5,1.5 0 1,0 3,0a1.5,1.5 0 1,0-3,0M309.5,341a1.5,1.5 0 1,0 3,0a1.5,1.5 0 1,0-3,0M312.5,335a1.5,1.5 0 1,0 3,0a1.5,1.5 0 1,0-3,0M312.5,342a1.5,1.5 0 1,0 3,0a1.5,1.5 0 1,0-3,0M311.5,337a1.5,1.5 0 1,0 3,0a1.5,1.5 0 1,0-3,0M272.5,353a1.5,1.5 0 1,0 3,0a1.5,1.5 0 1,0-3,0M264.5,364a1.5,1.5 0 1,0 3,0a1.5,1.5 0 1,0-3,0M256.5,367a1.5,1.5 0 1,0 3,0a1.5,1.5 0 1,0-3,0M285.5,357a1.5,1.5 0 1,0 3,0a1.5,1.5 0 1,0-3,0M281.5,357a1.5,1.5 0 1,0 3,0a1.5,1.5 0 1,0-3,0M291.5,376a1.5,1.5 0 1,0 3,0a1.5,1.5 0 1,0-3,0M341.5,355a1.5,1.5 0 1,0 3,0a1.5,1.5 0 1,0-3,0M278.5,394a1.5,1.5 0 1,0 3,0a1.5,1.5 0 1,0-3,0M276.5,384a1.5,1.5 0 1,0 3,0a1.5,1.5 0 1,0-3,0M301.5,397a1.5,1.5 0 1,0 3,0a1.5,1.5 0 1,0-3,0M273.5,421a1.5,1.5 0 1,0 3,0a1.5,1.5 0 1,0-3,0M286.5,432a1.5,1.5 0 1,0 3,0a1.5,1.5 0 1,0-3,0M296.5,334a1.5,1.5 0 1,0 3,0a1.5,1.5 0 1,0-3,0" stroke="#a1ff54" stroke-width="1.1" fill="none"/><path d="M266.5,299a1.5,1.5 0 1,0 3,0a1.5,1.5 0 1,0-3,0M263.5,300a1.5,1.5 0 1,0 3,0a1.5,1.5 0 1,0-3,0M261.5,331a1.5,1.5 0 1,0 3,0a1.5,1.5 0 1,0-3,0M254.5,351a1.5,1.5 0 1,0 3,0a1.5,1.5 0 1,0-3,0M254.5,343a1.5,1.5 0 1,0 3,0a1.5,1.5 0 1,0-3,0M283.5,349a1.5,1.5 0 1,0 3,0a1.5,1.5 0 1,0-3,0M289.5,326a1.5,1.5 0 1,0 3,0a1.5,1.5 0 1,0-3,0M307.5,333a1.5,1.5 0 1,0 3,0a1.5,1.5 0 1,0-3,0M256.5,375a1.5,1.5 0 1,0 3,0a1.5,1.5 0 1,0-3,0M297.5,359a1.5,1.5 0 1,0 3,0a1.5,1.5 0 1,0-3,0M272.5,353a1.5,1.5 0 1,0 3,0a1.5,1.5 0 1,0-3,0M279.5,373a1.5,1.5 0 1,0 3,0a1.5,1.5 0 1,0-3,0M298.5,373a1.5,1.5 0 1,0 3,0a1.5,1.5 0 1,0-3,0M312.5,373a1.5,1.5 0 1,0 3,0a1.5,1.5 0 1,0-3,0M242.5,382a1.5,1.5 0 1,0 3,0a1.5,1.5 0 1,0-3,0M268.5,407a1.5,1.5 0 1,0 3,0a1.5,1.5 0 1,0-3,0M252.5,423a1.5,1.5 0 1,0 3,0a1.5,1.5 0 1,0-3,0M317.5,457a1.5,1.5 0 1,0 3,0a1.5,1.5 0 1,0-3,0" stroke="#a8ff50" stroke-width="1.1" fill="none"/><path d="M367,245.5h5M369.5,243v5M339,253.5h5M341.5,251v5M284,283.5h5M286.5,281v5M302,289.5h5M304.5,287v5M343,278.5h5M345.5,276v5M359,281.5h5M361.5,279v5M305,318.5h5M307.5,316v5M346,324.5h5M348.5,322v5M285,346.5h5M287.5,344v5M291,339.5h5M293.5,337v5M286,337.5h5M288.5,335v5M294,345.5h5M296.5,343v5M320,337.5h5M322.5,335v5M328,334.5h5M330.5,332v5M341,339.5h5M343.5,337v5M335,346.5h5M337.5,344v5M357,352.5h5M359.5,350v5M391,333.5h5M393.5,331v5M392,344.5h5M394.5,342v5M240,360.5h5M242.5,358v5M267,359.5h5M269.5,357v5M283,363.5h5M285.5,361v5M299,362.5h5M301.5,360v5M284,357.5h5M286.5,355v5M297,346.5h5M299.5,344v5M302,364.5h5M304.5,362v5M305,371.5h5M307.5,369v5M344,371.5h5M346.5,369v5M348,354.5h5M350.5,352v5M344,359.5h5M346.5,357v5M276,390.5h5M278.5,388v5M296,434.5h5M298.5,432v5M325,439.5h5M327.5,437v5M330,181.5h5M332.5,179v5M398,209.5h5M400.5,207v5M446,366.5h5M448.5,364v5" stroke="#40ffb0" stroke-width="1" fill="none" shape-rendering="crispEdges"/><path d="M305,260.5h5M307.5,258v5M306,267.5h5M308.5,265v5M337,275.5h5M339.5,273v5M322,262.5h5M324.5,260v5M388,260.5h5M390.5,258v5M378,273.5h5M380.5,271v5M292,282.5h5M294.5,280v5M310,288.5h5M312.5,286v5M314,283.5h5M316.5,281v5M319,289.5h5M321.5,287v5M335,286.5h5M337.5,284v5M330,292.5h5M332.5,290v5M326,283.5h5M328.5,281v5M272,310.5h5M274.5,308v5M301,313.5h5M303.5,311v5M310,320.5h5M312.5,318v5M321,317.5h5M323.5,315v5M348,315.5h5M350.5,313v5M335,311.5h5M337.5,309v5M344,309.5h5M346.5,307v5M265,344.5h5M267.5,342v5M279,341.5h5M281.5,339v5M309,326.5h5M311.5,324v5M300,337.5h5M302.5,335v5M382,354.5h5M384.5,352v5M233,380.5h5M235.5,378v5M266,372.5h5M268.5,370v5M259,369.5h5M261.5,367v5M265,351.5h5M267.5,349v5M273,356.5h5M275.5,354v5M279,354.5h5M281.5,352v5M298,381.5h5M300.5,379v5M275,357.5h5M277.5,355v5M304,366.5h5M306.5,364v5M303,368.5h5M305.5,366v5M327,355.5h5M329.5,353v5M300,362.5h5M302.5,360v5M319,362.5h5M321.5,360v5M347,359.5h5M349.5,357v5M334,367.5h5M336.5,365v5M331,375.5h5M333.5,373v5M274,389.5h5M276.5,387v5M292,387.5h5M294.5,385v5M296,385.5h5M298.5,383v5M312,381.5h5M314.5,379v5M351,397.5h5M353.5,395v5M362,385.5h5M364.5,383v5M266,410.5h5M268.5,408v5M292,420.5h5M294.5,418v5M346,417.5h5M348.5,415v5M334,409.5h5M336.5,407v5M367,423.5h5M369.5,421v5M353,408.5h5M355.5,406v5M339,431.5h5M341.5,429v5M348,217.5h5M350.5,215v5M278,246.5h5M280.5,244v5M494,246.5h5M496.5,244v5M252,484.5h5M254.5,482v5M384,482.5h5M386.5,480v5M193,292.5h5M195.5,290v5M294,269.5h5M296.5,267v5M391,314.5h5M393.5,312v5" stroke="#48ffa8" stroke-width="1" fill="none" shape-rendering="crispEdges"/><path d="M347,227.5h5M349.5,225v5M380,235.5h5M382.5,233v5M348,267.5h5M350.5,265v5M350,269.5h5M352.5,267v5M346,267.5h5M348.5,265v5M364,252.5h5M366.5,250v5M377,269.5h5M379.5,267v5M376,270.5h5M378.5,268v5M295,295.5h5M297.5,293v5M316,292.5h5M318.5,290v5M303,295.5h5M305.5,293v5M322,284.5h5M324.5,282v5M344,287.5h5M346.5,285v5M324,290.5h5M326.5,288v5M346,288.5h5M348.5,286v5M374,290.5h5M376.5,288v5M289,315.5h5M291.5,313v5M322,306.5h5M324.5,304v5M329,299.5h5M331.5,297v5M341,321.5h5M343.5,319v5M330,325.5h5M332.5,323v5M336,300.5h5M338.5,298v5M343,310.5h5M345.5,308v5M340,305.5h5M342.5,303v5M357,306.5h5M359.5,304v5M260,332.5h5M262.5,330v5M245,331.5h5M247.5,329v5M285,337.5h5M287.5,335v5M330,347.5h5M332.5,345v5M305,339.5h5M307.5,337v5M302,334.5h5M304.5,332v5M315,340.5h5M317.5,338v5M303,343.5h5M305.5,341v5M301,334.5h5M303.5,332v5M310,341.5h5M312.5,339v5M311,338.5h5M313.5,336v5M312,341.5h5M314.5,339v5M345,338.5h5M347.5,336v5M324,328.5h5M326.5,326v5M325,340.5h5M327.5,338v5M362,342.5h5M364.5,340v5M269,362.5h5M271.5,360v5M293,373.5h5M295.5,371v5M297,363.5h5M299.5,361v5M293,364.5h5M295.5,362v5M299,370.5h5M301.5,368v5M319,368.5h5M321.5,366v5M310,368.5h5M312.5,366v5M315,367.5h5M317.5,365v5M331,369.5h5M333.5,367v5M321,354.5h5M323.5,352v5M240,392.5h5M242.5,390v5M244,399.5h5M246.5,397v5M295,375.5h5M297.5,373v5M307,389.5h5M309.5,387v5M312,395.5h5M314.5,393v5M311,390.5h5M313.5,388v5M336,401.5h5M338.5,399v5M359,389.5h5M361.5,387v5M307,409.5h5M309.5,407v5M339,418.5h5M341.5,416v5M328,415.5h5M330.5,413v5M271,432.5h5M273.5,430v5M427,181.5h5M429.5,179v5M415,249.5h5M417.5,247v5M428,269.5h5M430.5,267v5M315,537.5h5M317.5,535v5M285,269.5h5M287.5,267v5" stroke="#50ffa0" stroke-width="1" fill="none" shape-rendering="crispEdges"/><path d="M338,245.5h5M340.5,243v5M330,239.5h5M332.5,237v5M378,241.5h5M380.5,239v5M329,268.5h5M331.5,266v5M335,260.5h5M337.5,258v5M321,262.5h5M323.5,260v5M315,291.5h5M317.5,289v5M371,302.5h5M373.5,300v5M349,274.5h5M351.5,272v5M390,289.5h5M392.5,287v5M299,320.5h5M301.5,318v5M318,321.5h5M320.5,319v5M319,309.5h5M321.5,307v5M323,308.5h5M325.5,306v5M330,328.5h5M332.5,326v5M369,305.5h5M371.5,303v5M352,321.5h5M354.5,319v5M272,339.5h5M274.5,337v5M269,340.5h5M271.5,338v5M289,328.5h5M291.5,326v5M277,325.5h5M279.5,323v5M275,321.5h5M277.5,319v5M315,334.5h5M317.5,332v5M312,339.5h5M314.5,337v5M308,329.5h5M310.5,327v5M317,335.5h5M319.5,333v5M301,333.5h5M303.5,331v5M301,338.5h5M303.5,336v5M318,340.5h5M320.5,338v5M305,337.5h5M307.5,335v5M304,350.5h5M306.5,348v5M309,334.5h5M311.5,332v5M346,338.5h5M348.5,336v5M320,338.5h5M322.5,336v5M327,328.5h5M329.5,326v5M346,333.5h5M348.5,331v5M379,336.5h5M381.5,334v5M393,339.5h5M395.5,337v5M269,368.5h5M271.5,366v5M253,352.5h5M255.5,350v5M287,361.5h5M289.5,359v5M287,368.5h5M289.5,366v5M290,356.5h5M292.5,354v5M268,382.5h5M270.5,380v5M272,356.5h5M274.5,354v5M292,356.5h5M294.5,354v5M310,350.5h5M312.5,348v5M317,356.5h5M319.5,354v5M305,363.5h5M307.5,361v5M333,359.5h5M335.5,357v5M366,351.5h5M368.5,349v5M393,368.5h5M395.5,366v5M272,394.5h5M274.5,392v5M281,381.5h5M283.5,379v5M278,400.5h5M280.5,398v5M293,400.5h5M295.5,398v5M301,397.5h5M303.5,395v5M316,376.5h5M318.5,374v5M323,382.5h5M325.5,380v5M397,396.5h5M399.5,394v5M285,401.5h5M287.5,399v5M310,402.5h5M312.5,400v5M316,416.5h5M318.5,414v5M295,424.5h5M297.5,422v5M307,436.5h5M309.5,434v5M300,431.5h5M302.5,429v5M321,438.5h5M323.5,436v5M359,445.5h5M361.5,443v5M419,280.5h5M421.5,278v5M470,294.5h5M472.5,292v5M282,456.5h5M284.5,454v5M250,532.5h5M252.5,530v5M311,315.5h5M313.5,313v5M295,322.5h5M297.5,320v5" stroke="#58ff98" stroke-width="1" fill="none" shape-rendering="crispEdges"/><path d="M346,242.5h5M348.5,240v5M328,263.5h5M330.5,261v5M321,257.5h5M323.5,255v5M377,253.5h5M379.5,251v5M311,288.5h5M313.5,286v5M347,283.5h5M349.5,281v5M330,275.5h5M332.5,273v5M355,300.5h5M357.5,298v5M362,283.5h5M364.5,281v5M270,306.5h5M272.5,304v5M259,314.5h5M261.5,312v5M299,306.5h5M301.5,304v5M299,324.5h5M301.5,322v5M313,317.5h5M315.5,315v5M339,310.5h5M341.5,308v5M348,311.5h5M350.5,309v5M348,314.5h5M350.5,312v5M263,333.5h5M265.5,331v5M260,327.5h5M262.5,325v5M314,330.5h5M316.5,328v5M305,344.5h5M307.5,342v5M344,333.5h5M346.5,331v5M364,347.5h5M366.5,345v5M262,350.5h5M264.5,348v5M255,356.5h5M257.5,354v5M283,362.5h5M285.5,360v5M273,356.5h5M275.5,354v5M309,376.5h5M311.5,374v5M325,366.5h5M327.5,364v5M279,385.5h5M281.5,383v5M280,396.5h5M282.5,394v5M317,387.5h5M319.5,385v5M252,409.5h5M254.5,407v5M288,406.5h5M290.5,404v5M301,402.5h5M303.5,400v5M364,430.5h5M366.5,428v5M399,376.5h5M401.5,374v5M322,315.5h5M324.5,313v5" stroke="#60ff90" stroke-width="1" fill="none" shape-rendering="crispEdges"/><path d="M333.5,261a1.5,1.5 0 1,0 3,0a1.5,1.5 0 1,0-3,0M248.5,337a1.5,1.5 0 1,0 3,0a1.5,1.5 0 1,0-3,0M290.5,335a1.5,1.5 0 1,0 3,0a1.5,1.5 0 1,0-3,0M291.5,343a1.5,1.5 0 1,0 3,0a1.5,1.5 0 1,0-3,0M276.5,331a1.5,1.5 0 1,0 3,0a1.5,1.5 0 1,0-3,0M218.5,359a1.5,1.5 0 1,0 3,0a1.5,1.5 0 1,0-3,0M201.5,353a1.5,1.5 0 1,0 3,0a1.5,1.5 0 1,0-3,0M243.5,374a1.5,1.5 0 1,0 3,0a1.5,1.5 0 1,0-3,0M254.5,378a1.5,1.5 0 1,0 3,0a1.5,1.5 0 1,0-3,0M259.5,361a1.5,1.5 0 1,0 3,0a1.5,1.5 0 1,0-3,0M278.5,346a1.5,1.5 0 1,0 3,0a1.5,1.5 0 1,0-3,0M316.5,367a1.5,1.5 0 1,0 3,0a1.5,1.5 0 1,0-3,0M308.5,368a1.5,1.5 0 1,0 3,0a1.5,1.5 0 1,0-3,0M313.5,356a1.5,1.5 0 1,0 3,0a1.5,1.5 0 1,0-3,0M297.5,382a1.5,1.5 0 1,0 3,0a1.5,1.5 0 1,0-3,0M189.5,234a1.5,1.5 0 1,0 3,0a1.5,1.5 0 1,0-3,0M412.5,407a1.5,1.5 0 1,0 3,0a1.5,1.5 0 1,0-3,0M296.5,313a1.5,1.5 0 1,0 3,0a1.5,1.5 0 1,0-3,0" stroke="#8cff60" stroke-width="1.1" fill="none"/><path d="M210.5,344a1.5,1.5 0 1,0 3,0a1.5,1.5 0 1,0-3,0M214.5,338a1.5,1.5 0 1,0 3,0a1.5,1.5 0 1,0-3,0M232.5,342a1.5,1.5 0 1,0 3,0a1.5,1.5 0 1,0-3,0M291.5,319a1.5,1.5 0 1,0 3,0a1.5,1.5 0 1,0-3,0M280.5,340a1.5,1.5 0 1,0 3,0a1.5,1.5 0 1,0-3,0M273.5,323a1.5,1.5 0 1,0 3,0a1.5,1.5 0 1,0-3,0M309.5,341a1.5,1.5 0 1,0 3,0a1.5,1.5 0 1,0-3,0M339.5,341a1.5,1.5 0 1,0 3,0a1.5,1.5 0 1,0-3,0M323.5,323a1.5,1.5 0 1,0 3,0a1.5,1.5 0 1,0-3,0M245.5,362a1.5,1.5 0 1,0 3,0a1.5,1.5 0 1,0-3,0M254.5,370a1.5,1.5 0 1,0 3,0a1.5,1.5 0 1,0-3,0M263.5,370a1.5,1.5 0 1,0 3,0a1.5,1.5 0 1,0-3,0M273.5,360a1.5,1.5 0 1,0 3,0a1.5,1.5 0 1,0-3,0M274.5,365a1.5,1.5 0 1,0 3,0a1.5,1.5 0 1,0-3,0M290.5,353a1.5,1.5 0 1,0 3,0a1.5,1.5 0 1,0-3,0M281.5,358a1.5,1.5 0 1,0 3,0a1.5,1.5 0 1,0-3,0M279.5,351a1.5,1.5 0 1,0 3,0a1.5,1.5 0 1,0-3,0M331.5,373a1.5,1.5 0 1,0 3,0a1.5,1.5 0 1,0-3,0M226.5,383a1.5,1.5 0 1,0 3,0a1.5,1.5 0 1,0-3,0M274.5,385a1.5,1.5 0 1,0 3,0a1.5,1.5 0 1,0-3,0M234.5,413a1.5,1.5 0 1,0 3,0a1.5,1.5 0 1,0-3,0M250.5,396a1.5,1.5 0 1,0 3,0a1.5,1.5 0 1,0-3,0M256.5,423a1.5,1.5 0 1,0 3,0a1.5,1.5 0 1,0-3,0M298.5,416a1.5,1.5 0 1,0 3,0a1.5,1.5 0 1,0-3,0M281.5,407a1.5,1.5 0 1,0 3,0a1.5,1.5 0 1,0-3,0M428.5,298a1.5,1.5 0 1,0 3,0a1.5,1.5 0 1,0-3,0M296.5,470a1.5,1.5 0 1,0 3,0a1.5,1.5 0 1,0-3,0M175.5,362a1.5,1.5 0 1,0 3,0a1.5,1.5 0 1,0-3,0" stroke="#93ff5c" stroke-width="1.1" fill="none"/><path d="M277.5,302a1.5,1.5 0 1,0 3,0a1.5,1.5 0 1,0-3,0M308.5,315a1.5,1.5 0 1,0 3,0a1.5,1.5 0 1,0-3,0M244.5,347a1.5,1.5 0 1,0 3,0a1.5,1.5 0 1,0-3,0M265.5,335a1.5,1.5 0 1,0 3,0a1.5,1.5 0 1,0-3,0M259.5,348a1.5,1.5 0 1,0 3,0a1.5,1.5 0 1,0-3,0M261.5,323a1.5,1.5 0 1,0 3,0a1.5,1.5 0 1,0-3,0M264.5,334a1.5,1.5 0 1,0 3,0a1.5,1.5 0 1,0-3,0M258.5,343a1.5,1.5 0 1,0 3,0a1.5,1.5 0 1,0-3,0M296.5,338a1.5,1.5 0 1,0 3,0a1.5,1.5 0 1,0-3,0M278.5,343a1.5,1.5 0 1,0 3,0a1.5,1.5 0 1,0-3,0M312.5,351a1.5,1.5 0 1,0 3,0a1.5,1.5 0 1,0-3,0M326.5,330a1.5,1.5 0 1,0 3,0a1.5,1.5 0 1,0-3,0M242.5,371a1.5,1.5 0 1,0 3,0a1.5,1.5 0 1,0-3,0M242.5,379a1.5,1.5 0 1,0 3,0a1.5,1.5 0 1,0-3,0M267.5,361a1.5,1.5 0 1,0 3,0a1.5,1.5 0 1,0-3,0M253.5,368a1.5,1.5 0 1,0 3,0a1.5,1.5 0 1,0-3,0M262.5,356a1.5,1.5 0 1,0 3,0a1.5,1.5 0 1,0-3,0M274.5,370a1.5,1.5 0 1,0 3,0a1.5,1.5 0 1,0-3,0M301.5,364a1.5,1.5 0 1,0 3,0a1.5,1.5 0 1,0-3,0M273.5,347a1.5,1.5 0 1,0 3,0a1.5,1.5 0 1,0-3,0M337.5,371a1.5,1.5 0 1,0 3,0a1.5,1.5 0 1,0-3,0M291.5,385a1.5,1.5 0 1,0 3,0a1.5,1.5 0 1,0-3,0M273.5,400a1.5,1.5 0 1,0 3,0a1.5,1.5 0 1,0-3,0M311.5,388a1.5,1.5 0 1,0 3,0a1.5,1.5 0 1,0-3,0M254.5,413a1.5,1.5 0 1,0 3,0a1.5,1.5 0 1,0-3,0M254.5,412a1.5,1.5 0 1,0 3,0a1.5,1.5 0 1,0-3,0M229.5,437a1.5,1.5 0 1,0 3,0a1.5,1.5 0 1,0-3,0M274.5,421a1.5,1.5 0 1,0 3,0a1.5,1.5 0 1,0-3,0M159.5,362a1.5,1.5 0 1,0 3,0a1.5,1.5 0 1,0-3,0M296.5,307a1.5,1.5 0 1,0 3,0a1.5,1.5 0 1,0-3,0" stroke="#9aff58" stroke-width="1.1" fill="none"/><path d="M281.5,285a1.5,1.5 0 1,0 3,0a1.5,1.5 0 1,0-3,0M342.5,276a1.5,1.5 0 1,0 3,0a1.5,1.5 0 1,0-3,0M229.5,308a1.5,1.5 0 1,0 3,0a1.5,1.5 0 1,0-3,0M273.5,314a1.5,1.5 0 1,0 3,0a1.5,1.5 0 1,0-3,0M370.5,313a1.5,1.5 0 1,0 3,0a1.5,1.5 0 1,0-3,0M251.5,343a1.5,1.5 0 1,0 3,0a1.5,1.5 0 1,0-3,0M270.5,332a1.5,1.5 0 1,0 3,0a1.5,1.5 0 1,0-3,0M292.5,338a1.5,1.5 0 1,0 3,0a1.5,1.5 0 1,0-3,0M273.5,333a1.5,1.5 0 1,0 3,0a1.5,1.5 0 1,0-3,0M296.5,336a1.5,1.5 0 1,0 3,0a1.5,1.5 0 1,0-3,0M274.5,329a1.5,1.5 0 1,0 3,0a1.5,1.5 0 1,0-3,0M285.5,334a1.5,1.5 0 1,0 3,0a1.5,1.5 0 1,0-3,0M286.5,326a1.5,1.5 0 1,0 3,0a1.5,1.5 0 1,0-3,0M287.5,332a1.5,1.5 0 1,0 3,0a1.5,1.5 0 1,0-3,0M280.5,331a1.5,1.5 0 1,0 3,0a1.5,1.5 0 1,0-3,0M307.5,352a1.5,1.5 0 1,0 3,0a1.5,1.5 0 1,0-3,0M327.5,345a1.5,1.5 0 1,0 3,0a1.5,1.5 0 1,0-3,0M303.5,347a1.5,1.5 0 1,0 3,0a1.5,1.5 0 1,0-3,0M332.5,350a1.5,1.5 0 1,0 3,0a1.5,1.5 0 1,0-3,0M237.5,368a1.5,1.5 0 1,0 3,0a1.5,1.5 0 1,0-3,0M244.5,359a1.5,1.5 0 1,0 3,0a1.5,1.5 0 1,0-3,0M265.5,352a1.5,1.5 0 1,0 3,0a1.5,1.5 0 1,0-3,0M253.5,348a1.5,1.5 0 1,0 3,0a1.5,1.5 0 1,0-3,0M256.5,360a1.5,1.5 0 1,0 3,0a1.5,1.5 0 1,0-3,0M264.5,377a1.5,1.5 0 1,0 3,0a1.5,1.5 0 1,0-3,0M270.5,354a1.5,1.5 0 1,0 3,0a1.5,1.5 0 1,0-3,0M289.5,369a1.5,1.5 0 1,0 3,0a1.5,1.5 0 1,0-3,0M289.5,374a1.5,1.5 0 1,0 3,0a1.5,1.5 0 1,0-3,0M314.5,369a1.5,1.5 0 1,0 3,0a1.5,1.5 0 1,0-3,0M270.5,374a1.5,1.5 0 1,0 3,0a1.5,1.5 0 1,0-3,0M267.5,385a1.5,1.5 0 1,0 3,0a1.5,1.5 0 1,0-3,0M279.5,398a1.5,1.5 0 1,0 3,0a1.5,1.5 0 1,0-3,0M297.5,375a1.5,1.5 0 1,0 3,0a1.5,1.5 0 1,0-3,0M305.5,416a1.5,1.5 0 1,0 3,0a1.5,1.5 0 1,0-3,0M72.5,314a1.5,1.5 0 1,0 3,0a1.5,1.5 0 1,0-3,0M56.5,336a1.5,1.5 0 1,0 3,0a1.5,1.5 0 1,0-3,0M154.5,363a1.5,1.5 0 1,0 3,0a1.5,1.5 0 1,0-3,0M288.5,314a1.5,1.5 0 1,0 3,0a1.5,1.5 0 1,0-3,0M296.5,396a1.5,1.5 0 1,0 3,0a1.5,1.5 0 1,0-3,0M297.5,359a1.5,1.5 0 1,0 3,0a1.5,1.5 0 1,0-3,0" stroke="#a1ff54" stroke-width="1.1" fill="none"/><path d="M221.5,308a1.5,1.5 0 1,0 3,0a1.5,1.5 0 1,0-3,0M253.5,306a1.5,1.5 0 1,0 3,0a1.5,1.5 0 1,0-3,0M217.5,325a1.5,1.5 0 1,0 3,0a1.5,1.5 0 1,0-3,0M248.5,336a1.5,1.5 0 1,0 3,0a1.5,1.5 0 1,0-3,0M257.5,335a1.5,1.5 0 1,0 3,0a1.5,1.5 0 1,0-3,0M284.5,329a1.5,1.5 0 1,0 3,0a1.5,1.5 0 1,0-3,0M293.5,343a1.5,1.5 0 1,0 3,0a1.5,1.5 0 1,0-3,0M316.5,348a1.5,1.5 0 1,0 3,0a1.5,1.5 0 1,0-3,0M217.5,353a1.5,1.5 0 1,0 3,0a1.5,1.5 0 1,0-3,0M256.5,357a1.5,1.5 0 1,0 3,0a1.5,1.5 0 1,0-3,0M277.5,365a1.5,1.5 0 1,0 3,0a1.5,1.5 0 1,0-3,0M285.5,361a1.5,1.5 0 1,0 3,0a1.5,1.5 0 1,0-3,0M286.5,368a1.5,1.5 0 1,0 3,0a1.5,1.5 0 1,0-3,0M289.5,364a1.5,1.5 0 1,0 3,0a1.5,1.5 0 1,0-3,0M315.5,360a1.5,1.5 0 1,0 3,0a1.5,1.5 0 1,0-3,0M321.5,358a1.5,1.5 0 1,0 3,0a1.5,1.5 0 1,0-3,0M242.5,378a1.5,1.5 0 1,0 3,0a1.5,1.5 0 1,0-3,0M286.5,395a1.5,1.5 0 1,0 3,0a1.5,1.5 0 1,0-3,0M279.5,390a1.5,1.5 0 1,0 3,0a1.5,1.5 0 1,0-3,0M322.5,391a1.5,1.5 0 1,0 3,0a1.5,1.5 0 1,0-3,0M292.5,372a1.5,1.5 0 1,0 3,0a1.5,1.5 0 1,0-3,0M207.5,409a1.5,1.5 0 1,0 3,0a1.5,1.5 0 1,0-3,0M229.5,238a1.5,1.5 0 1,0 3,0a1.5,1.5 0 1,0-3,0M154.5,314a1.5,1.5 0 1,0 3,0a1.5,1.5 0 1,0-3,0M295.5,446a1.5,1.5 0 1,0 3,0a1.5,1.5 0 1,0-3,0" stroke="#a8ff50" stroke-width="1.1" fill="none"/><path d="M340,267.5h5M342.5,265v5M334,253.5h5M336.5,251v5M319,280.5h5M321.5,278v5M303,279.5h5M305.5,277v5M306,289.5h5M308.5,287v5M328,297.5h5M330.5,295v5M309,324.5h5M311.5,322v5M313,312.5h5M315.5,310v5M303,320.5h5M305.5,318v5M315,313.5h5M317.5,311v5M268,345.5h5M270.5,343v5M274,346.5h5M276.5,344v5M273,339.5h5M275.5,337v5M302,346.5h5M304.5,344v5M326,337.5h5M328.5,335v5M311,336.5h5M313.5,334v5M382,348.5h5M384.5,346v5M380,342.5h5M382.5,340v5M253,369.5h5M255.5,367v5M268,362.5h5M270.5,360v5M295,363.5h5M297.5,361v5M288,377.5h5M290.5,375v5M306,363.5h5M308.5,361v5M324,351.5h5M326.5,349v5M340,365.5h5M342.5,363v5M285,393.5h5M287.5,391v5M264,415.5h5M266.5,413v5M330,115.5h5M332.5,113v5M408,352.5h5M410.5,350v5M414,376.5h5M416.5,374v5M401,436.5h5M403.5,434v5M324,458.5h5M326.5,456v5" stroke="#40ffb0" stroke-width="1" fill="none" shape-rendering="crispEdges"/><path d="M313,228.5h5M315.5,226v5M368,233.5h5M370.5,231v5M333,258.5h5M335.5,256v5M333,259.5h5M335.5,257v5M327,273.5h5M329.5,271v5M374,261.5h5M376.5,259v5M270,278.5h5M272.5,276v5M330,288.5h5M332.5,286v5M305,284.5h5M307.5,282v5M324,284.5h5M326.5,282v5M353,281.5h5M355.5,279v5M358,281.5h5M360.5,279v5M345,292.5h5M347.5,290v5M386,300.5h5M388.5,298v5M389,292.5h5M391.5,290v5M310,311.5h5M312.5,309v5M298,298.5h5M300.5,296v5M336,322.5h5M338.5,320v5M328,313.5h5M330.5,311v5M333,299.5h5M335.5,297v5M338,322.5h5M340.5,320v5M373,322.5h5M375.5,320v5M296,342.5h5M298.5,340v5M300,339.5h5M302.5,337v5M307,331.5h5M309.5,329v5M312,340.5h5M314.5,338v5M319,329.5h5M321.5,327v5M304,343.5h5M306.5,341v5M301,327.5h5M303.5,325v5M319,347.5h5M321.5,345v5M305,330.5h5M307.5,328v5M341,343.5h5M343.5,341v5M324,331.5h5M326.5,329v5M328,330.5h5M330.5,328v5M321,328.5h5M323.5,326v5M377,335.5h5M379.5,333v5M395,340.5h5M397.5,338v5M385,347.5h5M387.5,345v5M237,377.5h5M239.5,375v5M280,364.5h5M282.5,362v5M294,357.5h5M296.5,355v5M273,366.5h5M275.5,364v5M276,366.5h5M278.5,364v5M303,364.5h5M305.5,362v5M306,357.5h5M308.5,355v5M345,354.5h5M347.5,352v5M324,370.5h5M326.5,368v5M344,363.5h5M346.5,361v5M331,353.5h5M333.5,351v5M368,352.5h5M370.5,350v5M285,391.5h5M287.5,389v5M339,399.5h5M341.5,397v5M365,382.5h5M367.5,380v5M252,409.5h5M254.5,407v5M261,408.5h5M263.5,406v5M245,400.5h5M247.5,398v5M309,416.5h5M311.5,414v5M320,416.5h5M322.5,414v5M305,415.5h5M307.5,413v5M294,422.5h5M296.5,420v5M340,418.5h5M342.5,416v5M296,87.5h5M298.5,85v5M378,215.5h5M380.5,213v5M295,247.5h5M297.5,245v5M278,314.5h5M280.5,312v5M296,397.5h5M298.5,395v5" stroke="#48ffa8" stroke-width="1" fill="none" shape-rendering="crispEdges"/><path d="M321,237.5h5M323.5,235v5M316,236.5h5M318.5,234v5M366,246.5h5M368.5,244v5M318,269.5h5M320.5,267v5M345,270.5h5M347.5,268v5M344,254.5h5M346.5,252v5M299,292.5h5M301.5,290v5M289,299.5h5M291.5,297v5M306,296.5h5M308.5,294v5M298,283.5h5M300.5,281v5M299,275.5h5M301.5,273v5M308,277.5h5M310.5,275v5M304,284.5h5M306.5,282v5M348,289.5h5M350.5,287v5M340,293.5h5M342.5,291v5M356,286.5h5M358.5,284v5M341,280.5h5M343.5,278v5M361,291.5h5M363.5,289v5M315,320.5h5M317.5,318v5M310,323.5h5M312.5,321v5M341,296.5h5M343.5,294v5M325,317.5h5M327.5,315v5M340,315.5h5M342.5,313v5M372,305.5h5M374.5,303v5M368,313.5h5M370.5,311v5M389,317.5h5M391.5,315v5M221,338.5h5M223.5,336v5M244,340.5h5M246.5,338v5M266,347.5h5M268.5,345v5M285,340.5h5M287.5,338v5M289,341.5h5M291.5,339v5M316,350.5h5M318.5,348v5M315,348.5h5M317.5,346v5M317,344.5h5M319.5,342v5M299,337.5h5M301.5,335v5M316,340.5h5M318.5,338v5M333,345.5h5M335.5,343v5M336,341.5h5M338.5,339v5M351,338.5h5M353.5,336v5M360,343.5h5M362.5,341v5M249,350.5h5M251.5,348v5M258,351.5h5M260.5,349v5M284,357.5h5M286.5,355v5M292,356.5h5M294.5,354v5M301,369.5h5M303.5,367v5M293,360.5h5M295.5,358v5M308,363.5h5M310.5,361v5M299,364.5h5M301.5,362v5M308,374.5h5M310.5,372v5M309,368.5h5M311.5,366v5M324,351.5h5M326.5,349v5M343,351.5h5M345.5,349v5M373,360.5h5M375.5,358v5M281,380.5h5M283.5,378v5M303,393.5h5M305.5,391v5M363,384.5h5M365.5,382v5M374,382.5h5M376.5,380v5M260,404.5h5M262.5,402v5M311,419.5h5M313.5,417v5M305,140.5h5M307.5,138v5M377,170.5h5M379.5,168v5M423,168.5h5M425.5,166v5M427,246.5h5M429.5,244v5M408,236.5h5M410.5,234v5M414,245.5h5M416.5,243v5M251,528.5h5M253.5,526v5M231,314.5h5M233.5,312v5M304,313.5h5M306.5,311v5M375,314.5h5M377.5,312v5M296,342.5h5M298.5,340v5" stroke="#50ffa0" stroke-width="1" fill="none" shape-rendering="crispEdges"/><path d="M325,243.5h5M327.5,241v5M300,245.5h5M302.5,243v5M332,255.5h5M334.5,253v5M352,258.5h5M354.5,256v5M320,255.5h5M322.5,253v5M364,251.5h5M366.5,249v5M375,263.5h5M377.5,261v5M291,283.5h5M293.5,281v5M301,273.5h5M303.5,271v5M324,297.5h5M326.5,295v5M330,272.5h5M332.5,270v5M336,288.5h5M338.5,286v5M371,303.5h5M373.5,301v5M373,291.5h5M375.5,289v5M388,291.5h5M390.5,289v5M281,319.5h5M283.5,317v5M312,302.5h5M314.5,300v5M318,325.5h5M320.5,323v5M301,304.5h5M303.5,302v5M313,317.5h5M315.5,315v5M326,322.5h5M328.5,320v5M329,307.5h5M331.5,305v5M395,312.5h5M397.5,310v5M252,344.5h5M254.5,342v5M281,342.5h5M283.5,340v5M291,319.5h5M293.5,317v5M320,338.5h5M322.5,336v5M321,340.5h5M323.5,338v5M320,326.5h5M322.5,324v5M301,341.5h5M303.5,339v5M335,337.5h5M337.5,335v5M344,335.5h5M346.5,333v5M342,337.5h5M344.5,335v5M363,346.5h5M365.5,344v5M300,366.5h5M302.5,364v5M281,378.5h5M283.5,376v5M286,361.5h5M288.5,359v5M275,374.5h5M277.5,372v5M285,360.5h5M287.5,358v5M302,370.5h5M304.5,368v5M320,379.5h5M322.5,377v5M333,358.5h5M335.5,356v5M331,371.5h5M333.5,369v5M277,389.5h5M279.5,387v5M361,390.5h5M363.5,388v5M355,379.5h5M357.5,377v5M254,421.5h5M256.5,419v5M258,412.5h5M260.5,410v5M258,422.5h5M260.5,420v5M291,411.5h5M293.5,409v5M309,407.5h5M311.5,405v5M317,396.5h5M319.5,394v5M329,413.5h5M331.5,411v5M393,420.5h5M395.5,418v5M298,188.5h5M300.5,186v5M411,182.5h5M413.5,180v5M438,285.5h5M440.5,283v5M428,311.5h5M430.5,309v5M410,442.5h5M412.5,440v5M266,263.5h5M268.5,261v5M262,315.5h5M264.5,313v5" stroke="#58ff98" stroke-width="1" fill="none" shape-rendering="crispEdges"/><path d="M340,226.5h5M342.5,224v5M371,242.5h5M373.5,240v5M343,250.5h5M345.5,248v5M378,280.5h5M380.5,278v5M374,266.5h5M376.5,264v5M279,285.5h5M281.5,283v5M320,277.5h5M322.5,275v5M314,294.5h5M316.5,292v5M311,296.5h5M313.5,294v5M340,300.5h5M342.5,298v5M321,290.5h5M323.5,288v5M391,280.5h5M393.5,278v5M303,296.5h5M305.5,294v5M323,324.5h5M325.5,322v5M329,316.5h5M331.5,314v5M332,305.5h5M334.5,303v5M357,310.5h5M359.5,308v5M295,327.5h5M297.5,325v5M344,327.5h5M346.5,325v5M338,342.5h5M340.5,340v5M335,326.5h5M337.5,324v5M371,324.5h5M373.5,322v5M268,362.5h5M270.5,360v5M268,361.5h5M270.5,359v5M286,369.5h5M288.5,367v5M369,351.5h5M371.5,349v5M239,387.5h5M241.5,385v5M299,389.5h5M301.5,387v5M314,378.5h5M316.5,376v5M241,406.5h5M243.5,404v5M366,486.5h5M368.5,484v5M302,520.5h5M304.5,518v5" stroke="#60ff90" stroke-width="1" fill="none" shape-rendering="crispEdges"/><path d="M274.5,343a1.5,1.5 0 1,0 3,0a1.5,1.5 0 1,0-3,0M272.5,329a1.5,1.5 0 1,0 3,0a1.5,1.5 0 1,0-3,0M303.5,341a1.5,1.5 0 1,0 3,0a1.5,1.5 0 1,0-3,0M305.5,349a1.5,1.5 0 1,0 3,0a1.5,1.5 0 1,0-3,0M238.5,374a1.5,1.5 0 1,0 3,0a1.5,1.5 0 1,0-3,0M251.5,352a1.5,1.5 0 1,0 3,0a1.5,1.5 0 1,0-3,0M271.5,351a1.5,1.5 0 1,0 3,0a1.5,1.5 0 1,0-3,0M286.5,391a1.5,1.5 0 1,0 3,0a1.5,1.5 0 1,0-3,0M262.5,444a1.5,1.5 0 1,0 3,0a1.5,1.5 0 1,0-3,0M287.5,428a1.5,1.5 0 1,0 3,0a1.5,1.5 0 1,0-3,0M129.5,157a1.5,1.5 0 1,0 3,0a1.5,1.5 0 1,0-3,0M191.5,348a1.5,1.5 0 1,0 3,0a1.5,1.5 0 1,0-3,0" stroke="#8cff60" stroke-width="1.1" fill="none"/><path d="M254.5,318a1.5,1.5 0 1,0 3,0a1.5,1.5 0 1,0-3,0M266.5,301a1.5,1.5 0 1,0 3,0a1.5,1.5 0 1,0-3,0M256.5,302a1.5,1.5 0 1,0 3,0a1.5,1.5 0 1,0-3,0M260.5,317a1.5,1.5 0 1,0 3,0a1.5,1.5 0 1,0-3,0M281.5,302a1.5,1.5 0 1,0 3,0a1.5,1.5 0 1,0-3,0M216.5,345a1.5,1.5 0 1,0 3,0a1.5,1.5 0 1,0-3,0M211.5,335a1.5,1.5 0 1,0 3,0a1.5,1.5 0 1,0-3,0M236.5,323a1.5,1.5 0 1,0 3,0a1.5,1.5 0 1,0-3,0M256.5,319a1.5,1.5 0 1,0 3,0a1.5,1.5 0 1,0-3,0M257.5,348a1.5,1.5 0 1,0 3,0a1.5,1.5 0 1,0-3,0M279.5,339a1.5,1.5 0 1,0 3,0a1.5,1.5 0 1,0-3,0M285.5,329a1.5,1.5 0 1,0 3,0a1.5,1.5 0 1,0-3,0M311.5,339a1.5,1.5 0 1,0 3,0a1.5,1.5 0 1,0-3,0M295.5,325a1.5,1.5 0 1,0 3,0a1.5,1.5 0 1,0-3,0M221.5,367a1.5,1.5 0 1,0 3,0a1.5,1.5 0 1,0-3,0M208.5,369a1.5,1.5 0 1,0 3,0a1.5,1.5 0 1,0-3,0M222.5,351a1.5,1.5 0 1,0 3,0a1.5,1.5 0 1,0-3,0M213.5,353a1.5,1.5 0 1,0 3,0a1.5,1.5 0 1,0-3,0M261.5,355a1.5,1.5 0 1,0 3,0a1.5,1.5 0 1,0-3,0M252.5,369a1.5,1.5 0 1,0 3,0a1.5,1.5 0 1,0-3,0M256.5,361a1.5,1.5 0 1,0 3,0a1.5,1.5 0 1,0-3,0M297.5,374a1.5,1.5 0 1,0 3,0a1.5,1.5 0 1,0-3,0M277.5,359a1.5,1.5 0 1,0 3,0a1.5,1.5 0 1,0-3,0M291.5,358a1.5,1.5 0 1,0 3,0a1.5,1.5 0 1,0-3,0M276.5,350a1.5,1.5 0 1,0 3,0a1.5,1.5 0 1,0-3,0M237.5,381a1.5,1.5 0 1,0 3,0a1.5,1.5 0 1,0-3,0M272.5,397a1.5,1.5 0 1,0 3,0a1.5,1.5 0 1,0-3,0M281.5,394a1.5,1.5 0 1,0 3,0a1.5,1.5 0 1,0-3,0M300.5,385a1.5,1.5 0 1,0 3,0a1.5,1.5 0 1,0-3,0M250.5,421a1.5,1.5 0 1,0 3,0a1.5,1.5 0 1,0-3,0M241.5,408a1.5,1.5 0 1,0 3,0a1.5,1.5 0 1,0-3,0M261.5,405a1.5,1.5 0 1,0 3,0a1.5,1.5 0 1,0-3,0M356.5,442a1.5,1.5 0 1,0 3,0a1.5,1.5 0 1,0-3,0M181.5,157a1.5,1.5 0 1,0 3,0a1.5,1.5 0 1,0-3,0M207.5,455a1.5,1.5 0 1,0 3,0a1.5,1.5 0 1,0-3,0M273.5,314a1.5,1.5 0 1,0 3,0a1.5,1.5 0 1,0-3,0M255.5,314a1.5,1.5 0 1,0 3,0a1.5,1.5 0 1,0-3,0M297.5,385a1.5,1.5 0 1,0 3,0a1.5,1.5 0 1,0-3,0" stroke="#93ff5c" stroke-width="1.1" fill="none"/><path d="M287.5,275a1.5,1.5 0 1,0 3,0a1.5,1.5 0 1,0-3,0M290.5,296a1.5,1.5 0 1,0 3,0a1.5,1.5 0 1,0-3,0M245.5,310a1.5,1.5 0 1,0 3,0a1.5,1.5 0 1,0-3,0M257.5,323a1.5,1.5 0 1,0 3,0a1.5,1.5 0 1,0-3,0M276.5,316a1.5,1.5 0 1,0 3,0a1.5,1.5 0 1,0-3,0M247.5,320a1.5,1.5 0 1,0 3,0a1.5,1.5 0 1,0-3,0M350.5,306a1.5,1.5 0 1,0 3,0a1.5,1.5 0 1,0-3,0M216.5,340a1.5,1.5 0 1,0 3,0a1.5,1.5 0 1,0-3,0M244.5,349a1.5,1.5 0 1,0 3,0a1.5,1.5 0 1,0-3,0M243.5,336a1.5,1.5 0 1,0 3,0a1.5,1.5 0 1,0-3,0M266.5,343a1.5,1.5 0 1,0 3,0a1.5,1.5 0 1,0-3,0M278.5,339a1.5,1.5 0 1,0 3,0a1.5,1.5 0 1,0-3,0M248.5,329a1.5,1.5 0 1,0 3,0a1.5,1.5 0 1,0-3,0M279.5,352a1.5,1.5 0 1,0 3,0a1.5,1.5 0 1,0-3,0M280.5,327a1.5,1.5 0 1,0 3,0a1.5,1.5 0 1,0-3,0M316.5,339a1.5,1.5 0 1,0 3,0a1.5,1.5 0 1,0-3,0M333.5,329a1.5,1.5 0 1,0 3,0a1.5,1.5 0 1,0-3,0M228.5,367a1.5,1.5 0 1,0 3,0a1.5,1.5 0 1,0-3,0M245.5,364a1.5,1.5 0 1,0 3,0a1.5,1.5 0 1,0-3,0M234.5,367a1.5,1.5 0 1,0 3,0a1.5,1.5 0 1,0-3,0M233.5,361a1.5,1.5 0 1,0 3,0a1.5,1.5 0 1,0-3,0M259.5,348a1.5,1.5 0 1,0 3,0a1.5,1.5 0 1,0-3,0M259.5,368a1.5,1.5 0 1,0 3,0a1.5,1.5 0 1,0-3,0M270.5,350a1.5,1.5 0 1,0 3,0a1.5,1.5 0 1,0-3,0M272.5,367a1.5,1.5 0 1,0 3,0a1.5,1.5 0 1,0-3,0M248.5,373a1.5,1.5 0 1,0 3,0a1.5,1.5 0 1,0-3,0M254.5,365a1.5,1.5 0 1,0 3,0a1.5,1.5 0 1,0-3,0M297.5,367a1.5,1.5 0 1,0 3,0a1.5,1.5 0 1,0-3,0M286.5,369a1.5,1.5 0 1,0 3,0a1.5,1.5 0 1,0-3,0M287.5,366a1.5,1.5 0 1,0 3,0a1.5,1.5 0 1,0-3,0M281.5,376a1.5,1.5 0 1,0 3,0a1.5,1.5 0 1,0-3,0M338.5,357a1.5,1.5 0 1,0 3,0a1.5,1.5 0 1,0-3,0M347.5,368a1.5,1.5 0 1,0 3,0a1.5,1.5 0 1,0-3,0M235.5,381a1.5,1.5 0 1,0 3,0a1.5,1.5 0 1,0-3,0M254.5,402a1.5,1.5 0 1,0 3,0a1.5,1.5 0 1,0-3,0M284.5,378a1.5,1.5 0 1,0 3,0a1.5,1.5 0 1,0-3,0M242.5,425a1.5,1.5 0 1,0 3,0a1.5,1.5 0 1,0-3,0M264.5,400a1.5,1.5 0 1,0 3,0a1.5,1.5 0 1,0-3,0M306.5,420a1.5,1.5 0 1,0 3,0a1.5,1.5 0 1,0-3,0M270.5,445a1.5,1.5 0 1,0 3,0a1.5,1.5 0 1,0-3,0M295.5,431a1.5,1.5 0 1,0 3,0a1.5,1.5 0 1,0-3,0M256.5,534a1.5,1.5 0 1,0 3,0a1.5,1.5 0 1,0-3,0M197.5,337a1.5,1.5 0 1,0 3,0a1.5,1.5 0 1,0-3,0M236.5,294a1.5,1.5 0 1,0 3,0a1.5,1.5 0 1,0-3,0M296.5,338a1.5,1.5 0 1,0 3,0a1.5,1.5 0 1,0-3,0" stroke="#9aff58" stroke-width="1.1" fill="none"/><path d="M346.5,247a1.5,1.5 0 1,0 3,0a1.5,1.5 0 1,0-3,0M271.5,294a1.5,1.5 0 1,0 3,0a1.5,1.5 0 1,0-3,0M257.5,302a1.5,1.5 0 1,0 3,0a1.5,1.5 0 1,0-3,0M260.5,304a1.5,1.5 0 1,0 3,0a1.5,1.5 0 1,0-3,0M285.5,320a1.5,1.5 0 1,0 3,0a1.5,1.5 0 1,0-3,0M305.5,316a1.5,1.5 0 1,0 3,0a1.5,1.5 0 1,0-3,0M223.5,347a1.5,1.5 0 1,0 3,0a1.5,1.5 0 1,0-3,0M229.5,331a1.5,1.5 0 1,0 3,0a1.5,1.5 0 1,0-3,0M260.5,348a1.5,1.5 0 1,0 3,0a1.5,1.5 0 1,0-3,0M247.5,344a1.5,1.5 0 1,0 3,0a1.5,1.5 0 1,0-3,0M261.5,342a1.5,1.5 0 1,0 3,0a1.5,1.5 0 1,0-3,0M255.5,348a1.5,1.5 0 1,0 3,0a1.5,1.5 0 1,0-3,0M289.5,346a1.5,1.5 0 1,0 3,0a1.5,1.5 0 1,0-3,0M294.5,346a1.5,1.5 0 1,0 3,0a1.5,1.5 0 1,0-3,0M292.5,339a1.5,1.5 0 1,0 3,0a1.5,1.5 0 1,0-3,0M224.5,368a1.5,1.5 0 1,0 3,0a1.5,1.5 0 1,0-3,0M235.5,353a1.5,1.5 0 1,0 3,0a1.5,1.5 0 1,0-3,0M252.5,368a1.5,1.5 0 1,0 3,0a1.5,1.5 0 1,0-3,0M259.5,368a1.5,1.5 0 1,0 3,0a1.5,1.5 0 1,0-3,0M285.5,360a1.5,1.5 0 1,0 3,0a1.5,1.5 0 1,0-3,0M272.5,361a1.5,1.5 0 1,0 3,0a1.5,1.5 0 1,0-3,0M279.5,357a1.5,1.5 0 1,0 3,0a1.5,1.5 0 1,0-3,0M318.5,364a1.5,1.5 0 1,0 3,0a1.5,1.5 0 1,0-3,0M217.5,386a1.5,1.5 0 1,0 3,0a1.5,1.5 0 1,0-3,0M249.5,382a1.5,1.5 0 1,0 3,0a1.5,1.5 0 1,0-3,0M253.5,389a1.5,1.5 0 1,0 3,0a1.5,1.5 0 1,0-3,0M268.5,389a1.5,1.5 0 1,0 3,0a1.5,1.5 0 1,0-3,0M299.5,389a1.5,1.5 0 1,0 3,0a1.5,1.5 0 1,0-3,0M272.5,430a1.5,1.5 0 1,0 3,0a1.5,1.5 0 1,0-3,0M224.5,431a1.5,1.5 0 1,0 3,0a1.5,1.5 0 1,0-3,0M292.5,429a1.5,1.5 0 1,0 3,0a1.5,1.5 0 1,0-3,0M336.5,534a1.5,1.5 0 1,0 3,0a1.5,1.5 0 1,0-3,0M186.5,321a1.5,1.5 0 1,0 3,0a1.5,1.5 0 1,0-3,0M140.5,351a1.5,1.5 0 1,0 3,0a1.5,1.5 0 1,0-3,0M152.5,376a1.5,1.5 0 1,0 3,0a1.5,1.5 0 1,0-3,0M297.5,426a1.5,1.5 0 1,0 3,0a1.5,1.5 0 1,0-3,0" stroke="#a1ff54" stroke-width="1.1" fill="none"/><path d="M299.5,284a1.5,1.5 0 1,0 3,0a1.5,1.5 0 1,0-3,0M254.5,345a1.5,1.5 0 1,0 3,0a1.5,1.5 0 1,0-3,0M250.5,347a1.5,1.5 0 1,0 3,0a1.5,1.5 0 1,0-3,0M253.5,331a1.5,1.5 0 1,0 3,0a1.5,1.5 0 1,0-3,0M284.5,343a1.5,1.5 0 1,0 3,0a1.5,1.5 0 1,0-3,0M206.5,355a1.5,1.5 0 1,0 3,0a1.5,1.5 0 1,0-3,0M221.5,367a1.5,1.5 0 1,0 3,0a1.5,1.5 0 1,0-3,0M253.5,361a1.5,1.5 0 1,0 3,0a1.5,1.5 0 1,0-3,0M259.5,348a1.5,1.5 0 1,0 3,0a1.5,1.5 0 1,0-3,0M263.5,370a1.5,1.5 0 1,0 3,0a1.5,1.5 0 1,0-3,0M266.5,352a1.5,1.5 0 1,0 3,0a1.5,1.5 0 1,0-3,0M269.5,358a1.5,1.5 0 1,0 3,0a1.5,1.5 0 1,0-3,0M292.5,365a1.5,1.5 0 1,0 3,0a1.5,1.5 0 1,0-3,0M294.5,364a1.5,1.5 0 1,0 3,0a1.5,1.5 0 1,0-3,0M282.5,360a1.5,1.5 0 1,0 3,0a1.5,1.5 0 1,0-3,0M302.5,366a1.5,1.5 0 1,0 3,0a1.5,1.5 0 1,0-3,0M295.5,396a1.5,1.5 0 1,0 3,0a1.5,1.5 0 1,0-3,0M313.5,382a1.5,1.5 0 1,0 3,0a1.5,1.5 0 1,0-3,0M293.5,403a1.5,1.5 0 1,0 3,0a1.5,1.5 0 1,0-3,0M301.5,448a1.5,1.5 0 1,0 3,0a1.5,1.5 0 1,0-3,0M202.5,277a1.5,1.5 0 1,0 3,0a1.5,1.5 0 1,0-3,0M179.5,376a1.5,1.5 0 1,0 3,0a1.5,1.5 0 1,0-3,0M264.5,316a1.5,1.5 0 1,0 3,0a1.5,1.5 0 1,0-3,0M297.5,344a1.5,1.5 0 1,0 3,0a1.5,1.5 0 1,0-3,0" stroke="#a8ff50" stroke-width="1.1" fill="none"/><path d="M300,229.5h5M302.5,227v5M364,262.5h5M366.5,260v5M318,282.5h5M320.5,280v5M311,268.5h5M313.5,266v5M347,276.5h5M349.5,274v5M384,275.5h5M386.5,273v5M287,307.5h5M289.5,305v5M305,311.5h5M307.5,309v5M304,296.5h5M306.5,294v5M345,302.5h5M347.5,300v5M347,327.5h5M349.5,325v5M358,296.5h5M360.5,294v5M397,305.5h5M399.5,303v5M266,335.5h5M268.5,333v5M256,342.5h5M258.5,340v5M304,336.5h5M306.5,334v5M327,342.5h5M329.5,340v5M352,332.5h5M354.5,330v5M372,341.5h5M374.5,339v5M258,354.5h5M260.5,352v5M298,372.5h5M300.5,370v5M317,371.5h5M319.5,369v5M345,350.5h5M347.5,348v5M286,391.5h5M288.5,389v5M291,391.5h5M293.5,389v5M321,389.5h5M323.5,387v5M325,391.5h5M327.5,389v5M299,378.5h5M301.5,376v5M314,436.5h5M316.5,434v5M336,444.5h5M338.5,442v5M194,189.5h5M196.5,187v5M366,220.5h5M368.5,218v5M416,282.5h5M418.5,280v5M499,368.5h5M501.5,366v5M306,315.5h5M308.5,313v5" stroke="#40ffb0" stroke-width="1" fill="none" shape-rendering="crispEdges"/><path d="M388,241.5h5M390.5,239v5M335,266.5h5M337.5,264v5M344,256.5h5M346.5,254v5M327,256.5h5M329.5,254v5M366,261.5h5M368.5,259v5M309,291.5h5M311.5,289v5M314,280.5h5M316.5,278v5M308,291.5h5M310.5,289v5M301,303.5h5M303.5,301v5M311,280.5h5M313.5,278v5M303,271.5h5M305.5,269v5M298,273.5h5M300.5,271v5M342,272.5h5M344.5,270v5M331,279.5h5M333.5,277v5M369,274.5h5M371.5,272v5M360,288.5h5M362.5,286v5M312,311.5h5M314.5,309v5M302,309.5h5M304.5,307v5M310,301.5h5M312.5,299v5M295,319.5h5M297.5,317v5M309,308.5h5M311.5,306v5M305,327.5h5M307.5,325v5M330,316.5h5M332.5,314v5M343,322.5h5M345.5,320v5M328,322.5h5M330.5,320v5M340,308.5h5M342.5,306v5M226,340.5h5M228.5,338v5M275,351.5h5M277.5,349v5M326,352.5h5M328.5,350v5M320,337.5h5M322.5,335v5M307,357.5h5M309.5,355v5M305,344.5h5M307.5,342v5M312,318.5h5M314.5,316v5M319,344.5h5M321.5,342v5M315,328.5h5M317.5,326v5M304,344.5h5M306.5,342v5M376,334.5h5M378.5,332v5M349,350.5h5M351.5,348v5M369,341.5h5M371.5,339v5M377,341.5h5M379.5,339v5M392,325.5h5M394.5,323v5M380,328.5h5M382.5,326v5M222,358.5h5M224.5,356v5M263,368.5h5M265.5,366v5M255,354.5h5M257.5,352v5M275,363.5h5M277.5,361v5M260,370.5h5M262.5,368v5M292,355.5h5M294.5,353v5M297,359.5h5M299.5,357v5M289,368.5h5M291.5,366v5M274,367.5h5M276.5,365v5M283,347.5h5M285.5,345v5M299,350.5h5M301.5,348v5M312,371.5h5M314.5,369v5M322,365.5h5M324.5,363v5M330,362.5h5M332.5,360v5M337,365.5h5M339.5,363v5M361,363.5h5M363.5,361v5M318,382.5h5M320.5,380v5M312,393.5h5M314.5,391v5M307,394.5h5M309.5,392v5M332,390.5h5M334.5,388v5M270,400.5h5M272.5,398v5M271,425.5h5M273.5,423v5M301,411.5h5M303.5,409v5M346,416.5h5M348.5,414v5M308,439.5h5M310.5,437v5M440,268.5h5M442.5,266v5M466,436.5h5M468.5,434v5M303,479.5h5M305.5,477v5M299,508.5h5M301.5,506v5M308,315.5h5M310.5,313v5M340,314.5h5M342.5,312v5M297,345.5h5M299.5,343v5M297,300.5h5M299.5,298v5" stroke="#48ffa8" stroke-width="1" fill="none" shape-rendering="crispEdges"/><path d="M360,237.5h5M362.5,235v5M364,242.5h5M366.5,240v5M324,258.5h5M326.5,256v5M325,251.5h5M327.5,249v5M340,254.5h5M342.5,252v5M306,277.5h5M308.5,275v5M332,280.5h5M334.5,278v5M337,300.5h5M339.5,298v5M304,320.5h5M306.5,318v5M343,317.5h5M345.5,315v5M325,299.5h5M327.5,297v5M353,314.5h5M355.5,312v5M250,337.5h5M252.5,335v5M277,337.5h5M279.5,335v5M317,330.5h5M319.5,328v5M305,346.5h5M307.5,344v5M318,341.5h5M320.5,339v5M310,340.5h5M312.5,338v5M342,325.5h5M344.5,323v5M343,330.5h5M345.5,328v5M342,329.5h5M344.5,327v5M379,353.5h5M381.5,351v5M252,362.5h5M254.5,360v5M264,359.5h5M266.5,357v5M272,370.5h5M274.5,368v5M275,356.5h5M277.5,354v5M278,355.5h5M280.5,353v5M285,372.5h5M287.5,370v5M319,378.5h5M321.5,376v5M312,348.5h5M314.5,346v5M305,365.5h5M307.5,363v5M323,366.5h5M325.5,364v5M312,349.5h5M314.5,347v5M312,360.5h5M314.5,358v5M350,344.5h5M352.5,342v5M336,369.5h5M338.5,367v5M339,357.5h5M341.5,355v5M338,360.5h5M340.5,358v5M324,381.5h5M326.5,379v5M354,367.5h5M356.5,365v5M292,382.5h5M294.5,380v5M288,381.5h5M290.5,379v5M275,393.5h5M277.5,391v5M296,378.5h5M298.5,376v5M282,380.5h5M284.5,378v5M290,392.5h5M292.5,390v5M308,401.5h5M310.5,399v5M337,380.5h5M339.5,378v5M365,379.5h5M367.5,377v5M206,418.5h5M208.5,416v5M361,427.5h5M363.5,425v5M271,430.5h5M273.5,428v5M373,188.5h5M375.5,186v5M408,192.5h5M410.5,190v5M444,344.5h5M446.5,342v5M262,480.5h5M264.5,478v5M186,368.5h5M188.5,366v5M335,315.5h5M337.5,313v5M396,315.5h5M398.5,313v5M296,409.5h5M298.5,407v5M297,312.5h5M299.5,310v5M297,412.5h5M299.5,410v5" stroke="#50ffa0" stroke-width="1" fill="none" shape-rendering="crispEdges"/><path d="M323,231.5h5M325.5,229v5M327,257.5h5M329.5,255v5M336,258.5h5M338.5,256v5M375,256.5h5M377.5,254v5M294,277.5h5M296.5,275v5M311,292.5h5M313.5,290v5M316,276.5h5M318.5,274v5M317,278.5h5M319.5,276v5M323,291.5h5M325.5,289v5M321,290.5h5M323.5,288v5M304,284.5h5M306.5,282v5M325,294.5h5M327.5,292v5M347,288.5h5M349.5,286v5M332,278.5h5M334.5,276v5M360,284.5h5M362.5,282v5M357,287.5h5M359.5,285v5M367,295.5h5M369.5,293v5M365,292.5h5M367.5,290v5M370,304.5h5M372.5,302v5M258,314.5h5M260.5,312v5M269,316.5h5M271.5,314v5M294,301.5h5M296.5,299v5M327,313.5h5M329.5,311v5M298,300.5h5M300.5,298v5M316,308.5h5M318.5,306v5M341,303.5h5M343.5,301v5M343,320.5h5M345.5,318v5M344,306.5h5M346.5,304v5M363,302.5h5M365.5,300v5M353,313.5h5M355.5,311v5M366,308.5h5M368.5,306v5M389,319.5h5M391.5,317v5M260,328.5h5M262.5,326v5M261,329.5h5M263.5,327v5M266,349.5h5M268.5,347v5M247,326.5h5M249.5,324v5M274,333.5h5M276.5,331v5M305,341.5h5M307.5,339v5M306,348.5h5M308.5,346v5M324,340.5h5M326.5,338v5M304,348.5h5M306.5,346v5M297,333.5h5M299.5,331v5M339,330.5h5M341.5,328v5M339,341.5h5M341.5,339v5M335,346.5h5M337.5,344v5M361,342.5h5M363.5,340v5M389,345.5h5M391.5,343v5M390,331.5h5M392.5,329v5M278,370.5h5M280.5,368v5M271,356.5h5M273.5,354v5M262,378.5h5M264.5,376v5M251,366.5h5M253.5,364v5M273,370.5h5M275.5,368v5M288,367.5h5M290.5,365v5M285,365.5h5M287.5,363v5M284,349.5h5M286.5,347v5M327,371.5h5M329.5,369v5M329,370.5h5M331.5,368v5M325,344.5h5M327.5,342v5M271,389.5h5M273.5,387v5M298,391.5h5M300.5,389v5M312,397.5h5M314.5,395v5M297,377.5h5M299.5,375v5M264,414.5h5M266.5,412v5M289,419.5h5M291.5,417v5M291,419.5h5M293.5,417v5M303,421.5h5M305.5,419v5M353,417.5h5M355.5,415v5M353,193.5h5M355.5,191v5M368,196.5h5M370.5,194v5M271,466.5h5M273.5,464v5M345,495.5h5M347.5,493v5M121,374.5h5M123.5,372v5M297,320.5h5M299.5,318v5" stroke="#58ff98" stroke-width="1" fill="none" shape-rendering="crispEdges"/><path d="M333,254.5h5M335.5,252v5M343,263.5h5M345.5,261v5M306,291.5h5M308.5,289v5M311,282.5h5M313.5,280v5M311,274.5h5M313.5,272v5M362,282.5h5M364.5,280v5M305,298.5h5M307.5,296v5M333,312.5h5M335.5,310v5M322,293.5h5M324.5,291v5M354,313.5h5M356.5,311v5M308,333.5h5M310.5,331v5M307,349.5h5M309.5,347v5M323,330.5h5M325.5,328v5M314,332.5h5M316.5,330v5M339,334.5h5M341.5,332v5M327,331.5h5M329.5,329v5M360,334.5h5M362.5,332v5M360,346.5h5M362.5,344v5M362,337.5h5M364.5,335v5M375,341.5h5M377.5,339v5M393,337.5h5M395.5,335v5M287,350.5h5M289.5,348v5M275,371.5h5M277.5,369v5M287,372.5h5M289.5,370v5M294,365.5h5M296.5,363v5M305,355.5h5M307.5,353v5M303,362.5h5M305.5,360v5M304,379.5h5M306.5,377v5M317,364.5h5M319.5,362v5M358,357.5h5M360.5,355v5M230,389.5h5M232.5,387v5M291,393.5h5M293.5,391v5M270,402.5h5M272.5,400v5M295,410.5h5M297.5,408v5M335,412.5h5M337.5,410v5M372,420.5h5M374.5,418v5M354,398.5h5M356.5,396v5M333,426.5h5M335.5,424v5M408,251.5h5M410.5,249v5M412,324.5h5M414.5,322v5M295,410.5h5M297.5,408v5" stroke="#60ff90" stroke-width="1" fill="none" shape-rendering="crispEdges"/><path d="M329,314h1v1h-1zM329,318h1v1h-1zM328,322h1v1h-1zM327,326h1v1h-1zM325,329h1v1h-1zM323,333h1v1h-1zM320,336h1v1h-1zM318,338h1v1h-1zM314,341h1v1h-1zM311,343h1v1h-1zM307,344h1v1h-1zM303,345h1v1h-1zM299,345h1v1h-1zM295,345h1v1h-1zM291,345h1v1h-1zM287,343h1v1h-1zM284,342h1v1h-1zM280,340h1v1h-1zM277,337h1v1h-1zM274,334h1v1h-1zM272,331h1v1h-1zM270,328h1v1h-1zM268,324h1v1h-1zM267,320h1v1h-1zM267,316h1v1h-1zM267,312h1v1h-1zM267,308h1v1h-1zM268,304h1v1h-1zM270,300h1v1h-1zM272,297h1v1h-1zM274,294h1v1h-1zM277,291h1v1h-1zM280,288h1v1h-1zM284,286h1v1h-1zM287,285h1v1h-1zM291,283h1v1h-1zM295,283h1v1h-1zM299,283h1v1h-1zM303,283h1v1h-1zM307,284h1v1h-1zM311,285h1v1h-1zM314,287h1v1h-1zM318,290h1v1h-1zM320,292h1v1h-1zM323,295h1v1h-1zM325,299h1v1h-1zM327,302h1v1h-1zM328,306h1v1h-1zM329,310h1v1h-1zM361,314h1v1h-1zM360,318h1v1h-1zM360,322h1v1h-1zM359,326h1v1h-1zM359,330h1v1h-1zM357,334h1v1h-1zM356,337h1v1h-1zM354,341h1v1h-1zM353,345h1v1h-1zM350,348h1v1h-1zM348,351h1v1h-1zM346,355h1v1h-1zM343,358h1v1h-1zM340,360h1v1h-1zM337,363h1v1h-1zM334,365h1v1h-1zM330,368h1v1h-1zM327,370h1v1h-1zM323,371h1v1h-1zM320,373h1v1h-1zM316,374h1v1h-1zM312,375h1v1h-1zM308,376h1v1h-1zM304,376h1v1h-1zM300,377h1v1h-1zM296,377h1v1h-1zM292,376h1v1h-1zM288,376h1v1h-1zM284,375h1v1h-1zM280,374h1v1h-1zM276,373h1v1h-1zM273,371h1v1h-1zM269,370h1v1h-1zM266,368h1v1h-1zM262,365h1v1h-1zM259,363h1v1h-1zM256,360h1v1h-1zM253,358h1v1h-1zM250,355h1v1h-1zM248,351h1v1h-1zM246,348h1v1h-1zM243,345h1v1h-1zM242,341h1v1h-1zM240,337h1v1h-1zM239,334h1v1h-1zM237,330h1v1h-1zM237,326h1v1h-1zM236,322h1v1h-1zM236,318h1v1h-1zM235,314h1v1h-1zM236,310h1v1h-1zM236,306h1v1h-1zM237,302h1v1h-1zM237,298h1v1h-1zM239,294h1v1h-1zM240,291h1v1h-1zM242,287h1v1h-1zM243,283h1v1h-1zM246,280h1v1h-1zM248,277h1v1h-1zM250,273h1v1h-1zM253,270h1v1h-1zM256,268h1v1h-1zM259,265h1v1h-1zM262,263h1v1h-1zM266,260h1v1h-1zM269,258h1v1h-1zM273,257h1v1h-1zM276,255h1v1h-1zM280,254h1v1h-1zM284,253h1v1h-1zM288,252h1v1h-1zM292,252h1v1h-1zM296,251h1v1h-1zM300,251h1v1h-1zM304,252h1v1h-1zM308,252h1v1h-1zM312,253h1v1h-1zM316,254h1v1h-1zM320,255h1v1h-1zM323,257h1v1h-1zM327,258h1v1h-1zM330,260h1v1h-1zM334,263h1v1h-1zM337,265h1v1h-1zM340,268h1v1h-1zM343,270h1v1h-1zM346,273h1v1h-1zM348,277h1v1h-1zM350,280h1v1h-1zM353,283h1v1h-1zM354,287h1v1h-1zM356,291h1v1h-1zM357,294h1v1h-1zM359,298h1v1h-1zM359,302h1v1h-1zM360,306h1v1h-1zM360,310h1v1h-1zM392,314h1v1h-1zM392,318h1v1h-1zM392,322h1v1h-1zM391,326h1v1h-1zM391,330h1v1h-1zM390,334h1v1h-1zM389,338h1v1h-1zM388,342h1v1h-1zM386,345h1v1h-1zM385,349h1v1h-1zM383,353h1v1h-1zM382,357h1v1h-1zM380,360h1v1h-1zM378,364h1v1h-1zM376,367h1v1h-1zM373,370h1v1h-1zM371,373h1v1h-1zM368,376h1v1h-1zM365,379h1v1h-1zM363,382h1v1h-1zM360,385h1v1h-1zM357,387h1v1h-1zM353,390h1v1h-1zM350,392h1v1h-1zM347,394h1v1h-1zM343,396h1v1h-1zM340,398h1v1h-1zM336,400h1v1h-1zM332,401h1v1h-1zM329,403h1v1h-1zM325,404h1v1h-1zM321,405h1v1h-1zM317,406h1v1h-1zM313,407h1v1h-1zM309,407h1v1h-1zM305,408h1v1h-1zM301,408h1v1h-1zM297,408h1v1h-1zM293,408h1v1h-1zM289,407h1v1h-1zM285,407h1v1h-1zM281,406h1v1h-1zM277,406h1v1h-1zM273,405h1v1h-1zM269,403h1v1h-1zM266,402h1v1h-1zM262,401h1v1h-1zM258,399h1v1h-1zM255,397h1v1h-1zM251,395h1v1h-1zM248,393h1v1h-1zM244,391h1v1h-1zM241,389h1v1h-1zM238,386h1v1h-1zM235,384h1v1h-1zM232,381h1v1h-1zM229,378h1v1h-1zM227,375h1v1h-1zM224,372h1v1h-1zM222,369h1v1h-1zM219,365h1v1h-1zM217,362h1v1h-1zM215,358h1v1h-1zM213,355h1v1h-1zM212,351h1v1h-1zM210,347h1v1h-1zM209,344h1v1h-1zM208,340h1v1h-1zM207,336h1v1h-1zM206,332h1v1h-1zM205,328h1v1h-1zM205,324h1v1h-1zM204,320h1v1h-1zM204,316h1v1h-1zM204,312h1v1h-1zM204,308h1v1h-1zM205,304h1v1h-1zM205,300h1v1h-1zM206,296h1v1h-1zM207,292h1v1h-1zM208,288h1v1h-1zM209,284h1v1h-1zM210,281h1v1h-1zM212,277h1v1h-1zM213,273h1v1h-1zM215,270h1v1h-1zM217,266h1v1h-1zM219,263h1v1h-1zM222,259h1v1h-1zM224,256h1v1h-1zM227,253h1v1h-1zM229,250h1v1h-1zM232,247h1v1h-1zM235,244h1v1h-1zM238,242h1v1h-1zM241,239h1v1h-1zM244,237h1v1h-1zM248,235h1v1h-1zM251,233h1v1h-1zM255,231h1v1h-1zM258,229h1v1h-1zM262,227h1v1h-1zM266,226h1v1h-1zM269,225h1v1h-1zM273,223h1v1h-1zM277,222h1v1h-1zM281,222h1v1h-1zM285,221h1v1h-1zM289,221h1v1h-1zM293,220h1v1h-1zM297,220h1v1h-1zM301,220h1v1h-1zM305,220h1v1h-1zM309,221h1v1h-1zM313,221h1v1h-1zM317,222h1v1h-1zM321,223h1v1h-1zM325,224h1v1h-1zM329,225h1v1h-1zM332,227h1v1h-1zM336,228h1v1h-1zM340,230h1v1h-1zM343,232h1v1h-1zM347,234h1v1h-1zM350,236h1v1h-1zM353,238h1v1h-1zM357,241h1v1h-1zM360,243h1v1h-1zM363,246h1v1h-1zM365,249h1v1h-1zM368,252h1v1h-1zM371,255h1v1h-1zM373,258h1v1h-1zM376,261h1v1h-1zM378,264h1v1h-1zM380,268h1v1h-1zM382,271h1v1h-1zM383,275h1v1h-1zM385,279h1v1h-1zM386,283h1v1h-1zM388,286h1v1h-1zM389,290h1v1h-1zM390,294h1v1h-1zM391,298h1v1h-1zM391,302h1v1h-1zM392,306h1v1h-1zM392,310h1v1h-1zM423,314h1v1h-1zM423,318h1v1h-1zM423,322h1v1h-1zM423,326h1v1h-1zM422,330h1v1h-1zM422,334h1v1h-1zM421,338h1v1h-1zM420,342h1v1h-1zM419,346h1v1h-1zM418,349h1v1h-1zM417,353h1v1h-1zM416,357h1v1h-1zM414,361h1v1h-1zM413,364h1v1h-1zM411,368h1v1h-1zM409,372h1v1h-1zM407,375h1v1h-1zM405,379h1v1h-1zM403,382h1v1h-1zM401,385h1v1h-1zM399,389h1v1h-1zM396,392h1v1h-1zM394,395h1v1h-1zM391,398h1v1h-1zM388,401h1v1h-1zM385,404h1v1h-1zM383,406h1v1h-1zM380,409h1v1h-1zM377,412h1v1h-1zM373,414h1v1h-1zM370,416h1v1h-1zM367,419h1v1h-1zM363,421h1v1h-1zM360,423h1v1h-1zM357,425h1v1h-1zM353,426h1v1h-1zM349,428h1v1h-1zM346,430h1v1h-1zM342,431h1v1h-1zM338,433h1v1h-1zM334,434h1v1h-1zM331,435h1v1h-1zM327,436h1v1h-1zM323,437h1v1h-1zM319,437h1v1h-1zM315,438h1v1h-1zM311,439h1v1h-1zM307,439h1v1h-1zM303,439h1v1h-1zM299,439h1v1h-1zM295,439h1v1h-1zM291,439h1v1h-1zM287,439h1v1h-1zM283,438h1v1h-1zM279,438h1v1h-1zM275,437h1v1h-1zM271,436h1v1h-1zM267,435h1v1h-1zM264,434h1v1h-1zM260,433h1v1h-1zM256,432h1v1h-1zM252,431h1v1h-1zM248,429h1v1h-1zM245,427h1v1h-1zM241,426h1v1h-1zM238,424h1v1h-1zM234,422h1v1h-1zM231,420h1v1h-1zM228,417h1v1h-1zM224,415h1v1h-1zM221,413h1v1h-1zM218,410h1v1h-1zM215,408h1v1h-1zM212,405h1v1h-1zM209,402h1v1h-1zM206,399h1v1h-1zM204,396h1v1h-1zM201,393h1v1h-1zM199,390h1v1h-1zM196,387h1v1h-1zM194,384h1v1h-1zM192,380h1v1h-1zM190,377h1v1h-1zM188,373h1v1h-1zM186,370h1v1h-1zM184,366h1v1h-1zM183,363h1v1h-1zM181,359h1v1h-1zM180,355h1v1h-1zM179,351h1v1h-1zM177,348h1v1h-1zM176,344h1v1h-1zM175,340h1v1h-1zM175,336h1v1h-1zM174,332h1v1h-1zM174,328h1v1h-1zM173,324h1v1h-1zM173,320h1v1h-1zM173,316h1v1h-1zM173,312h1v1h-1zM173,308h1v1h-1zM173,304h1v1h-1zM174,300h1v1h-1zM174,296h1v1h-1zM175,292h1v1h-1zM175,288h1v1h-1zM176,284h1v1h-1zM177,280h1v1h-1zM179,277h1v1h-1zM180,273h1v1h-1zM181,269h1v1h-1zM183,265h1v1h-1zM184,262h1v1h-1zM186,258h1v1h-1zM188,255h1v1h-1zM190,251h1v1h-1zM192,248h1v1h-1zM194,244h1v1h-1zM196,241h1v1h-1zM199,238h1v1h-1zM201,235h1v1h-1zM204,232h1v1h-1zM206,229h1v1h-1zM209,226h1v1h-1zM212,223h1v1h-1zM215,220h1v1h-1zM218,218h1v1h-1zM221,215h1v1h-1zM224,213h1v1h-1zM228,211h1v1h-1zM231,208h1v1h-1zM234,206h1v1h-1zM238,204h1v1h-1zM241,202h1v1h-1zM245,201h1v1h-1zM248,199h1v1h-1zM252,197h1v1h-1zM256,196h1v1h-1zM260,195h1v1h-1zM264,194h1v1h-1zM267,193h1v1h-1zM271,192h1v1h-1zM275,191h1v1h-1zM279,190h1v1h-1zM283,190h1v1h-1zM287,189h1v1h-1zM291,189h1v1h-1zM295,189h1v1h-1zM299,189h1v1h-1zM303,189h1v1h-1zM307,189h1v1h-1zM311,189h1v1h-1zM315,190h1v1h-1zM319,191h1v1h-1zM323,191h1v1h-1zM327,192h1v1h-1zM331,193h1v1h-1zM334,194h1v1h-1zM338,195h1v1h-1zM342,197h1v1h-1zM346,198h1v1h-1zM349,200h1v1h-1zM353,202h1v1h-1zM357,203h1v1h-1zM360,205h1v1h-1zM363,207h1v1h-1zM367,209h1v1h-1zM370,212h1v1h-1zM373,214h1v1h-1zM377,216h1v1h-1zM380,219h1v1h-1zM383,222h1v1h-1zM385,224h1v1h-1zM388,227h1v1h-1zM391,230h1v1h-1zM394,233h1v1h-1zM396,236h1v1h-1zM399,239h1v1h-1zM401,243h1v1h-1zM403,246h1v1h-1zM405,249h1v1h-1zM407,253h1v1h-1zM409,256h1v1h-1zM411,260h1v1h-1zM413,264h1v1h-1zM414,267h1v1h-1zM416,271h1v1h-1zM417,275h1v1h-1zM418,279h1v1h-1zM419,282h1v1h-1zM420,286h1v1h-1zM421,290h1v1h-1zM422,294h1v1h-1zM422,298h1v1h-1zM423,302h1v1h-1zM423,306h1v1h-1zM423,310h1v1h-1zM455,314h1v1h-1zM454,318h1v1h-1zM454,322h1v1h-1zM454,326h1v1h-1zM454,330h1v1h-1zM453,334h1v1h-1zM453,338h1v1h-1zM452,342h1v1h-1zM451,346h1v1h-1zM450,350h1v1h-1zM449,354h1v1h-1zM448,357h1v1h-1zM447,361h1v1h-1zM446,365h1v1h-1zM445,369h1v1h-1zM443,373h1v1h-1zM442,376h1v1h-1zM440,380h1v1h-1zM438,383h1v1h-1zM436,387h1v1h-1zM435,391h1v1h-1zM433,394h1v1h-1zM430,397h1v1h-1zM428,401h1v1h-1zM426,404h1v1h-1zM424,407h1v1h-1zM421,410h1v1h-1zM419,414h1v1h-1zM416,417h1v1h-1zM413,420h1v1h-1zM411,423h1v1h-1zM408,425h1v1h-1zM405,428h1v1h-1zM402,431h1v1h-1zM399,433h1v1h-1zM396,436h1v1h-1zM393,438h1v1h-1zM390,441h1v1h-1zM386,443h1v1h-1zM383,445h1v1h-1zM380,447h1v1h-1zM376,450h1v1h-1zM373,451h1v1h-1zM369,453h1v1h-1zM366,455h1v1h-1zM362,457h1v1h-1zM358,458h1v1h-1zM355,460h1v1h-1zM351,461h1v1h-1zM347,463h1v1h-1zM343,464h1v1h-1zM339,465h1v1h-1zM336,466h1v1h-1zM332,467h1v1h-1zM328,468h1v1h-1zM324,468h1v1h-1zM320,469h1v1h-1zM316,469h1v1h-1zM312,470h1v1h-1zM308,470h1v1h-1zM304,470h1v1h-1zM300,470h1v1h-1zM296,470h1v1h-1zM292,470h1v1h-1zM288,470h1v1h-1zM284,470h1v1h-1zM280,469h1v1h-1zM276,469h1v1h-1zM272,468h1v1h-1zM268,468h1v1h-1zM264,467h1v1h-1zM260,466h1v1h-1zM257,465h1v1h-1zM253,464h1v1h-1zM249,463h1v1h-1zM245,461h1v1h-1zM241,460h1v1h-1zM238,458h1v1h-1zM234,457h1v1h-1zM230,455h1v1h-1zM227,453h1v1h-1zM223,451h1v1h-1zM220,450h1v1h-1zM216,447h1v1h-1zM213,445h1v1h-1zM210,443h1v1h-1zM206,441h1v1h-1zM203,438h1v1h-1zM200,436h1v1h-1zM197,433h1v1h-1zM194,431h1v1h-1zM191,428h1v1h-1zM188,425h1v1h-1zM185,423h1v1h-1zM183,420h1v1h-1zM180,417h1v1h-1zM177,414h1v1h-1zM175,410h1v1h-1zM172,407h1v1h-1zM170,404h1v1h-1zM168,401h1v1h-1zM166,397h1v1h-1zM163,394h1v1h-1zM161,391h1v1h-1zM160,387h1v1h-1zM158,383h1v1h-1zM156,380h1v1h-1zM154,376h1v1h-1zM153,373h1v1h-1zM151,369h1v1h-1zM150,365h1v1h-1zM149,361h1v1h-1zM148,357h1v1h-1zM147,354h1v1h-1zM146,350h1v1h-1zM145,346h1v1h-1zM144,342h1v1h-1zM143,338h1v1h-1zM143,334h1v1h-1zM142,330h1v1h-1zM142,326h1v1h-1zM142,322h1v1h-1zM142,318h1v1h-1zM142,314h1v1h-1zM142,310h1v1h-1zM142,306h1v1h-1zM142,302h1v1h-1zM142,298h1v1h-1zM143,294h1v1h-1zM143,290h1v1h-1zM144,286h1v1h-1zM145,282h1v1h-1zM146,278h1v1h-1zM147,274h1v1h-1zM148,271h1v1h-1zM149,267h1v1h-1zM150,263h1v1h-1zM151,259h1v1h-1zM153,255h1v1h-1zM154,252h1v1h-1zM156,248h1v1h-1zM158,245h1v1h-1zM160,241h1v1h-1zM161,237h1v1h-1zM163,234h1v1h-1zM166,231h1v1h-1zM168,227h1v1h-1zM170,224h1v1h-1zM172,221h1v1h-1zM175,218h1v1h-1zM177,214h1v1h-1zM180,211h1v1h-1zM183,208h1v1h-1zM185,205h1v1h-1zM188,203h1v1h-1zM191,200h1v1h-1zM194,197h1v1h-1zM197,195h1v1h-1zM200,192h1v1h-1zM203,190h1v1h-1zM206,187h1v1h-1zM210,185h1v1h-1zM213,183h1v1h-1zM216,181h1v1h-1zM220,178h1v1h-1zM223,177h1v1h-1zM227,175h1v1h-1zM230,173h1v1h-1zM234,171h1v1h-1zM238,170h1v1h-1zM241,168h1v1h-1zM245,167h1v1h-1zM249,165h1v1h-1zM253,164h1v1h-1zM257,163h1v1h-1zM260,162h1v1h-1zM264,161h1v1h-1zM268,160h1v1h-1zM272,160h1v1h-1zM276,159h1v1h-1zM280,159h1v1h-1zM284,158h1v1h-1zM288,158h1v1h-1zM292,158h1v1h-1zM296,158h1v1h-1zM300,158h1v1h-1zM304,158h1v1h-1zM308,158h1v1h-1zM312,158h1v1h-1zM316,159h1v1h-1zM320,159h1v1h-1zM324,160h1v1h-1zM328,160h1v1h-1zM332,161h1v1h-1zM336,162h1v1h-1zM339,163h1v1h-1zM343,164h1v1h-1zM347,165h1v1h-1zM351,167h1v1h-1zM355,168h1v1h-1zM358,170h1v1h-1zM362,171h1v1h-1zM366,173h1v1h-1zM369,175h1v1h-1zM373,177h1v1h-1zM376,178h1v1h-1zM380,181h1v1h-1zM383,183h1v1h-1zM386,185h1v1h-1zM390,187h1v1h-1zM393,190h1v1h-1zM396,192h1v1h-1zM399,195h1v1h-1zM402,197h1v1h-1zM405,200h1v1h-1zM408,203h1v1h-1zM411,205h1v1h-1zM413,208h1v1h-1zM416,211h1v1h-1zM419,214h1v1h-1zM421,218h1v1h-1zM424,221h1v1h-1zM426,224h1v1h-1zM428,227h1v1h-1zM430,231h1v1h-1zM433,234h1v1h-1zM435,237h1v1h-1zM436,241h1v1h-1zM438,245h1v1h-1zM440,248h1v1h-1zM442,252h1v1h-1zM443,255h1v1h-1zM445,259h1v1h-1zM446,263h1v1h-1zM447,267h1v1h-1zM448,271h1v1h-1zM449,274h1v1h-1zM450,278h1v1h-1zM451,282h1v1h-1zM452,286h1v1h-1zM453,290h1v1h-1zM453,294h1v1h-1zM454,298h1v1h-1zM454,302h1v1h-1zM454,306h1v1h-1zM454,310h1v1h-1zM486,314h1v1h-1zM486,318h1v1h-1zM486,322h1v1h-1zM485,326h1v1h-1zM485,330h1v1h-1zM485,334h1v1h-1zM484,338h1v1h-1zM484,342h1v1h-1zM483,346h1v1h-1zM482,350h1v1h-1zM482,354h1v1h-1zM481,358h1v1h-1zM480,361h1v1h-1zM479,365h1v1h-1zM478,369h1v1h-1zM476,373h1v1h-1zM475,377h1v1h-1zM474,381h1v1h-1zM472,384h1v1h-1zM471,388h1v1h-1zM469,392h1v1h-1zM467,395h1v1h-1zM466,399h1v1h-1zM464,402h1v1h-1zM462,406h1v1h-1zM460,409h1v1h-1zM458,413h1v1h-1zM456,416h1v1h-1zM453,419h1v1h-1zM451,423h1v1h-1zM449,426h1v1h-1zM446,429h1v1h-1zM444,432h1v1h-1zM441,435h1v1h-1zM439,438h1v1h-1zM436,441h1v1h-1zM433,444h1v1h-1zM430,447h1v1h-1zM428,450h1v1h-1zM425,453h1v1h-1zM422,455h1v1h-1zM419,458h1v1h-1zM416,460h1v1h-1zM412,463h1v1h-1zM409,465h1v1h-1zM406,468h1v1h-1zM403,470h1v1h-1zM399,472h1v1h-1zM396,474h1v1h-1zM392,476h1v1h-1zM389,478h1v1h-1zM385,480h1v1h-1zM382,482h1v1h-1zM378,484h1v1h-1zM375,485h1v1h-1zM371,487h1v1h-1zM367,489h1v1h-1zM364,490h1v1h-1zM360,491h1v1h-1zM356,493h1v1h-1zM352,494h1v1h-1zM348,495h1v1h-1zM345,496h1v1h-1zM341,497h1v1h-1zM337,498h1v1h-1zM333,499h1v1h-1zM329,499h1v1h-1zM325,500h1v1h-1zM321,500h1v1h-1zM317,501h1v1h-1zM313,501h1v1h-1zM309,501h1v1h-1zM305,502h1v1h-1zM301,502h1v1h-1zM297,502h1v1h-1zM293,502h1v1h-1zM289,502h1v1h-1zM285,501h1v1h-1zM281,501h1v1h-1zM277,501h1v1h-1zM273,500h1v1h-1zM269,500h1v1h-1zM265,499h1v1h-1zM261,498h1v1h-1zM257,497h1v1h-1zM253,496h1v1h-1zM250,495h1v1h-1zM246,494h1v1h-1zM242,493h1v1h-1zM238,492h1v1h-1zM234,491h1v1h-1zM231,489h1v1h-1zM227,488h1v1h-1zM223,486h1v1h-1zM219,485h1v1h-1zM216,483h1v1h-1zM212,481h1v1h-1zM209,479h1v1h-1zM205,477h1v1h-1zM202,475h1v1h-1zM198,473h1v1h-1zM195,471h1v1h-1zM192,469h1v1h-1zM188,467h1v1h-1zM185,464h1v1h-1zM182,462h1v1h-1zM179,459h1v1h-1zM176,457h1v1h-1zM173,454h1v1h-1zM170,451h1v1h-1zM167,449h1v1h-1zM164,446h1v1h-1zM161,443h1v1h-1zM159,440h1v1h-1zM156,437h1v1h-1zM153,434h1v1h-1zM151,431h1v1h-1zM148,428h1v1h-1zM146,424h1v1h-1zM144,421h1v1h-1zM142,418h1v1h-1zM139,414h1v1h-1zM137,411h1v1h-1zM135,408h1v1h-1zM133,404h1v1h-1zM131,401h1v1h-1zM130,397h1v1h-1zM128,393h1v1h-1zM126,390h1v1h-1zM125,386h1v1h-1zM123,382h1v1h-1zM122,379h1v1h-1zM120,375h1v1h-1zM119,371h1v1h-1zM118,367h1v1h-1zM117,363h1v1h-1zM116,360h1v1h-1zM115,356h1v1h-1zM114,352h1v1h-1zM113,348h1v1h-1zM113,344h1v1h-1zM112,340h1v1h-1zM111,336h1v1h-1zM111,332h1v1h-1zM111,328h1v1h-1zM110,324h1v1h-1zM110,320h1v1h-1zM110,316h1v1h-1zM110,312h1v1h-1zM110,308h1v1h-1zM110,304h1v1h-1zM111,300h1v1h-1zM111,296h1v1h-1zM111,292h1v1h-1zM112,288h1v1h-1zM113,284h1v1h-1zM113,280h1v1h-1zM114,276h1v1h-1zM115,272h1v1h-1zM116,268h1v1h-1zM117,265h1v1h-1zM118,261h1v1h-1zM119,257h1v1h-1zM120,253h1v1h-1zM122,249h1v1h-1zM123,246h1v1h-1zM125,242h1v1h-1zM126,238h1v1h-1zM128,235h1v1h-1zM130,231h1v1h-1zM131,227h1v1h-1zM133,224h1v1h-1zM135,220h1v1h-1zM137,217h1v1h-1zM139,214h1v1h-1zM142,210h1v1h-1zM144,207h1v1h-1zM146,204h1v1h-1zM148,200h1v1h-1zM151,197h1v1h-1zM153,194h1v1h-1zM156,191h1v1h-1zM159,188h1v1h-1zM161,185h1v1h-1zM164,182h1v1h-1zM167,179h1v1h-1zM170,177h1v1h-1zM173,174h1v1h-1zM176,171h1v1h-1zM179,169h1v1h-1zM182,166h1v1h-1zM185,164h1v1h-1zM188,161h1v1h-1zM192,159h1v1h-1zM195,157h1v1h-1zM198,155h1v1h-1zM202,153h1v1h-1zM205,151h1v1h-1zM209,149h1v1h-1zM212,147h1v1h-1zM216,145h1v1h-1zM219,143h1v1h-1zM223,142h1v1h-1zM227,140h1v1h-1zM231,139h1v1h-1zM234,137h1v1h-1zM238,136h1v1h-1zM242,135h1v1h-1zM246,134h1v1h-1zM250,133h1v1h-1zM253,132h1v1h-1zM257,131h1v1h-1zM261,130h1v1h-1zM265,129h1v1h-1zM269,128h1v1h-1zM273,128h1v1h-1zM277,127h1v1h-1zM281,127h1v1h-1zM285,127h1v1h-1zM289,126h1v1h-1zM293,126h1v1h-1zM297,126h1v1h-1zM301,126h1v1h-1zM305,126h1v1h-1zM309,127h1v1h-1zM313,127h1v1h-1zM317,127h1v1h-1zM321,128h1v1h-1zM325,128h1v1h-1zM329,129h1v1h-1zM333,129h1v1h-1zM337,130h1v1h-1zM341,131h1v1h-1zM345,132h1v1h-1zM348,133h1v1h-1zM352,134h1v1h-1zM356,135h1v1h-1zM360,137h1v1h-1zM364,138h1v1h-1zM367,139h1v1h-1zM371,141h1v1h-1zM375,143h1v1h-1zM378,144h1v1h-1zM382,146h1v1h-1zM385,148h1v1h-1zM389,150h1v1h-1zM392,152h1v1h-1zM396,154h1v1h-1zM399,156h1v1h-1zM403,158h1v1h-1zM406,160h1v1h-1zM409,163h1v1h-1zM412,165h1v1h-1zM416,168h1v1h-1zM419,170h1v1h-1zM422,173h1v1h-1zM425,175h1v1h-1zM428,178h1v1h-1zM430,181h1v1h-1zM433,184h1v1h-1zM436,187h1v1h-1zM439,190h1v1h-1zM441,193h1v1h-1zM444,196h1v1h-1zM446,199h1v1h-1zM449,202h1v1h-1zM451,205h1v1h-1zM453,209h1v1h-1zM456,212h1v1h-1zM458,215h1v1h-1zM460,219h1v1h-1zM462,222h1v1h-1zM464,226h1v1h-1zM466,229h1v1h-1zM467,233h1v1h-1zM469,236h1v1h-1zM471,240h1v1h-1zM472,244h1v1h-1zM474,247h1v1h-1zM475,251h1v1h-1zM476,255h1v1h-1zM478,259h1v1h-1zM479,263h1v1h-1zM480,267h1v1h-1zM481,270h1v1h-1zM482,274h1v1h-1zM482,278h1v1h-1zM483,282h1v1h-1zM484,286h1v1h-1zM484,290h1v1h-1zM485,294h1v1h-1zM485,298h1v1h-1zM485,302h1v1h-1zM486,306h1v1h-1zM486,310h1v1h-1zM517,314h1v1h-1zM517,318h1v1h-1zM517,322h1v1h-1zM517,326h1v1h-1zM517,330h1v1h-1zM516,334h1v1h-1zM516,338h1v1h-1zM515,342h1v1h-1zM515,346h1v1h-1zM514,350h1v1h-1zM513,354h1v1h-1zM513,358h1v1h-1zM512,362h1v1h-1zM511,366h1v1h-1zM510,369h1v1h-1zM509,373h1v1h-1zM508,377h1v1h-1zM507,381h1v1h-1zM505,385h1v1h-1zM504,389h1v1h-1zM503,392h1v1h-1zM501,396h1v1h-1zM500,400h1v1h-1zM498,403h1v1h-1zM496,407h1v1h-1zM495,411h1v1h-1zM493,414h1v1h-1zM491,418h1v1h-1zM489,421h1v1h-1zM487,425h1v1h-1zM485,428h1v1h-1zM483,432h1v1h-1zM481,435h1v1h-1zM478,438h1v1h-1zM476,441h1v1h-1zM474,445h1v1h-1zM471,448h1v1h-1zM469,451h1v1h-1zM466,454h1v1h-1zM464,457h1v1h-1zM461,460h1v1h-1zM458,463h1v1h-1zM456,466h1v1h-1zM453,469h1v1h-1zM450,472h1v1h-1zM447,474h1v1h-1zM444,477h1v1h-1zM441,480h1v1h-1zM438,482h1v1h-1zM435,485h1v1h-1zM432,487h1v1h-1zM429,490h1v1h-1zM425,492h1v1h-1zM422,494h1v1h-1zM419,497h1v1h-1zM416,499h1v1h-1zM412,501h1v1h-1zM409,503h1v1h-1zM405,505h1v1h-1zM402,507h1v1h-1zM398,509h1v1h-1zM395,511h1v1h-1zM391,512h1v1h-1zM387,514h1v1h-1zM384,516h1v1h-1zM380,517h1v1h-1zM376,519h1v1h-1zM373,520h1v1h-1zM369,521h1v1h-1zM365,523h1v1h-1zM361,524h1v1h-1zM357,525h1v1h-1zM353,526h1v1h-1zM350,527h1v1h-1zM346,528h1v1h-1zM342,529h1v1h-1zM338,529h1v1h-1zM334,530h1v1h-1zM330,531h1v1h-1zM326,531h1v1h-1zM322,532h1v1h-1zM318,532h1v1h-1zM314,533h1v1h-1zM310,533h1v1h-1zM306,533h1v1h-1zM302,533h1v1h-1zM298,533h1v1h-1zM294,533h1v1h-1zM290,533h1v1h-1zM286,533h1v1h-1zM282,533h1v1h-1zM278,532h1v1h-1zM274,532h1v1h-1zM270,531h1v1h-1zM266,531h1v1h-1zM262,530h1v1h-1zM258,529h1v1h-1zM254,529h1v1h-1zM250,528h1v1h-1zM246,527h1v1h-1zM243,526h1v1h-1zM239,525h1v1h-1zM235,524h1v1h-1zM231,523h1v1h-1zM227,521h1v1h-1zM223,520h1v1h-1zM220,519h1v1h-1zM216,517h1v1h-1zM212,516h1v1h-1zM209,514h1v1h-1zM205,512h1v1h-1zM201,511h1v1h-1zM198,509h1v1h-1zM194,507h1v1h-1zM191,505h1v1h-1zM187,503h1v1h-1zM184,501h1v1h-1zM180,499h1v1h-1zM177,497h1v1h-1zM174,494h1v1h-1zM171,492h1v1h-1zM167,490h1v1h-1zM164,487h1v1h-1zM161,485h1v1h-1zM158,482h1v1h-1zM155,480h1v1h-1zM152,477h1v1h-1zM149,474h1v1h-1zM146,472h1v1h-1zM143,469h1v1h-1zM140,466h1v1h-1zM138,463h1v1h-1zM135,460h1v1h-1zM132,457h1v1h-1zM130,454h1v1h-1zM127,451h1v1h-1zM125,448h1v1h-1zM122,445h1v1h-1zM120,441h1v1h-1zM118,438h1v1h-1zM115,435h1v1h-1zM113,432h1v1h-1zM111,428h1v1h-1zM109,425h1v1h-1zM107,421h1v1h-1zM105,418h1v1h-1zM103,414h1v1h-1zM101,411h1v1h-1zM100,407h1v1h-1zM98,403h1v1h-1zM96,400h1v1h-1zM95,396h1v1h-1zM93,392h1v1h-1zM92,389h1v1h-1zM91,385h1v1h-1zM89,381h1v1h-1zM88,377h1v1h-1zM87,373h1v1h-1zM86,369h1v1h-1zM85,366h1v1h-1zM84,362h1v1h-1zM83,358h1v1h-1zM83,354h1v1h-1zM82,350h1v1h-1zM81,346h1v1h-1zM81,342h1v1h-1zM80,338h1v1h-1zM80,334h1v1h-1zM79,330h1v1h-1zM79,326h1v1h-1zM79,322h1v1h-1zM79,318h1v1h-1zM79,314h1v1h-1zM79,310h1v1h-1zM79,306h1v1h-1zM79,302h1v1h-1zM79,298h1v1h-1zM80,294h1v1h-1zM80,290h1v1h-1zM81,286h1v1h-1zM81,282h1v1h-1zM82,278h1v1h-1zM83,274h1v1h-1zM83,270h1v1h-1zM84,266h1v1h-1zM85,262h1v1h-1zM86,259h1v1h-1zM87,255h1v1h-1zM88,251h1v1h-1zM89,247h1v1h-1zM91,243h1v1h-1zM92,239h1v1h-1zM93,236h1v1h-1zM95,232h1v1h-1zM96,228h1v1h-1zM98,225h1v1h-1zM100,221h1v1h-1zM101,217h1v1h-1zM103,214h1v1h-1zM105,210h1v1h-1zM107,207h1v1h-1zM109,203h1v1h-1zM111,200h1v1h-1zM113,196h1v1h-1zM115,193h1v1h-1zM118,190h1v1h-1zM120,187h1v1h-1zM122,183h1v1h-1zM125,180h1v1h-1zM127,177h1v1h-1zM130,174h1v1h-1zM132,171h1v1h-1zM135,168h1v1h-1zM138,165h1v1h-1zM140,162h1v1h-1zM143,159h1v1h-1zM146,156h1v1h-1zM149,154h1v1h-1zM152,151h1v1h-1zM155,148h1v1h-1zM158,146h1v1h-1zM161,143h1v1h-1zM164,141h1v1h-1zM167,138h1v1h-1zM171,136h1v1h-1zM174,134h1v1h-1zM177,131h1v1h-1zM180,129h1v1h-1zM184,127h1v1h-1zM187,125h1v1h-1zM191,123h1v1h-1zM194,121h1v1h-1zM198,119h1v1h-1zM201,117h1v1h-1zM205,116h1v1h-1zM209,114h1v1h-1zM212,112h1v1h-1zM216,111h1v1h-1zM220,109h1v1h-1zM223,108h1v1h-1zM227,107h1v1h-1zM231,105h1v1h-1zM235,104h1v1h-1zM239,103h1v1h-1zM243,102h1v1h-1zM246,101h1v1h-1zM250,100h1v1h-1zM254,99h1v1h-1zM258,99h1v1h-1zM262,98h1v1h-1zM266,97h1v1h-1zM270,97h1v1h-1zM274,96h1v1h-1zM278,96h1v1h-1zM282,95h1v1h-1zM286,95h1v1h-1zM290,95h1v1h-1zM294,95h1v1h-1zM298,95h1v1h-1zM302,95h1v1h-1zM306,95h1v1h-1zM310,95h1v1h-1zM314,95h1v1h-1zM318,96h1v1h-1zM322,96h1v1h-1zM326,97h1v1h-1zM330,97h1v1h-1zM334,98h1v1h-1zM338,99h1v1h-1zM342,99h1v1h-1zM346,100h1v1h-1zM350,101h1v1h-1zM353,102h1v1h-1zM357,103h1v1h-1zM361,104h1v1h-1zM365,105h1v1h-1zM369,107h1v1h-1zM373,108h1v1h-1zM376,109h1v1h-1zM380,111h1v1h-1zM384,112h1v1h-1zM387,114h1v1h-1zM391,116h1v1h-1zM395,117h1v1h-1zM398,119h1v1h-1zM402,121h1v1h-1zM405,123h1v1h-1zM409,125h1v1h-1zM412,127h1v1h-1zM416,129h1v1h-1zM419,131h1v1h-1zM422,134h1v1h-1zM425,136h1v1h-1zM429,138h1v1h-1zM432,141h1v1h-1zM435,143h1v1h-1zM438,146h1v1h-1zM441,148h1v1h-1zM444,151h1v1h-1zM447,154h1v1h-1zM450,156h1v1h-1zM453,159h1v1h-1zM456,162h1v1h-1zM458,165h1v1h-1zM461,168h1v1h-1zM464,171h1v1h-1zM466,174h1v1h-1zM469,177h1v1h-1zM471,180h1v1h-1zM474,183h1v1h-1zM476,187h1v1h-1zM478,190h1v1h-1zM481,193h1v1h-1zM483,196h1v1h-1zM485,200h1v1h-1zM487,203h1v1h-1zM489,207h1v1h-1zM491,210h1v1h-1zM493,214h1v1h-1zM495,217h1v1h-1zM496,221h1v1h-1zM498,225h1v1h-1zM500,228h1v1h-1zM501,232h1v1h-1zM503,236h1v1h-1zM504,239h1v1h-1zM505,243h1v1h-1zM507,247h1v1h-1zM508,251h1v1h-1zM509,255h1v1h-1zM510,259h1v1h-1zM511,262h1v1h-1zM512,266h1v1h-1zM513,270h1v1h-1zM513,274h1v1h-1zM514,278h1v1h-1zM515,282h1v1h-1zM515,286h1v1h-1zM516,290h1v1h-1zM516,294h1v1h-1zM517,298h1v1h-1zM517,302h1v1h-1zM517,306h1v1h-1zM517,310h1v1h-1z" fill="#666666" fill-opacity="0.35" shape-rendering="crispEdges"/><text x="299" y="56.8" text-anchor="middle" font-family="Liberation Mono, monospace" font-weight="bold" font-size="12" fill="#000">North</text><text x="299" y="577.8" text-anchor="middle" font-family="Liberation Mono, monospace" font-weight="bold" font-size="12" fill="#000">South</text><text x="16" y="317.8" font-family="Liberation Mono, monospace" font-weight="bold" font-size="12" fill="#000">West</text><text x="552.5" y="317.8" font-family="Liberation Mono, monospace" font-weight="bold" font-size="12" fill="#000">East</text><text x="594.3" y="71.0" font-family="Liberation Mono, monospace" font-size="11.67" fill="#000" xml:space="preserve" transform="matrix(1,0,0,1.06,0,-4.26)">Num of Sources          3726</text><text x="594.3" y="85.0" font-family="Liberation Mono, monospace" font-size="11.67" fill="#000" xml:space="preserve" transform="matrix(1,0,0,1.06,0,-5.10)">Min Freq, kHz           2000</text><text x="594.3" y="99.0" font-family="Liberation Mono, monospace" font-size="11.67" fill="#000" xml:space="preserve" transform="matrix(1,0,0,1.06,0,-5.94)">Max Freq, kHz           2350</text><text x="594.3" y="113.0" font-family="Liberation Mono, monospace" font-size="11.67" fill="#000" xml:space="preserve" transform="matrix(1,0,0,1.06,0,-6.78)">Min Range, km            240</text><text x="594.3" y="127.0" font-family="Liberation Mono, monospace" font-size="11.67" fill="#000" xml:space="preserve" transform="matrix(1,0,0,1.06,0,-7.62)">Max Range, km            537</text><text x="594.3" y="141.0" font-family="Liberation Mono, monospace" font-size="11.67" fill="#000" xml:space="preserve" transform="matrix(1,0,0,1.06,0,-8.46)">Max Amp, dB               52</text><text x="594.3" y="155.0" font-family="Liberation Mono, monospace" font-size="11.67" fill="#000" xml:space="preserve" transform="matrix(1,0,0,1.06,0,-9.30)">Max SNR Amp, dB           52</text><text x="594.3" y="169.0" font-family="Liberation Mono, monospace" font-size="11.67" fill="#000" xml:space="preserve" transform="matrix(1,0,0,1.06,0,-10.14)">Min SNR Amp, dB           12</text><text x="594.3" y="183.0" font-family="Liberation Mono, monospace" font-size="11.67" fill="#000" xml:space="preserve" transform="matrix(1,0,0,1.06,0,-10.98)">Avg SNR Amp, dB           24</text><text x="594.3" y="197.0" font-family="Liberation Mono, monospace" font-size="11.67" fill="#000" xml:space="preserve" transform="matrix(1,0,0,1.06,0,-11.82)">Max RMS Err, deg        24.0</text><text x="594.3" y="211.0" font-family="Liberation Mono, monospace" font-size="11.67" fill="#000" xml:space="preserve" transform="matrix(1,0,0,1.06,0,-12.66)">Min RMS Err, deg         0.0</text><text x="594.3" y="225.0" font-family="Liberation Mono, monospace" font-size="11.67" fill="#000" xml:space="preserve" transform="matrix(1,0,0,1.06,0,-13.50)">Avg RMS Err, deg         2.9</text><text x="594.3" y="239.0" font-family="Liberation Mono, monospace" font-size="11.67" fill="#000" xml:space="preserve" transform="matrix(1,0,0,1.06,0,-14.34)">Doppler Res, Hz       0.0488</text><text x="594.3" y="253.0" font-family="Liberation Mono, monospace" font-size="11.67" fill="#000" xml:space="preserve" transform="matrix(1,0,0,1.06,0,-15.18)">CIT, sec               20.48</text><text x="594.3" y="267.0" font-family="Liberation Mono, monospace" font-size="11.67" fill="#000" xml:space="preserve" transform="matrix(1,0,0,1.06,0,-16.02)">Num of CITs                6</text><text x="594.3" y="281.0" font-family="Liberation Mono, monospace" font-size="11.67" fill="#000" xml:space="preserve" transform="matrix(1,0,0,1.06,0,-16.86)">Polarization          O-mode</text><text x="594.3" y="295.0" font-family="Liberation Mono, monospace" font-size="11.67" fill="#000" xml:space="preserve" transform="matrix(1,0,0,1.06,0,-17.70)">Center of Sources, deg:</text><text x="594.3" y="309.0" font-family="Liberation Mono, monospace" font-size="11.67" fill="#000" xml:space="preserve" transform="matrix(1,0,0,1.06,0,-18.54)">          Zenith         4.7</text><text x="594.3" y="323.0" font-family="Liberation Mono, monospace" font-size="11.67" fill="#000" xml:space="preserve" transform="matrix(1,0,0,1.06,0,-19.38)">          Azimuth        206</text><path d="M720.8,320 q1,-0.2 1.8,-1.5 q1,-1.3 2.2,-0.8 q0.8,0.4 0.6,1.6" stroke="#000" stroke-width="1.1" fill="none"/><defs><linearGradient id="cb" x1="0" y1="0" x2="0" y2="1"><stop offset="0" stop-color="#0000c0"/><stop offset="0.05" stop-color="#0000ff"/><stop offset="0.18" stop-color="#0050ff"/><stop offset="0.26" stop-color="#0090ff"/><stop offset="0.34" stop-color="#00ffff"/><stop offset="0.5" stop-color="#80ff80"/><stop offset="0.58" stop-color="#c0ff40"/><stop offset="0.66" stop-color="#ffff00"/><stop offset="0.74" stop-color="#ffa000"/><stop offset="0.82" stop-color="#ff6000"/><stop offset="0.9" stop-color="#ff1000"/><stop offset="0.95" stop-color="#ff0000"/><stop offset="1" stop-color="#b00000"/></linearGradient></defs><rect x="593" y="341" width="15" height="241.5" fill="url(#cb)"/><rect x="608" y="341" width="1.2" height="242.0" fill="#000"/><path d="M608.5,581.5h6.5M608.5,578.5h6.5M608.5,574.5h3.5M608.5,570.5h3.5M608.5,566.5h3.5M608.5,562.5h3.5M608.5,558.5h6.5M608.5,554.5h3.5M608.5,550.5h3.5M608.5,546.5h3.5M608.5,543.5h3.5M608.5,539.5h6.5M608.5,535.5h3.5M608.5,531.5h3.5M608.5,527.5h3.5M608.5,523.5h3.5M608.5,519.5h6.5M608.5,515.5h3.5M608.5,512.5h3.5M608.5,508.5h3.5M608.5,504.5h3.5M608.5,500.5h6.5M608.5,496.5h3.5M608.5,492.5h3.5M608.5,488.5h3.5M608.5,484.5h3.5M608.5,480.5h6.5M608.5,477.5h3.5M608.5,473.5h3.5M608.5,469.5h3.5M608.5,465.5h3.5M608.5,461.5h6.5M608.5,457.5h3.5M608.5,453.5h3.5M608.5,449.5h3.5M608.5,445.5h3.5M608.5,442.5h6.5M608.5,438.5h3.5M608.5,434.5h3.5M608.5,430.5h3.5M608.5,426.5h3.5M608.5,422.5h6.5M608.5,418.5h3.5M608.5,414.5h3.5M608.5,410.5h3.5M608.5,407.5h3.5M608.5,403.5h6.5M608.5,399.5h3.5M608.5,395.5h3.5M608.5,391.5h3.5M608.5,387.5h3.5M608.5,383.5h6.5M608.5,379.5h3.5M608.5,376.5h3.5M608.5,372.5h3.5M608.5,368.5h3.5M608.5,364.5h6.5M608.5,360.5h3.5M608.5,356.5h3.5M608.5,352.5h3.5M608.5,348.5h3.5M608.5,344.5h6.5M608.5,341.5h6.5" stroke="#000" stroke-width="1.1" shape-rendering="crispEdges"/><text x="618" y="345.0" font-family="Liberation Sans, sans-serif" font-weight="bold" font-size="11" fill="#000" textLength="18" lengthAdjust="spacingAndGlyphs">3.1</text><text x="618" y="368.3" font-family="Liberation Sans, sans-serif" font-weight="bold" font-size="11" fill="#000" textLength="18" lengthAdjust="spacingAndGlyphs">2.5</text><text x="618" y="387.7" font-family="Liberation Sans, sans-serif" font-weight="bold" font-size="11" fill="#000" textLength="18" lengthAdjust="spacingAndGlyphs">2.0</text><text x="618" y="407.1" font-family="Liberation Sans, sans-serif" font-weight="bold" font-size="11" fill="#000" textLength="18" lengthAdjust="spacingAndGlyphs">1.5</text><text x="618" y="426.5" font-family="Liberation Sans, sans-serif" font-weight="bold" font-size="11" fill="#000" textLength="18" lengthAdjust="spacingAndGlyphs">1.0</text><text x="618" y="446.0" font-family="Liberation Sans, sans-serif" font-weight="bold" font-size="11" fill="#000" textLength="18" lengthAdjust="spacingAndGlyphs">0.5</text><text x="618" y="465.4" font-family="Liberation Sans, sans-serif" font-weight="bold" font-size="11" fill="#000" textLength="6.4" lengthAdjust="spacingAndGlyphs">0</text><text x="618" y="484.8" font-family="Liberation Sans, sans-serif" font-weight="bold" font-size="11" fill="#000" textLength="23" lengthAdjust="spacingAndGlyphs">-0.5</text><text x="618" y="504.2" font-family="Liberation Sans, sans-serif" font-weight="bold" font-size="11" fill="#000" textLength="23" lengthAdjust="spacingAndGlyphs">-1.0</text><text x="618" y="523.7" font-family="Liberation Sans, sans-serif" font-weight="bold" font-size="11" fill="#000" textLength="23" lengthAdjust="spacingAndGlyphs">-1.5</text><text x="618" y="543.1" font-family="Liberation Sans, sans-serif" font-weight="bold" font-size="11" fill="#000" textLength="23" lengthAdjust="spacingAndGlyphs">-2.0</text><text x="618" y="562.5" font-family="Liberation Sans, sans-serif" font-weight="bold" font-size="11" fill="#000" textLength="23" lengthAdjust="spacingAndGlyphs">-2.5</text><text x="618" y="585.8" font-family="Liberation Sans, sans-serif" font-weight="bold" font-size="11" fill="#000" textLength="23" lengthAdjust="spacingAndGlyphs">-3.1</text><text transform="translate(657.3,491.8) rotate(-90)" font-family="Liberation Sans, sans-serif" font-weight="bold" font-size="10.5" fill="#000" textLength="53" lengthAdjust="spacingAndGlyphs">Doppler, Hz</text><path d="M669,402.8h8.3M673.2,398.6v8.3" stroke="#1010e0" stroke-width="1.2"/><text x="682.3" y="407" font-family="Liberation Sans, sans-serif" font-weight="bold" font-size="11" fill="#1010e0" textLength="44.8" lengthAdjust="spacingAndGlyphs">Positive</text><circle cx="673" cy="523" r="2.6" fill="none" stroke="#f00000" stroke-width="1.1"/><text x="682.3" y="526.5" font-family="Liberation Sans, sans-serif" font-weight="bold" font-size="11" fill="#f00000" textLength="51" lengthAdjust="spacingAndGlyphs">Negative</text><text x="11.5" y="592.8" font-family="Liberation Mono, monospace" font-style="italic" font-size="11.67" fill="#000" xml:space="preserve">Geographic coordinates</text><text x="418.5" y="592.8" font-family="Liberation Mono, monospace" font-style="italic" font-size="11.67" fill="#000" xml:space="preserve">Zenith: max 40°</text><text x="535.3" y="592.8" font-family="Liberation Mono, monospace" font-style="italic" font-size="11.67" fill="#000" xml:space="preserve">step 5°</text><text x="654.7" y="593" font-family="Liberation Sans, sans-serif" font-size="10" fill="#000" textLength="88.5" lengthAdjust="spacingAndGlyphs">ShowSkymap v 1.0</text><text x="754" y="593" font-family="Liberation Sans, sans-serif" font-size="10" fill="#000" textLength="37.6" lengthAdjust="spacingAndGlyphs">SD v 5.1</text></svg></body></html>
